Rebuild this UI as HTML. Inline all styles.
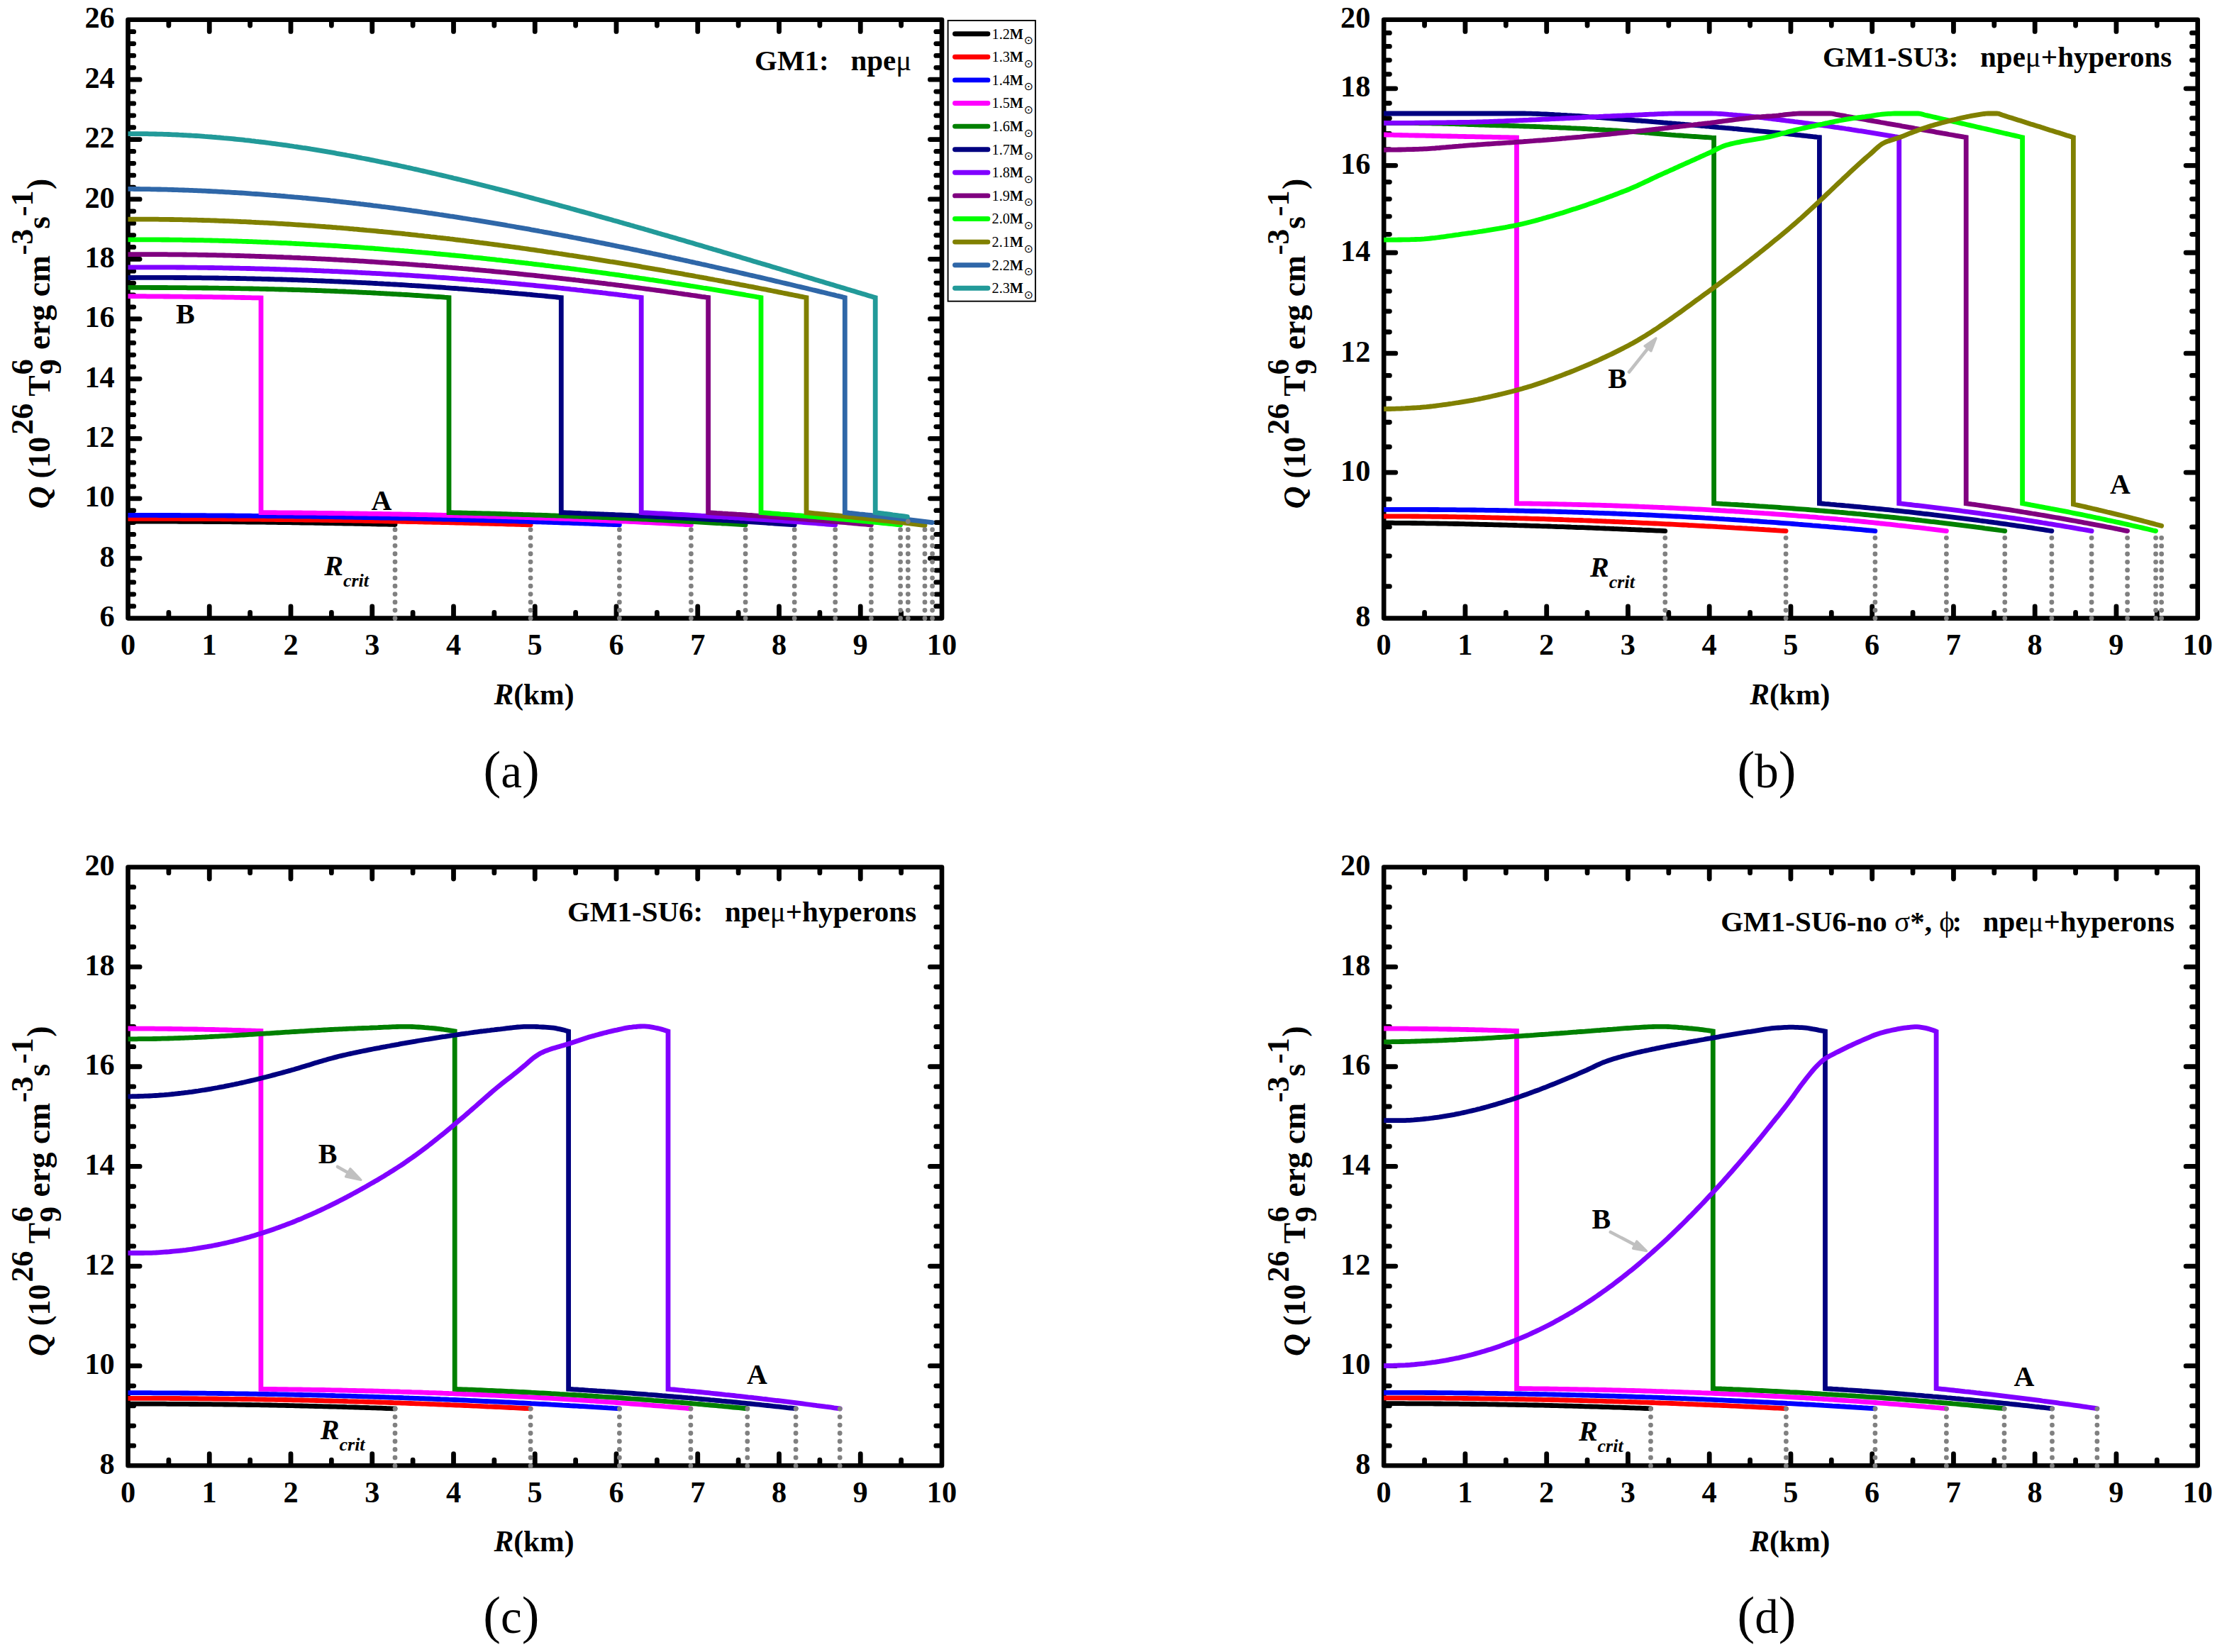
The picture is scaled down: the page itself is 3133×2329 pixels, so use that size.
<!DOCTYPE html>
<html><head><meta charset="utf-8"><title>Q versus R for GM1 models</title>
<style>html,body{margin:0;padding:0;background:#fff}svg{display:block}</style></head>
<body>
<svg width="3133" height="2329" viewBox="0 0 3133 2329">
<defs><clipPath id="ca"><rect x="180.5" y="7.800000000000001" width="1167.5" height="883.8000000000001"/></clipPath><clipPath id="cb"><rect x="1951.2" y="7.800000000000001" width="1167.4999999999998" height="883.8000000000001"/></clipPath><clipPath id="cc"><rect x="180.5" y="1202.5" width="1167.5" height="883.8000000000002"/></clipPath><clipPath id="cd"><rect x="1951.2" y="1202.5" width="1167.4999999999998" height="883.8000000000002"/></clipPath></defs>
<rect width="3133" height="2329" fill="#fff"/>
<rect x="180.5" y="27.8" width="1147.50" height="843.80" fill="none" stroke="#000" stroke-width="6.6" stroke-linejoin="round"/>
<path d="M237.88 869.6 v-6.199999999999999 M237.88 29.8 v6.199999999999999 M295.25 869.6 v-14.600000000000001 M295.25 29.8 v14.600000000000001 M352.62 869.6 v-6.199999999999999 M352.62 29.8 v6.199999999999999 M410.00 869.6 v-14.600000000000001 M410.00 29.8 v14.600000000000001 M467.38 869.6 v-6.199999999999999 M467.38 29.8 v6.199999999999999 M524.75 869.6 v-14.600000000000001 M524.75 29.8 v14.600000000000001 M582.12 869.6 v-6.199999999999999 M582.12 29.8 v6.199999999999999 M639.50 869.6 v-14.600000000000001 M639.50 29.8 v14.600000000000001 M696.88 869.6 v-6.199999999999999 M696.88 29.8 v6.199999999999999 M754.25 869.6 v-14.600000000000001 M754.25 29.8 v14.600000000000001 M811.62 869.6 v-6.199999999999999 M811.62 29.8 v6.199999999999999 M869.00 869.6 v-14.600000000000001 M869.00 29.8 v14.600000000000001 M926.38 869.6 v-6.199999999999999 M926.38 29.8 v6.199999999999999 M983.75 869.6 v-14.600000000000001 M983.75 29.8 v14.600000000000001 M1041.12 869.6 v-6.199999999999999 M1041.12 29.8 v6.199999999999999 M1098.50 869.6 v-14.600000000000001 M1098.50 29.8 v14.600000000000001 M1155.88 869.6 v-6.199999999999999 M1155.88 29.8 v6.199999999999999 M1213.25 869.6 v-14.600000000000001 M1213.25 29.8 v14.600000000000001 M1270.62 869.6 v-6.199999999999999 M1270.62 29.8 v6.199999999999999 M182.5 787.22 h14.600000000000001 M1326.0 787.22 h-14.600000000000001 M182.5 702.84 h14.600000000000001 M1326.0 702.84 h-14.600000000000001 M182.5 618.46 h14.600000000000001 M1326.0 618.46 h-14.600000000000001 M182.5 534.08 h14.600000000000001 M1326.0 534.08 h-14.600000000000001 M182.5 449.70 h14.600000000000001 M1326.0 449.70 h-14.600000000000001 M182.5 365.32 h14.600000000000001 M1326.0 365.32 h-14.600000000000001 M182.5 280.94 h14.600000000000001 M1326.0 280.94 h-14.600000000000001 M182.5 196.56 h14.600000000000001 M1326.0 196.56 h-14.600000000000001 M182.5 112.18 h14.600000000000001 M1326.0 112.18 h-14.600000000000001 M182.5 854.72 h6.199999999999999 M1326.0 854.72 h-6.199999999999999 M182.5 837.85 h6.199999999999999 M1326.0 837.85 h-6.199999999999999 M182.5 820.97 h6.199999999999999 M1326.0 820.97 h-6.199999999999999 M182.5 804.10 h6.199999999999999 M1326.0 804.10 h-6.199999999999999 M182.5 770.34 h6.199999999999999 M1326.0 770.34 h-6.199999999999999 M182.5 753.47 h6.199999999999999 M1326.0 753.47 h-6.199999999999999 M182.5 736.59 h6.199999999999999 M1326.0 736.59 h-6.199999999999999 M182.5 719.72 h6.199999999999999 M1326.0 719.72 h-6.199999999999999 M182.5 685.96 h6.199999999999999 M1326.0 685.96 h-6.199999999999999 M182.5 669.09 h6.199999999999999 M1326.0 669.09 h-6.199999999999999 M182.5 652.21 h6.199999999999999 M1326.0 652.21 h-6.199999999999999 M182.5 635.34 h6.199999999999999 M1326.0 635.34 h-6.199999999999999 M182.5 601.58 h6.199999999999999 M1326.0 601.58 h-6.199999999999999 M182.5 584.71 h6.199999999999999 M1326.0 584.71 h-6.199999999999999 M182.5 567.83 h6.199999999999999 M1326.0 567.83 h-6.199999999999999 M182.5 550.96 h6.199999999999999 M1326.0 550.96 h-6.199999999999999 M182.5 517.20 h6.199999999999999 M1326.0 517.20 h-6.199999999999999 M182.5 500.33 h6.199999999999999 M1326.0 500.33 h-6.199999999999999 M182.5 483.45 h6.199999999999999 M1326.0 483.45 h-6.199999999999999 M182.5 466.58 h6.199999999999999 M1326.0 466.58 h-6.199999999999999 M182.5 432.82 h6.199999999999999 M1326.0 432.82 h-6.199999999999999 M182.5 415.95 h6.199999999999999 M1326.0 415.95 h-6.199999999999999 M182.5 399.07 h6.199999999999999 M1326.0 399.07 h-6.199999999999999 M182.5 382.20 h6.199999999999999 M1326.0 382.20 h-6.199999999999999 M182.5 348.44 h6.199999999999999 M1326.0 348.44 h-6.199999999999999 M182.5 331.57 h6.199999999999999 M1326.0 331.57 h-6.199999999999999 M182.5 314.69 h6.199999999999999 M1326.0 314.69 h-6.199999999999999 M182.5 297.82 h6.199999999999999 M1326.0 297.82 h-6.199999999999999 M182.5 264.06 h6.199999999999999 M1326.0 264.06 h-6.199999999999999 M182.5 247.19 h6.199999999999999 M1326.0 247.19 h-6.199999999999999 M182.5 230.31 h6.199999999999999 M1326.0 230.31 h-6.199999999999999 M182.5 213.44 h6.199999999999999 M1326.0 213.44 h-6.199999999999999 M182.5 179.68 h6.199999999999999 M1326.0 179.68 h-6.199999999999999 M182.5 162.81 h6.199999999999999 M1326.0 162.81 h-6.199999999999999 M182.5 145.93 h6.199999999999999 M1326.0 145.93 h-6.199999999999999 M182.5 129.06 h6.199999999999999 M1326.0 129.06 h-6.199999999999999 M182.5 95.30 h6.199999999999999 M1326.0 95.30 h-6.199999999999999 M182.5 78.43 h6.199999999999999 M1326.0 78.43 h-6.199999999999999 M182.5 61.55 h6.199999999999999 M1326.0 61.55 h-6.199999999999999 M182.5 44.68 h6.199999999999999 M1326.0 44.68 h-6.199999999999999" fill="none" stroke="#000" stroke-width="6.8" stroke-linecap="round"/>
<g font-family='"Liberation Serif", "DejaVu Serif", serif' font-weight="bold" font-size="42.3" fill="#000">
<g text-anchor="middle">
<text x="180.5" y="922.8">0</text>
<text x="295.2" y="922.8">1</text>
<text x="410.0" y="922.8">2</text>
<text x="524.8" y="922.8">3</text>
<text x="639.5" y="922.8">4</text>
<text x="754.2" y="922.8">5</text>
<text x="869.0" y="922.8">6</text>
<text x="983.8" y="922.8">7</text>
<text x="1098.5" y="922.8">8</text>
<text x="1213.2" y="922.8">9</text>
<text x="1328.0" y="922.8">10</text>
</g><g text-anchor="end">
<text x="161.7" y="883.2">6</text>
<text x="161.7" y="798.8">8</text>
<text x="161.7" y="714.4">10</text>
<text x="161.7" y="630.1">12</text>
<text x="161.7" y="545.7">14</text>
<text x="161.7" y="461.3">16</text>
<text x="161.7" y="376.9">18</text>
<text x="161.7" y="292.5">20</text>
<text x="161.7" y="208.2">22</text>
<text x="161.7" y="123.8">24</text>
<text x="161.7" y="39.4">26</text>
</g></g>
<text transform="translate(69.5,717.3) rotate(-90)" font-family='"Liberation Serif", "DejaVu Serif", serif' font-weight="bold" font-size="44" fill="#000" xml:space="preserve"><tspan font-style="italic">Q</tspan> (10<tspan dx="3" dy="-23.1">26</tspan><tspan dy="23.1"> T</tspan><tspan dx="1" dy="-23.1">6</tspan><tspan dx="-22" dy="39.2">9</tspan><tspan dx="2" dy="-16.1" font-size="45.6"> erg cm</tspan><tspan dx="0.5" dy="-23.1">-3</tspan><tspan dy="23.1" font-size="45.6">s</tspan><tspan dy="-23.1">-1</tspan><tspan dx="1.5" dy="23.1" font-size="45.6">)</tspan></text>
<text x="753.0" y="992.7" text-anchor="middle" font-family='"Liberation Serif", "DejaVu Serif", serif' font-weight="bold" font-size="41.5" fill="#000"><tspan font-style="italic">R</tspan>(km)</text>
<g clip-path="url(#ca)" fill="none" stroke-width="6.8" stroke-linecap="round" stroke-linejoin="miter">
<path d="M180.5 735.1 L184.5 735.1 L188.5 735.1 L192.5 735.1 L196.5 735.1 L200.5 735.1 L204.5 735.1 L208.5 735.1 L212.5 735.1 L216.5 735.1 L220.6 735.1 L224.6 735.2 L228.6 735.2 L232.6 735.2 L236.6 735.2 L240.6 735.2 L244.6 735.2 L248.6 735.2 L252.6 735.3 L256.6 735.3 L260.6 735.3 L264.6 735.3 L268.6 735.3 L272.6 735.4 L276.6 735.4 L280.6 735.4 L284.6 735.4 L288.6 735.5 L292.6 735.5 L296.7 735.5 L300.7 735.5 L304.7 735.6 L308.7 735.6 L312.7 735.6 L316.7 735.7 L320.7 735.7 L324.7 735.7 L328.7 735.8 L332.7 735.8 L336.7 735.9 L340.7 735.9 L344.7 735.9 L348.7 736.0 L352.7 736.0 L356.7 736.1 L360.7 736.1 L364.7 736.2 L368.8 736.2 L372.8 736.2 L376.8 736.3 L380.8 736.3 L384.8 736.4 L388.8 736.4 L392.8 736.5 L396.8 736.6 L400.8 736.6 L404.8 736.7 L408.8 736.7 L412.8 736.8 L416.8 736.8 L420.8 736.9 L424.8 737.0 L428.8 737.0 L432.8 737.1 L436.8 737.1 L440.8 737.2 L444.9 737.3 L448.9 737.3 L452.9 737.4 L456.9 737.5 L460.9 737.5 L464.9 737.6 L468.9 737.7 L472.9 737.8 L476.9 737.8 L480.9 737.9 L484.9 738.0 L488.9 738.1 L492.9 738.1 L496.9 738.2 L500.9 738.3 L504.9 738.4 L508.9 738.4 L512.9 738.5 L516.9 738.6 L521.0 738.7 L525.0 738.8 L529.0 738.9 L533.0 739.0 L537.0 739.0 L541.0 739.1 L545.0 739.2 L549.0 739.3 L553.0 739.4 L557.0 739.5" stroke="#000000"/>
<path d="M180.5 731.3 L184.5 731.3 L188.6 731.3 L192.6 731.3 L196.6 731.3 L200.6 731.3 L204.7 731.3 L208.7 731.3 L212.7 731.3 L216.7 731.3 L220.8 731.3 L224.8 731.4 L228.8 731.4 L232.8 731.4 L236.9 731.4 L240.9 731.4 L244.9 731.4 L248.9 731.4 L253.0 731.4 L257.0 731.5 L261.0 731.5 L265.0 731.5 L269.1 731.5 L273.1 731.5 L277.1 731.5 L281.1 731.6 L285.2 731.6 L289.2 731.6 L293.2 731.6 L297.2 731.7 L301.3 731.7 L305.3 731.7 L309.3 731.7 L313.3 731.8 L317.4 731.8 L321.4 731.8 L325.4 731.9 L329.4 731.9 L333.5 731.9 L337.5 732.0 L341.5 732.0 L345.5 732.0 L349.6 732.1 L353.6 732.1 L357.6 732.1 L361.6 732.2 L365.7 732.2 L369.7 732.3 L373.7 732.3 L377.8 732.3 L381.8 732.4 L385.8 732.4 L389.8 732.5 L393.9 732.5 L397.9 732.6 L401.9 732.6 L405.9 732.7 L410.0 732.7 L414.0 732.8 L418.0 732.8 L422.0 732.9 L426.1 732.9 L430.1 733.0 L434.1 733.0 L438.1 733.1 L442.2 733.1 L446.2 733.2 L450.2 733.2 L454.2 733.3 L458.3 733.4 L462.3 733.4 L466.3 733.5 L470.3 733.5 L474.4 733.6 L478.4 733.7 L482.4 733.7 L486.4 733.8 L490.5 733.9 L494.5 733.9 L498.5 734.0 L502.5 734.1 L506.6 734.1 L510.6 734.2 L514.6 734.3 L518.6 734.4 L522.7 734.4 L526.7 734.5 L530.7 734.6 L534.7 734.6 L538.8 734.7 L542.8 734.8 L546.8 734.9 L550.8 735.0 L554.9 735.0 L558.9 735.1 L562.9 735.2 L567.0 735.3 L571.0 735.4 L575.0 735.5 L579.0 735.5 L583.1 735.6 L587.1 735.7 L591.1 735.8 L595.1 735.9 L599.2 736.0 L603.2 736.1 L607.2 736.2 L611.2 736.3 L615.3 736.3 L619.3 736.4 L623.3 736.5 L627.3 736.6 L631.4 736.7 L635.4 736.8 L639.4 736.9 L643.4 737.0 L647.5 737.1 L651.5 737.2 L655.5 737.3 L659.5 737.4 L663.6 737.5 L667.6 737.6 L671.6 737.7 L675.6 737.8 L679.7 738.0 L683.7 738.1 L687.7 738.2 L691.7 738.3 L695.8 738.4 L699.8 738.5 L703.8 738.6 L707.8 738.7 L711.9 738.8 L715.9 739.0 L719.9 739.1 L723.9 739.2 L728.0 739.3 L732.0 739.4 L736.0 739.5 L740.0 739.7 L744.1 739.8 L748.1 739.9" stroke="#ff0000"/>
<path d="M180.5 726.4 L184.5 726.4 L188.5 726.4 L192.5 726.4 L196.5 726.4 L200.5 726.4 L204.5 726.4 L208.5 726.4 L212.5 726.4 L216.5 726.4 L220.6 726.4 L224.6 726.5 L228.6 726.5 L232.6 726.5 L236.6 726.5 L240.6 726.5 L244.6 726.5 L248.6 726.5 L252.6 726.5 L256.6 726.6 L260.6 726.6 L264.6 726.6 L268.6 726.6 L272.6 726.6 L276.6 726.7 L280.6 726.7 L284.6 726.7 L288.6 726.7 L292.6 726.8 L296.7 726.8 L300.7 726.8 L304.7 726.8 L308.7 726.9 L312.7 726.9 L316.7 726.9 L320.7 727.0 L324.7 727.0 L328.7 727.0 L332.7 727.1 L336.7 727.1 L340.7 727.1 L344.7 727.2 L348.7 727.2 L352.7 727.2 L356.7 727.3 L360.7 727.3 L364.7 727.4 L368.7 727.4 L372.7 727.4 L376.8 727.5 L380.8 727.5 L384.8 727.6 L388.8 727.6 L392.8 727.7 L396.8 727.7 L400.8 727.8 L404.8 727.8 L408.8 727.9 L412.8 727.9 L416.8 728.0 L420.8 728.0 L424.8 728.1 L428.8 728.1 L432.8 728.2 L436.8 728.2 L440.8 728.3 L444.8 728.4 L448.8 728.4 L452.9 728.5 L456.9 728.5 L460.9 728.6 L464.9 728.7 L468.9 728.7 L472.9 728.8 L476.9 728.9 L480.9 728.9 L484.9 729.0 L488.9 729.1 L492.9 729.1 L496.9 729.2 L500.9 729.3 L504.9 729.4 L508.9 729.4 L512.9 729.5 L516.9 729.6 L520.9 729.7 L524.9 729.7 L529.0 729.8 L533.0 729.9 L537.0 730.0 L541.0 730.1 L545.0 730.1 L549.0 730.2 L553.0 730.3 L557.0 730.4 L561.0 730.5 L565.0 730.6 L569.0 730.6 L573.0 730.7 L577.0 730.8 L581.0 730.9 L585.0 731.0 L589.0 731.1 L593.0 731.2 L597.0 731.3 L601.0 731.4 L605.1 731.5 L609.1 731.6 L613.1 731.7 L617.1 731.8 L621.1 731.9 L625.1 732.0 L629.1 732.1 L633.1 732.2 L637.1 732.3 L641.1 732.4 L645.1 732.5 L649.1 732.6 L653.1 732.7 L657.1 732.8 L661.1 732.9 L665.1 733.0 L669.1 733.1 L673.1 733.2 L677.1 733.3 L681.2 733.4 L685.2 733.6 L689.2 733.7 L693.2 733.8 L697.2 733.9 L701.2 734.0 L705.2 734.1 L709.2 734.3 L713.2 734.4 L717.2 734.5 L721.2 734.6 L725.2 734.7 L729.2 734.9 L733.2 735.0 L737.2 735.1 L741.2 735.2 L745.2 735.4 L749.2 735.5 L753.2 735.6 L757.2 735.8 L761.3 735.9 L765.3 736.0 L769.3 736.1 L773.3 736.3 L777.3 736.4 L781.3 736.5 L785.3 736.7 L789.3 736.8 L793.3 737.0 L797.3 737.1 L801.3 737.2 L805.3 737.4 L809.3 737.5 L813.3 737.7 L817.3 737.8 L821.3 737.9 L825.3 738.1 L829.3 738.2 L833.3 738.4 L837.4 738.5 L841.4 738.7 L845.4 738.8 L849.4 739.0 L853.4 739.1 L857.4 739.3 L861.4 739.4 L865.4 739.6 L869.4 739.7 L873.4 739.9" stroke="#0000ff"/>
<path d="M180.5 417.6 L183.5 417.6 L186.5 417.6 L189.6 417.6 L192.6 417.7 L195.6 417.7 L198.6 417.7 L201.7 417.7 L204.7 417.7 L207.7 417.8 L210.7 417.8 L213.8 417.8 L216.8 417.8 L219.8 417.9 L222.8 417.9 L225.9 417.9 L228.9 417.9 L231.9 418.0 L234.9 418.0 L238.0 418.0 L241.0 418.1 L244.0 418.1 L247.0 418.1 L250.1 418.2 L253.1 418.2 L256.1 418.2 L259.1 418.3 L262.2 418.3 L265.2 418.3 L268.2 418.4 L271.2 418.4 L274.2 418.4 L277.3 418.5 L280.3 418.5 L283.3 418.5 L286.3 418.6 L289.4 418.6 L292.4 418.7 L295.4 418.7 L298.4 418.7 L301.5 418.8 L304.5 418.8 L307.5 418.9 L310.5 418.9 L313.6 419.0 L316.6 419.0 L319.6 419.1 L322.6 419.1 L325.7 419.2 L328.7 419.2 L331.7 419.3 L334.7 419.3 L337.8 419.4 L340.8 419.5 L343.8 419.5 L346.8 419.6 L349.9 419.6 L352.9 419.7 L355.9 419.8 L358.9 419.8 L362.0 419.9 L365.0 419.9 L368.0 420.0 L368.0 722.6 L372.0 722.6 L376.0 722.7 L380.0 722.7 L384.1 722.7 L388.1 722.7 L392.1 722.8 L396.1 722.8 L400.1 722.8 L404.1 722.9 L408.2 722.9 L412.2 722.9 L416.2 723.0 L420.2 723.0 L424.2 723.0 L428.2 723.1 L432.3 723.1 L436.3 723.2 L440.3 723.2 L444.3 723.2 L448.3 723.3 L452.3 723.3 L456.3 723.4 L460.4 723.4 L464.4 723.5 L468.4 723.5 L472.4 723.6 L476.4 723.6 L480.4 723.7 L484.5 723.7 L488.5 723.8 L492.5 723.8 L496.5 723.9 L500.5 724.0 L504.5 724.0 L508.6 724.1 L512.6 724.1 L516.6 724.2 L520.6 724.3 L524.6 724.3 L528.6 724.4 L532.7 724.4 L536.7 724.5 L540.7 724.6 L544.7 724.7 L548.7 724.7 L552.7 724.8 L556.7 724.9 L560.8 724.9 L564.8 725.0 L568.8 725.1 L572.8 725.2 L576.8 725.2 L580.8 725.3 L584.9 725.4 L588.9 725.5 L592.9 725.6 L596.9 725.7 L600.9 725.7 L604.9 725.8 L609.0 725.9 L613.0 726.0 L617.0 726.1 L621.0 726.2 L625.0 726.3 L629.0 726.4 L633.0 726.5 L637.1 726.6 L641.1 726.7 L645.1 726.8 L649.1 726.9 L653.1 727.0 L657.1 727.1 L661.2 727.2 L665.2 727.3 L669.2 727.4 L673.2 727.5 L677.2 727.6 L681.2 727.7 L685.3 727.8 L689.3 728.0 L693.3 728.1 L697.3 728.2 L701.3 728.3 L705.3 728.4 L709.4 728.6 L713.4 728.7 L717.4 728.8 L721.4 728.9 L725.4 729.1 L729.4 729.2 L733.4 729.3 L737.5 729.4 L741.5 729.6 L745.5 729.7 L749.5 729.9 L753.5 730.0 L757.5 730.1 L761.6 730.3 L765.6 730.4 L769.6 730.6 L773.6 730.7 L777.6 730.8 L781.6 731.0 L785.7 731.1 L789.7 731.3 L793.7 731.4 L797.7 731.6 L801.7 731.7 L805.7 731.9 L809.7 732.1 L813.8 732.2 L817.8 732.4 L821.8 732.5 L825.8 732.7 L829.8 732.9 L833.8 733.0 L837.9 733.2 L841.9 733.4 L845.9 733.6 L849.9 733.7 L853.9 733.9 L857.9 734.1 L862.0 734.3 L866.0 734.4 L870.0 734.6 L874.0 734.8 L878.0 735.0 L882.0 735.2 L886.1 735.4 L890.1 735.5 L894.1 735.7 L898.1 735.9 L902.1 736.1 L906.1 736.3 L910.1 736.5 L914.2 736.7 L918.2 736.9 L922.2 737.1 L926.2 737.3 L930.2 737.5 L934.2 737.7 L938.3 737.9 L942.3 738.2 L946.3 738.4 L950.3 738.6 L954.3 738.8 L958.3 739.0 L962.4 739.2 L966.4 739.5 L970.4 739.7 L974.4 739.9" stroke="#ff00ff"/>
<path d="M180.5 405.4 L183.5 405.4 L186.5 405.4 L189.6 405.4 L192.6 405.4 L195.6 405.4 L198.6 405.4 L201.6 405.4 L204.6 405.4 L207.7 405.4 L210.7 405.4 L213.7 405.5 L216.7 405.5 L219.7 405.5 L222.7 405.5 L225.8 405.5 L228.8 405.5 L231.8 405.5 L234.8 405.5 L237.8 405.6 L240.8 405.6 L243.8 405.6 L246.9 405.6 L249.9 405.6 L252.9 405.7 L255.9 405.7 L258.9 405.7 L261.9 405.7 L265.0 405.8 L268.0 405.8 L271.0 405.8 L274.0 405.8 L277.0 405.9 L280.1 405.9 L283.1 405.9 L286.1 406.0 L289.1 406.0 L292.1 406.0 L295.1 406.1 L298.1 406.1 L301.2 406.1 L304.2 406.2 L307.2 406.2 L310.2 406.3 L313.2 406.3 L316.2 406.4 L319.3 406.4 L322.3 406.4 L325.3 406.5 L328.3 406.5 L331.3 406.6 L334.4 406.6 L337.4 406.7 L340.4 406.8 L343.4 406.8 L346.4 406.9 L349.4 406.9 L352.4 407.0 L355.5 407.0 L358.5 407.1 L361.5 407.2 L364.5 407.2 L367.5 407.3 L370.5 407.4 L373.6 407.4 L376.6 407.5 L379.6 407.6 L382.6 407.7 L385.6 407.7 L388.6 407.8 L391.7 407.9 L394.7 408.0 L397.7 408.0 L400.7 408.1 L403.7 408.2 L406.8 408.3 L409.8 408.4 L412.8 408.5 L415.8 408.6 L418.8 408.6 L421.8 408.7 L424.9 408.8 L427.9 408.9 L430.9 409.0 L433.9 409.1 L436.9 409.2 L439.9 409.3 L442.9 409.4 L446.0 409.5 L449.0 409.6 L452.0 409.7 L455.0 409.9 L458.0 410.0 L461.1 410.1 L464.1 410.2 L467.1 410.3 L470.1 410.4 L473.1 410.5 L476.1 410.7 L479.1 410.8 L482.2 410.9 L485.2 411.0 L488.2 411.2 L491.2 411.3 L494.2 411.4 L497.2 411.6 L500.3 411.7 L503.3 411.8 L506.3 412.0 L509.3 412.1 L512.3 412.3 L515.3 412.4 L518.4 412.6 L521.4 412.7 L524.4 412.9 L527.4 413.0 L530.4 413.2 L533.5 413.3 L536.5 413.5 L539.5 413.6 L542.5 413.8 L545.5 414.0 L548.5 414.1 L551.5 414.3 L554.6 414.5 L557.6 414.6 L560.6 414.8 L563.6 415.0 L566.6 415.2 L569.6 415.3 L572.7 415.5 L575.7 415.7 L578.7 415.9 L581.7 416.1 L584.7 416.3 L587.8 416.5 L590.8 416.7 L593.8 416.9 L596.8 417.1 L599.8 417.3 L602.8 417.5 L605.8 417.7 L608.9 417.9 L611.9 418.1 L614.9 418.3 L617.9 418.5 L620.9 418.7 L624.0 418.9 L627.0 419.2 L630.0 419.4 L633.0 419.6 L633.0 722.6 L637.0 722.7 L641.0 722.8 L645.1 722.9 L649.1 723.0 L653.1 723.1 L657.1 723.2 L661.1 723.3 L665.2 723.4 L669.2 723.5 L673.2 723.6 L677.2 723.7 L681.2 723.8 L685.3 723.9 L689.3 724.0 L693.3 724.1 L697.3 724.2 L701.3 724.4 L705.4 724.5 L709.4 724.6 L713.4 724.7 L717.4 724.8 L721.4 725.0 L725.5 725.1 L729.5 725.2 L733.5 725.3 L737.5 725.5 L741.5 725.6 L745.6 725.7 L749.6 725.8 L753.6 726.0 L757.6 726.1 L761.6 726.2 L765.7 726.4 L769.7 726.5 L773.7 726.6 L777.7 726.8 L781.7 726.9 L785.8 727.1 L789.8 727.2 L793.8 727.4 L797.8 727.5 L801.8 727.7 L805.9 727.8 L809.9 728.0 L813.9 728.1 L817.9 728.3 L821.9 728.4 L826.0 728.6 L830.0 728.7 L834.0 728.9 L838.0 729.1 L842.0 729.2 L846.1 729.4 L850.1 729.6 L854.1 729.7 L858.1 729.9 L862.2 730.1 L866.2 730.2 L870.2 730.4 L874.2 730.6 L878.2 730.8 L882.3 730.9 L886.3 731.1 L890.3 731.3 L894.3 731.5 L898.3 731.7 L902.4 731.9 L906.4 732.1 L910.4 732.2 L914.4 732.4 L918.4 732.6 L922.5 732.8 L926.5 733.0 L930.5 733.2 L934.5 733.4 L938.5 733.6 L942.6 733.8 L946.6 734.0 L950.6 734.2 L954.6 734.4 L958.6 734.6 L962.7 734.9 L966.7 735.1 L970.7 735.3 L974.7 735.5 L978.7 735.7 L982.8 735.9 L986.8 736.1 L990.8 736.4 L994.8 736.6 L998.8 736.8 L1002.9 737.0 L1006.9 737.3 L1010.9 737.5 L1014.9 737.7 L1018.9 738.0 L1023.0 738.2 L1027.0 738.4 L1031.0 738.7 L1035.0 738.9 L1039.0 739.2 L1043.1 739.4 L1047.1 739.7 L1051.1 739.9" stroke="#008000"/>
<path d="M180.5 391.5 L183.5 391.5 L186.5 391.5 L189.5 391.5 L192.5 391.4 L195.5 391.4 L198.6 391.4 L201.6 391.4 L204.6 391.4 L207.6 391.4 L210.6 391.4 L213.6 391.4 L216.6 391.4 L219.6 391.4 L222.6 391.4 L225.6 391.4 L228.6 391.4 L231.7 391.4 L234.7 391.4 L237.7 391.4 L240.7 391.4 L243.7 391.4 L246.7 391.5 L249.7 391.5 L252.7 391.5 L255.7 391.5 L258.7 391.5 L261.7 391.5 L264.7 391.6 L267.8 391.6 L270.8 391.6 L273.8 391.6 L276.8 391.7 L279.8 391.7 L282.8 391.7 L285.8 391.8 L288.8 391.8 L291.8 391.8 L294.8 391.9 L297.8 391.9 L300.9 391.9 L303.9 392.0 L306.9 392.0 L309.9 392.1 L312.9 392.1 L315.9 392.2 L318.9 392.2 L321.9 392.3 L324.9 392.3 L327.9 392.4 L330.9 392.4 L334.0 392.5 L337.0 392.5 L340.0 392.6 L343.0 392.7 L346.0 392.7 L349.0 392.8 L352.0 392.9 L355.0 392.9 L358.0 393.0 L361.0 393.1 L364.0 393.1 L367.0 393.2 L370.1 393.3 L373.1 393.4 L376.1 393.4 L379.1 393.5 L382.1 393.6 L385.1 393.7 L388.1 393.8 L391.1 393.9 L394.1 393.9 L397.1 394.0 L400.1 394.1 L403.2 394.2 L406.2 394.3 L409.2 394.4 L412.2 394.5 L415.2 394.6 L418.2 394.7 L421.2 394.8 L424.2 394.9 L427.2 395.0 L430.2 395.1 L433.2 395.2 L436.3 395.3 L439.3 395.4 L442.3 395.6 L445.3 395.7 L448.3 395.8 L451.3 395.9 L454.3 396.0 L457.3 396.1 L460.3 396.3 L463.3 396.4 L466.3 396.5 L469.4 396.6 L472.4 396.8 L475.4 396.9 L478.4 397.0 L481.4 397.2 L484.4 397.3 L487.4 397.4 L490.4 397.6 L493.4 397.7 L496.4 397.9 L499.4 398.0 L502.4 398.1 L505.5 398.3 L508.5 398.4 L511.5 398.6 L514.5 398.7 L517.5 398.9 L520.5 399.0 L523.5 399.2 L526.5 399.4 L529.5 399.5 L532.5 399.7 L535.5 399.8 L538.6 400.0 L541.6 400.2 L544.6 400.3 L547.6 400.5 L550.6 400.7 L553.6 400.8 L556.6 401.0 L559.6 401.2 L562.6 401.4 L565.6 401.5 L568.6 401.7 L571.7 401.9 L574.7 402.1 L577.7 402.3 L580.7 402.5 L583.7 402.6 L586.7 402.8 L589.7 403.0 L592.7 403.2 L595.7 403.4 L598.7 403.6 L601.7 403.8 L604.8 404.0 L607.8 404.2 L610.8 404.4 L613.8 404.6 L616.8 404.8 L619.8 405.0 L622.8 405.2 L625.8 405.4 L628.8 405.7 L631.8 405.9 L634.8 406.1 L637.8 406.3 L640.9 406.5 L643.9 406.7 L646.9 407.0 L649.9 407.2 L652.9 407.4 L655.9 407.6 L658.9 407.9 L661.9 408.1 L664.9 408.3 L667.9 408.6 L670.9 408.8 L674.0 409.0 L677.0 409.3 L680.0 409.5 L683.0 409.8 L686.0 410.0 L689.0 410.2 L692.0 410.5 L695.0 410.7 L698.0 411.0 L701.0 411.2 L704.0 411.5 L707.1 411.8 L710.1 412.0 L713.1 412.3 L716.1 412.5 L719.1 412.8 L722.1 413.1 L725.1 413.3 L728.1 413.6 L731.1 413.9 L734.1 414.1 L737.1 414.4 L740.1 414.7 L743.2 415.0 L746.2 415.2 L749.2 415.5 L752.2 415.8 L755.2 416.1 L758.2 416.4 L761.2 416.6 L764.2 416.9 L767.2 417.2 L770.2 417.5 L773.2 417.8 L776.3 418.1 L779.3 418.4 L782.3 418.7 L785.3 419.0 L788.3 419.3 L791.3 419.6 L791.3 722.6 L795.3 722.7 L799.3 722.9 L803.3 723.0 L807.3 723.2 L811.4 723.4 L815.4 723.5 L819.4 723.7 L823.4 723.8 L827.4 724.0 L831.4 724.1 L835.4 724.3 L839.4 724.5 L843.4 724.6 L847.5 724.8 L851.5 725.0 L855.5 725.1 L859.5 725.3 L863.5 725.5 L867.5 725.7 L871.5 725.8 L875.5 726.0 L879.5 726.2 L883.6 726.4 L887.6 726.5 L891.6 726.7 L895.6 726.9 L899.6 727.1 L903.6 727.3 L907.6 727.5 L911.6 727.7 L915.6 727.9 L919.7 728.1 L923.7 728.3 L927.7 728.5 L931.7 728.7 L935.7 728.9 L939.7 729.1 L943.7 729.3 L947.7 729.5 L951.7 729.7 L955.8 729.9 L959.8 730.1 L963.8 730.3 L967.8 730.5 L971.8 730.7 L975.8 731.0 L979.8 731.2 L983.8 731.4 L987.8 731.6 L991.8 731.8 L995.9 732.1 L999.9 732.3 L1003.9 732.5 L1007.9 732.7 L1011.9 733.0 L1015.9 733.2 L1019.9 733.5 L1023.9 733.7 L1027.9 733.9 L1032.0 734.2 L1036.0 734.4 L1040.0 734.7 L1044.0 734.9 L1048.0 735.1 L1052.0 735.4 L1056.0 735.6 L1060.0 735.9 L1064.0 736.2 L1068.1 736.4 L1072.1 736.7 L1076.1 736.9 L1080.1 737.2 L1084.1 737.5 L1088.1 737.7 L1092.1 738.0 L1096.1 738.3 L1100.1 738.5 L1104.2 738.8 L1108.2 739.1 L1112.2 739.3 L1116.2 739.6 L1120.2 739.9" stroke="#000080"/>
<path d="M180.5 376.8 L183.5 376.8 L186.5 376.8 L189.5 376.8 L192.5 376.8 L195.5 376.8 L198.5 376.8 L201.5 376.8 L204.5 376.8 L207.5 376.8 L210.5 376.8 L213.5 376.8 L216.5 376.8 L219.5 376.8 L222.5 376.8 L225.5 376.8 L228.5 376.8 L231.5 376.8 L234.6 376.9 L237.6 376.9 L240.6 376.9 L243.6 376.9 L246.6 376.9 L249.6 377.0 L252.6 377.0 L255.6 377.0 L258.6 377.0 L261.6 377.1 L264.6 377.1 L267.6 377.1 L270.6 377.2 L273.6 377.2 L276.6 377.2 L279.6 377.3 L282.6 377.3 L285.6 377.3 L288.6 377.4 L291.6 377.4 L294.6 377.5 L297.6 377.5 L300.6 377.5 L303.6 377.6 L306.6 377.6 L309.6 377.7 L312.6 377.7 L315.6 377.8 L318.6 377.9 L321.6 377.9 L324.6 378.0 L327.6 378.0 L330.6 378.1 L333.6 378.1 L336.7 378.2 L339.7 378.3 L342.7 378.3 L345.7 378.4 L348.7 378.5 L351.7 378.5 L354.7 378.6 L357.7 378.7 L360.7 378.8 L363.7 378.8 L366.7 378.9 L369.7 379.0 L372.7 379.1 L375.7 379.2 L378.7 379.2 L381.7 379.3 L384.7 379.4 L387.7 379.5 L390.7 379.6 L393.7 379.7 L396.7 379.8 L399.7 379.9 L402.7 380.0 L405.7 380.1 L408.7 380.2 L411.7 380.3 L414.7 380.4 L417.7 380.5 L420.7 380.6 L423.7 380.7 L426.7 380.8 L429.7 380.9 L432.7 381.0 L435.7 381.1 L438.7 381.2 L441.8 381.4 L444.8 381.5 L447.8 381.6 L450.8 381.7 L453.8 381.8 L456.8 382.0 L459.8 382.1 L462.8 382.2 L465.8 382.3 L468.8 382.5 L471.8 382.6 L474.8 382.7 L477.8 382.9 L480.8 383.0 L483.8 383.1 L486.8 383.3 L489.8 383.4 L492.8 383.6 L495.8 383.7 L498.8 383.9 L501.8 384.0 L504.8 384.2 L507.8 384.3 L510.8 384.5 L513.8 384.6 L516.8 384.8 L519.8 384.9 L522.8 385.1 L525.8 385.3 L528.8 385.4 L531.8 385.6 L534.8 385.7 L537.8 385.9 L540.8 386.1 L543.9 386.3 L546.9 386.4 L549.9 386.6 L552.9 386.8 L555.9 386.9 L558.9 387.1 L561.9 387.3 L564.9 387.5 L567.9 387.7 L570.9 387.9 L573.9 388.0 L576.9 388.2 L579.9 388.4 L582.9 388.6 L585.9 388.8 L588.9 389.0 L591.9 389.2 L594.9 389.4 L597.9 389.6 L600.9 389.8 L603.9 390.0 L606.9 390.2 L609.9 390.4 L612.9 390.6 L615.9 390.9 L618.9 391.1 L621.9 391.3 L624.9 391.5 L627.9 391.7 L630.9 391.9 L633.9 392.2 L636.9 392.4 L639.9 392.6 L642.9 392.8 L646.0 393.1 L649.0 393.3 L652.0 393.5 L655.0 393.8 L658.0 394.0 L661.0 394.2 L664.0 394.5 L667.0 394.7 L670.0 395.0 L673.0 395.2 L676.0 395.4 L679.0 395.7 L682.0 395.9 L685.0 396.2 L688.0 396.4 L691.0 396.7 L694.0 397.0 L697.0 397.2 L700.0 397.5 L703.0 397.7 L706.0 398.0 L709.0 398.3 L712.0 398.5 L715.0 398.8 L718.0 399.1 L721.0 399.4 L724.0 399.6 L727.0 399.9 L730.0 400.2 L733.0 400.5 L736.0 400.8 L739.0 401.0 L742.0 401.3 L745.0 401.6 L748.0 401.9 L751.1 402.2 L754.1 402.5 L757.1 402.8 L760.1 403.1 L763.1 403.4 L766.1 403.7 L769.1 404.0 L772.1 404.3 L775.1 404.6 L778.1 404.9 L781.1 405.2 L784.1 405.5 L787.1 405.8 L790.1 406.2 L793.1 406.5 L796.1 406.8 L799.1 407.1 L802.1 407.4 L805.1 407.8 L808.1 408.1 L811.1 408.4 L814.1 408.8 L817.1 409.1 L820.1 409.4 L823.1 409.8 L826.1 410.1 L829.1 410.4 L832.1 410.8 L835.1 411.1 L838.1 411.5 L841.1 411.8 L844.1 412.2 L847.1 412.5 L850.1 412.9 L853.2 413.2 L856.2 413.6 L859.2 414.0 L862.2 414.3 L865.2 414.7 L868.2 415.0 L871.2 415.4 L874.2 415.8 L877.2 416.2 L880.2 416.5 L883.2 416.9 L886.2 417.3 L889.2 417.7 L892.2 418.1 L895.2 418.4 L898.2 418.8 L901.2 419.2 L904.2 419.6 L904.2 722.6 L908.2 722.8 L912.2 723.0 L916.3 723.2 L920.3 723.4 L924.3 723.6 L928.3 723.8 L932.4 724.0 L936.4 724.2 L940.4 724.4 L944.4 724.6 L948.4 724.9 L952.5 725.1 L956.5 725.3 L960.5 725.5 L964.5 725.7 L968.6 725.9 L972.6 726.2 L976.6 726.4 L980.6 726.6 L984.6 726.8 L988.7 727.1 L992.7 727.3 L996.7 727.5 L1000.7 727.8 L1004.8 728.0 L1008.8 728.3 L1012.8 728.5 L1016.8 728.7 L1020.8 729.0 L1024.9 729.2 L1028.9 729.5 L1032.9 729.7 L1036.9 730.0 L1041.0 730.2 L1045.0 730.5 L1049.0 730.7 L1053.0 731.0 L1057.0 731.3 L1061.1 731.5 L1065.1 731.8 L1069.1 732.0 L1073.1 732.3 L1077.1 732.6 L1081.2 732.8 L1085.2 733.1 L1089.2 733.4 L1093.2 733.7 L1097.3 733.9 L1101.3 734.2 L1105.3 734.5 L1109.3 734.8 L1113.3 735.1 L1117.4 735.4 L1121.4 735.7 L1125.4 735.9 L1129.4 736.2 L1133.5 736.5 L1137.5 736.8 L1141.5 737.1 L1145.5 737.4 L1149.5 737.7 L1153.6 738.0 L1157.6 738.3 L1161.6 738.6 L1165.6 739.0 L1169.7 739.3 L1173.7 739.6 L1177.7 739.9" stroke="#8000ff"/>
<path d="M180.5 358.6 L183.5 358.6 L186.5 358.6 L189.5 358.6 L192.5 358.6 L195.5 358.6 L198.5 358.6 L201.6 358.6 L204.6 358.6 L207.6 358.6 L210.6 358.6 L213.6 358.6 L216.6 358.6 L219.6 358.6 L222.6 358.7 L225.6 358.7 L228.6 358.7 L231.6 358.7 L234.6 358.7 L237.6 358.8 L240.7 358.8 L243.7 358.8 L246.7 358.8 L249.7 358.9 L252.7 358.9 L255.7 358.9 L258.7 359.0 L261.7 359.0 L264.7 359.1 L267.7 359.1 L270.7 359.1 L273.7 359.2 L276.7 359.2 L279.8 359.3 L282.8 359.3 L285.8 359.4 L288.8 359.4 L291.8 359.5 L294.8 359.6 L297.8 359.6 L300.8 359.7 L303.8 359.7 L306.8 359.8 L309.8 359.9 L312.8 359.9 L315.8 360.0 L318.9 360.1 L321.9 360.2 L324.9 360.2 L327.9 360.3 L330.9 360.4 L333.9 360.5 L336.9 360.5 L339.9 360.6 L342.9 360.7 L345.9 360.8 L348.9 360.9 L351.9 361.0 L354.9 361.1 L358.0 361.2 L361.0 361.3 L364.0 361.4 L367.0 361.5 L370.0 361.6 L373.0 361.7 L376.0 361.8 L379.0 361.9 L382.0 362.0 L385.0 362.1 L388.0 362.2 L391.0 362.3 L394.0 362.4 L397.1 362.5 L400.1 362.7 L403.1 362.8 L406.1 362.9 L409.1 363.0 L412.1 363.2 L415.1 363.3 L418.1 363.4 L421.1 363.5 L424.1 363.7 L427.1 363.8 L430.1 363.9 L433.1 364.1 L436.2 364.2 L439.2 364.4 L442.2 364.5 L445.2 364.6 L448.2 364.8 L451.2 364.9 L454.2 365.1 L457.2 365.2 L460.2 365.4 L463.2 365.5 L466.2 365.7 L469.2 365.9 L472.2 366.0 L475.3 366.2 L478.3 366.3 L481.3 366.5 L484.3 366.7 L487.3 366.8 L490.3 367.0 L493.3 367.2 L496.3 367.4 L499.3 367.5 L502.3 367.7 L505.3 367.9 L508.3 368.1 L511.3 368.2 L514.4 368.4 L517.4 368.6 L520.4 368.8 L523.4 369.0 L526.4 369.2 L529.4 369.4 L532.4 369.6 L535.4 369.8 L538.4 370.0 L541.4 370.2 L544.4 370.4 L547.4 370.6 L550.4 370.8 L553.5 371.0 L556.5 371.2 L559.5 371.4 L562.5 371.6 L565.5 371.8 L568.5 372.0 L571.5 372.2 L574.5 372.4 L577.5 372.7 L580.5 372.9 L583.5 373.1 L586.5 373.3 L589.5 373.6 L592.6 373.8 L595.6 374.0 L598.6 374.2 L601.6 374.5 L604.6 374.7 L607.6 374.9 L610.6 375.2 L613.6 375.4 L616.6 375.7 L619.6 375.9 L622.6 376.1 L625.6 376.4 L628.7 376.6 L631.7 376.9 L634.7 377.1 L637.7 377.4 L640.7 377.6 L643.7 377.9 L646.7 378.2 L649.7 378.4 L652.7 378.7 L655.7 378.9 L658.7 379.2 L661.7 379.5 L664.7 379.7 L667.8 380.0 L670.8 380.3 L673.8 380.5 L676.8 380.8 L679.8 381.1 L682.8 381.4 L685.8 381.7 L688.8 381.9 L691.8 382.2 L694.8 382.5 L697.8 382.8 L700.8 383.1 L703.8 383.4 L706.9 383.7 L709.9 383.9 L712.9 384.2 L715.9 384.5 L718.9 384.8 L721.9 385.1 L724.9 385.4 L727.9 385.7 L730.9 386.0 L733.9 386.3 L736.9 386.6 L739.9 387.0 L742.9 387.3 L746.0 387.6 L749.0 387.9 L752.0 388.2 L755.0 388.5 L758.0 388.8 L761.0 389.2 L764.0 389.5 L767.0 389.8 L770.0 390.1 L773.0 390.5 L776.0 390.8 L779.0 391.1 L782.0 391.5 L785.1 391.8 L788.1 392.1 L791.1 392.5 L794.1 392.8 L797.1 393.1 L800.1 393.5 L803.1 393.8 L806.1 394.2 L809.1 394.5 L812.1 394.9 L815.1 395.2 L818.1 395.6 L821.1 395.9 L824.2 396.3 L827.2 396.6 L830.2 397.0 L833.2 397.3 L836.2 397.7 L839.2 398.1 L842.2 398.4 L845.2 398.8 L848.2 399.2 L851.2 399.5 L854.2 399.9 L857.2 400.3 L860.2 400.6 L863.3 401.0 L866.3 401.4 L869.3 401.8 L872.3 402.2 L875.3 402.5 L878.3 402.9 L881.3 403.3 L884.3 403.7 L887.3 404.1 L890.3 404.5 L893.3 404.9 L896.3 405.3 L899.3 405.7 L902.4 406.1 L905.4 406.5 L908.4 406.9 L911.4 407.3 L914.4 407.7 L917.4 408.1 L920.4 408.5 L923.4 408.9 L926.4 409.3 L929.4 409.7 L932.4 410.1 L935.4 410.5 L938.4 410.9 L941.5 411.4 L944.5 411.8 L947.5 412.2 L950.5 412.6 L953.5 413.0 L956.5 413.5 L959.5 413.9 L962.5 414.3 L965.5 414.8 L968.5 415.2 L971.5 415.6 L974.5 416.1 L977.5 416.5 L980.6 416.9 L983.6 417.4 L986.6 417.8 L989.6 418.3 L992.6 418.7 L995.6 419.2 L998.6 419.6 L998.6 722.6 L1002.6 722.8 L1006.7 723.1 L1010.7 723.4 L1014.7 723.6 L1018.8 723.9 L1022.8 724.1 L1026.8 724.4 L1030.9 724.6 L1034.9 724.9 L1038.9 725.2 L1042.9 725.4 L1047.0 725.7 L1051.0 726.0 L1055.0 726.3 L1059.1 726.5 L1063.1 726.8 L1067.1 727.1 L1071.2 727.4 L1075.2 727.7 L1079.2 727.9 L1083.3 728.2 L1087.3 728.5 L1091.3 728.8 L1095.4 729.1 L1099.4 729.4 L1103.4 729.7 L1107.5 730.0 L1111.5 730.3 L1115.5 730.6 L1119.5 730.9 L1123.6 731.2 L1127.6 731.5 L1131.6 731.8 L1135.7 732.1 L1139.7 732.5 L1143.7 732.8 L1147.8 733.1 L1151.8 733.4 L1155.8 733.7 L1159.9 734.1 L1163.9 734.4 L1167.9 734.7 L1172.0 735.1 L1176.0 735.4 L1180.0 735.7 L1184.1 736.1 L1188.1 736.4 L1192.1 736.7 L1196.1 737.1 L1200.2 737.4 L1204.2 737.8 L1208.2 738.1 L1212.3 738.5 L1216.3 738.8 L1220.3 739.2 L1224.4 739.5 L1228.4 739.9" stroke="#800080"/>
<path d="M180.5 337.9 L183.5 337.9 L186.5 337.9 L189.5 337.9 L192.5 337.9 L195.5 337.9 L198.5 337.9 L201.5 337.9 L204.5 337.9 L207.5 337.9 L210.6 337.9 L213.6 337.9 L216.6 337.9 L219.6 337.9 L222.6 337.9 L225.6 337.9 L228.6 338.0 L231.6 338.0 L234.6 338.0 L237.6 338.0 L240.6 338.1 L243.6 338.1 L246.6 338.1 L249.6 338.2 L252.6 338.2 L255.6 338.2 L258.6 338.3 L261.6 338.3 L264.6 338.4 L267.6 338.4 L270.7 338.5 L273.7 338.5 L276.7 338.6 L279.7 338.6 L282.7 338.7 L285.7 338.7 L288.7 338.8 L291.7 338.9 L294.7 338.9 L297.7 339.0 L300.7 339.1 L303.7 339.2 L306.7 339.2 L309.7 339.3 L312.7 339.4 L315.7 339.5 L318.7 339.6 L321.7 339.6 L324.7 339.7 L327.7 339.8 L330.8 339.9 L333.8 340.0 L336.8 340.1 L339.8 340.2 L342.8 340.3 L345.8 340.4 L348.8 340.5 L351.8 340.6 L354.8 340.7 L357.8 340.8 L360.8 340.9 L363.8 341.1 L366.8 341.2 L369.8 341.3 L372.8 341.4 L375.8 341.5 L378.8 341.7 L381.8 341.8 L384.8 341.9 L387.8 342.1 L390.9 342.2 L393.9 342.3 L396.9 342.5 L399.9 342.6 L402.9 342.7 L405.9 342.9 L408.9 343.0 L411.9 343.2 L414.9 343.3 L417.9 343.5 L420.9 343.6 L423.9 343.8 L426.9 343.9 L429.9 344.1 L432.9 344.3 L435.9 344.4 L438.9 344.6 L441.9 344.8 L444.9 344.9 L447.9 345.1 L451.0 345.3 L454.0 345.4 L457.0 345.6 L460.0 345.8 L463.0 346.0 L466.0 346.2 L469.0 346.4 L472.0 346.5 L475.0 346.7 L478.0 346.9 L481.0 347.1 L484.0 347.3 L487.0 347.5 L490.0 347.7 L493.0 347.9 L496.0 348.1 L499.0 348.3 L502.0 348.5 L505.0 348.7 L508.1 348.9 L511.1 349.1 L514.1 349.4 L517.1 349.6 L520.1 349.8 L523.1 350.0 L526.1 350.2 L529.1 350.5 L532.1 350.7 L535.1 350.9 L538.1 351.1 L541.1 351.4 L544.1 351.6 L547.1 351.8 L550.1 352.1 L553.1 352.3 L556.1 352.6 L559.1 352.8 L562.1 353.0 L565.1 353.3 L568.2 353.5 L571.2 353.8 L574.2 354.0 L577.2 354.3 L580.2 354.5 L583.2 354.8 L586.2 355.1 L589.2 355.3 L592.2 355.6 L595.2 355.9 L598.2 356.1 L601.2 356.4 L604.2 356.7 L607.2 356.9 L610.2 357.2 L613.2 357.5 L616.2 357.8 L619.2 358.0 L622.2 358.3 L625.2 358.6 L628.3 358.9 L631.3 359.2 L634.3 359.5 L637.3 359.8 L640.3 360.0 L643.3 360.3 L646.3 360.6 L649.3 360.9 L652.3 361.2 L655.3 361.5 L658.3 361.8 L661.3 362.1 L664.3 362.4 L667.3 362.8 L670.3 363.1 L673.3 363.4 L676.3 363.7 L679.3 364.0 L682.3 364.3 L685.3 364.6 L688.4 365.0 L691.4 365.3 L694.4 365.6 L697.4 365.9 L700.4 366.3 L703.4 366.6 L706.4 366.9 L709.4 367.3 L712.4 367.6 L715.4 367.9 L718.4 368.3 L721.4 368.6 L724.4 368.9 L727.4 369.3 L730.4 369.6 L733.4 370.0 L736.4 370.3 L739.4 370.7 L742.4 371.0 L745.4 371.4 L748.5 371.7 L751.5 372.1 L754.5 372.5 L757.5 372.8 L760.5 373.2 L763.5 373.5 L766.5 373.9 L769.5 374.3 L772.5 374.6 L775.5 375.0 L778.5 375.4 L781.5 375.8 L784.5 376.1 L787.5 376.5 L790.5 376.9 L793.5 377.3 L796.5 377.7 L799.5 378.0 L802.5 378.4 L805.6 378.8 L808.6 379.2 L811.6 379.6 L814.6 380.0 L817.6 380.4 L820.6 380.8 L823.6 381.2 L826.6 381.6 L829.6 382.0 L832.6 382.4 L835.6 382.8 L838.6 383.2 L841.6 383.6 L844.6 384.0 L847.6 384.4 L850.6 384.8 L853.6 385.2 L856.6 385.6 L859.6 386.1 L862.6 386.5 L865.7 386.9 L868.7 387.3 L871.7 387.7 L874.7 388.2 L877.7 388.6 L880.7 389.0 L883.7 389.5 L886.7 389.9 L889.7 390.3 L892.7 390.8 L895.7 391.2 L898.7 391.6 L901.7 392.1 L904.7 392.5 L907.7 392.9 L910.7 393.4 L913.7 393.8 L916.7 394.3 L919.7 394.7 L922.7 395.2 L925.8 395.6 L928.8 396.1 L931.8 396.5 L934.8 397.0 L937.8 397.5 L940.8 397.9 L943.8 398.4 L946.8 398.8 L949.8 399.3 L952.8 399.8 L955.8 400.2 L958.8 400.7 L961.8 401.2 L964.8 401.6 L967.8 402.1 L970.8 402.6 L973.8 403.1 L976.8 403.5 L979.8 404.0 L982.8 404.5 L985.9 405.0 L988.9 405.5 L991.9 406.0 L994.9 406.4 L997.9 406.9 L1000.9 407.4 L1003.9 407.9 L1006.9 408.4 L1009.9 408.9 L1012.9 409.4 L1015.9 409.9 L1018.9 410.4 L1021.9 410.9 L1024.9 411.4 L1027.9 411.9 L1030.9 412.4 L1033.9 412.9 L1036.9 413.4 L1039.9 413.9 L1042.9 414.4 L1046.0 414.9 L1049.0 415.4 L1052.0 416.0 L1055.0 416.5 L1058.0 417.0 L1061.0 417.5 L1064.0 418.0 L1067.0 418.6 L1070.0 419.1 L1073.0 419.6 L1073.0 722.6 L1077.0 722.9 L1081.0 723.2 L1085.0 723.5 L1089.0 723.8 L1093.1 724.1 L1097.1 724.4 L1101.1 724.8 L1105.1 725.1 L1109.1 725.4 L1113.1 725.7 L1117.1 726.0 L1121.1 726.4 L1125.2 726.7 L1129.2 727.0 L1133.2 727.4 L1137.2 727.7 L1141.2 728.0 L1145.2 728.4 L1149.2 728.7 L1153.2 729.0 L1157.3 729.4 L1161.3 729.7 L1165.3 730.1 L1169.3 730.4 L1173.3 730.8 L1177.3 731.1 L1181.3 731.5 L1185.3 731.9 L1189.4 732.2 L1193.4 732.6 L1197.4 732.9 L1201.4 733.3 L1205.4 733.7 L1209.4 734.1 L1213.4 734.4 L1217.4 734.8 L1221.5 735.2 L1225.5 735.6 L1229.5 735.9 L1233.5 736.3 L1237.5 736.7 L1241.5 737.1 L1245.5 737.5 L1249.5 737.9 L1253.6 738.3 L1257.6 738.7 L1261.6 739.1 L1265.6 739.5 L1269.6 739.9" stroke="#00ff00"/>
<path d="M180.5 309.1 L183.5 309.1 L186.5 309.1 L189.5 309.1 L192.5 309.1 L195.5 309.1 L198.5 309.1 L201.6 309.1 L204.6 309.1 L207.6 309.1 L210.6 309.1 L213.6 309.2 L216.6 309.2 L219.6 309.2 L222.6 309.2 L225.6 309.3 L228.6 309.3 L231.6 309.3 L234.6 309.4 L237.6 309.4 L240.7 309.5 L243.7 309.5 L246.7 309.6 L249.7 309.6 L252.7 309.7 L255.7 309.7 L258.7 309.8 L261.7 309.9 L264.7 309.9 L267.7 310.0 L270.7 310.1 L273.7 310.1 L276.8 310.2 L279.8 310.3 L282.8 310.4 L285.8 310.5 L288.8 310.6 L291.8 310.7 L294.8 310.7 L297.8 310.8 L300.8 310.9 L303.8 311.0 L306.8 311.1 L309.8 311.3 L312.8 311.4 L315.9 311.5 L318.9 311.6 L321.9 311.7 L324.9 311.8 L327.9 311.9 L330.9 312.1 L333.9 312.2 L336.9 312.3 L339.9 312.5 L342.9 312.6 L345.9 312.7 L348.9 312.9 L351.9 313.0 L355.0 313.2 L358.0 313.3 L361.0 313.5 L364.0 313.6 L367.0 313.8 L370.0 313.9 L373.0 314.1 L376.0 314.2 L379.0 314.4 L382.0 314.6 L385.0 314.7 L388.0 314.9 L391.1 315.1 L394.1 315.3 L397.1 315.4 L400.1 315.6 L403.1 315.8 L406.1 316.0 L409.1 316.2 L412.1 316.4 L415.1 316.6 L418.1 316.8 L421.1 317.0 L424.1 317.2 L427.1 317.4 L430.2 317.6 L433.2 317.8 L436.2 318.0 L439.2 318.2 L442.2 318.4 L445.2 318.7 L448.2 318.9 L451.2 319.1 L454.2 319.3 L457.2 319.5 L460.2 319.8 L463.2 320.0 L466.2 320.2 L469.3 320.5 L472.3 320.7 L475.3 321.0 L478.3 321.2 L481.3 321.4 L484.3 321.7 L487.3 321.9 L490.3 322.2 L493.3 322.5 L496.3 322.7 L499.3 323.0 L502.3 323.2 L505.3 323.5 L508.4 323.8 L511.4 324.0 L514.4 324.3 L517.4 324.6 L520.4 324.8 L523.4 325.1 L526.4 325.4 L529.4 325.7 L532.4 326.0 L535.4 326.3 L538.4 326.5 L541.4 326.8 L544.5 327.1 L547.5 327.4 L550.5 327.7 L553.5 328.0 L556.5 328.3 L559.5 328.6 L562.5 328.9 L565.5 329.2 L568.5 329.5 L571.5 329.9 L574.5 330.2 L577.5 330.5 L580.5 330.8 L583.6 331.1 L586.6 331.4 L589.6 331.8 L592.6 332.1 L595.6 332.4 L598.6 332.8 L601.6 333.1 L604.6 333.4 L607.6 333.8 L610.6 334.1 L613.6 334.4 L616.6 334.8 L619.6 335.1 L622.7 335.5 L625.7 335.8 L628.7 336.2 L631.7 336.5 L634.7 336.9 L637.7 337.2 L640.7 337.6 L643.7 338.0 L646.7 338.3 L649.7 338.7 L652.7 339.0 L655.7 339.4 L658.8 339.8 L661.8 340.2 L664.8 340.5 L667.8 340.9 L670.8 341.3 L673.8 341.7 L676.8 342.1 L679.8 342.4 L682.8 342.8 L685.8 343.2 L688.8 343.6 L691.8 344.0 L694.8 344.4 L697.9 344.8 L700.9 345.2 L703.9 345.6 L706.9 346.0 L709.9 346.4 L712.9 346.8 L715.9 347.2 L718.9 347.6 L721.9 348.0 L724.9 348.4 L727.9 348.8 L730.9 349.2 L733.9 349.7 L737.0 350.1 L740.0 350.5 L743.0 350.9 L746.0 351.4 L749.0 351.8 L752.0 352.2 L755.0 352.6 L758.0 353.1 L761.0 353.5 L764.0 353.9 L767.0 354.4 L770.0 354.8 L773.0 355.3 L776.1 355.7 L779.1 356.1 L782.1 356.6 L785.1 357.0 L788.1 357.5 L791.1 357.9 L794.1 358.4 L797.1 358.8 L800.1 359.3 L803.1 359.8 L806.1 360.2 L809.1 360.7 L812.2 361.1 L815.2 361.6 L818.2 362.1 L821.2 362.5 L824.2 363.0 L827.2 363.5 L830.2 363.9 L833.2 364.4 L836.2 364.9 L839.2 365.4 L842.2 365.8 L845.2 366.3 L848.2 366.8 L851.3 367.3 L854.3 367.8 L857.3 368.3 L860.3 368.8 L863.3 369.2 L866.3 369.7 L869.3 370.2 L872.3 370.7 L875.3 371.2 L878.3 371.7 L881.3 372.2 L884.3 372.7 L887.3 373.2 L890.4 373.7 L893.4 374.2 L896.4 374.7 L899.4 375.2 L902.4 375.7 L905.4 376.3 L908.4 376.8 L911.4 377.3 L914.4 377.8 L917.4 378.3 L920.4 378.8 L923.4 379.4 L926.4 379.9 L929.5 380.4 L932.5 380.9 L935.5 381.4 L938.5 382.0 L941.5 382.5 L944.5 383.0 L947.5 383.6 L950.5 384.1 L953.5 384.6 L956.5 385.2 L959.5 385.7 L962.5 386.2 L965.6 386.8 L968.6 387.3 L971.6 387.9 L974.6 388.4 L977.6 388.9 L980.6 389.5 L983.6 390.0 L986.6 390.6 L989.6 391.1 L992.6 391.7 L995.6 392.2 L998.6 392.8 L1001.6 393.4 L1004.7 393.9 L1007.7 394.5 L1010.7 395.0 L1013.7 395.6 L1016.7 396.2 L1019.7 396.7 L1022.7 397.3 L1025.7 397.8 L1028.7 398.4 L1031.7 399.0 L1034.7 399.5 L1037.7 400.1 L1040.7 400.7 L1043.8 401.3 L1046.8 401.8 L1049.8 402.4 L1052.8 403.0 L1055.8 403.6 L1058.8 404.1 L1061.8 404.7 L1064.8 405.3 L1067.8 405.9 L1070.8 406.5 L1073.8 407.1 L1076.8 407.6 L1079.9 408.2 L1082.9 408.8 L1085.9 409.4 L1088.9 410.0 L1091.9 410.6 L1094.9 411.2 L1097.9 411.8 L1100.9 412.4 L1103.9 413.0 L1106.9 413.6 L1109.9 414.2 L1112.9 414.8 L1115.9 415.4 L1119.0 416.0 L1122.0 416.6 L1125.0 417.2 L1128.0 417.8 L1131.0 418.4 L1134.0 419.0 L1137.0 419.6 L1137.0 722.6 L1141.1 723.0 L1145.1 723.4 L1149.2 723.8 L1153.3 724.2 L1157.4 724.6 L1161.4 725.0 L1165.5 725.4 L1169.6 725.8 L1173.7 726.2 L1177.7 726.6 L1181.8 727.0 L1185.9 727.4 L1190.0 727.8 L1194.0 728.3 L1198.1 728.7 L1202.2 729.1 L1206.2 729.5 L1210.3 730.0 L1214.4 730.4 L1218.5 730.8 L1222.5 731.3 L1226.6 731.7 L1230.7 732.2 L1234.8 732.6 L1238.8 733.1 L1242.9 733.5 L1247.0 734.0 L1251.0 734.4 L1255.1 734.9 L1259.2 735.3 L1263.3 735.8 L1267.3 736.3 L1271.4 736.7 L1275.5 737.2 L1279.6 737.7 L1283.6 738.2 L1287.7 738.7 L1291.8 739.1 L1295.9 739.6 L1299.9 740.1 L1304.0 740.6" stroke="#808000"/>
<path d="M180.5 266.4 L183.5 266.4 L186.5 266.4 L189.5 266.5 L192.5 266.5 L195.5 266.5 L198.6 266.6 L201.6 266.6 L204.6 266.6 L207.6 266.7 L210.6 266.7 L213.6 266.8 L216.6 266.8 L219.6 266.9 L222.6 267.0 L225.6 267.0 L228.6 267.1 L231.6 267.2 L234.7 267.2 L237.7 267.3 L240.7 267.4 L243.7 267.5 L246.7 267.6 L249.7 267.7 L252.7 267.8 L255.7 267.9 L258.7 268.0 L261.7 268.1 L264.7 268.2 L267.7 268.3 L270.8 268.4 L273.8 268.6 L276.8 268.7 L279.8 268.8 L282.8 268.9 L285.8 269.1 L288.8 269.2 L291.8 269.4 L294.8 269.5 L297.8 269.6 L300.8 269.8 L303.8 269.9 L306.9 270.1 L309.9 270.3 L312.9 270.4 L315.9 270.6 L318.9 270.8 L321.9 270.9 L324.9 271.1 L327.9 271.3 L330.9 271.5 L333.9 271.7 L336.9 271.9 L339.9 272.0 L342.9 272.2 L346.0 272.4 L349.0 272.6 L352.0 272.8 L355.0 273.1 L358.0 273.3 L361.0 273.5 L364.0 273.7 L367.0 273.9 L370.0 274.1 L373.0 274.4 L376.0 274.6 L379.1 274.8 L382.1 275.1 L385.1 275.3 L388.1 275.5 L391.1 275.8 L394.1 276.0 L397.1 276.3 L400.1 276.5 L403.1 276.8 L406.1 277.1 L409.1 277.3 L412.1 277.6 L415.1 277.9 L418.2 278.1 L421.2 278.4 L424.2 278.7 L427.2 279.0 L430.2 279.2 L433.2 279.5 L436.2 279.8 L439.2 280.1 L442.2 280.4 L445.2 280.7 L448.2 281.0 L451.2 281.3 L454.3 281.6 L457.3 281.9 L460.3 282.2 L463.3 282.5 L466.3 282.9 L469.3 283.2 L472.3 283.5 L475.3 283.8 L478.3 284.1 L481.3 284.5 L484.3 284.8 L487.4 285.1 L490.4 285.5 L493.4 285.8 L496.4 286.2 L499.4 286.5 L502.4 286.9 L505.4 287.2 L508.4 287.6 L511.4 287.9 L514.4 288.3 L517.4 288.7 L520.4 289.0 L523.5 289.4 L526.5 289.8 L529.5 290.1 L532.5 290.5 L535.5 290.9 L538.5 291.3 L541.5 291.6 L544.5 292.0 L547.5 292.4 L550.5 292.8 L553.5 293.2 L556.5 293.6 L559.5 294.0 L562.6 294.4 L565.6 294.8 L568.6 295.2 L571.6 295.6 L574.6 296.0 L577.6 296.4 L580.6 296.9 L583.6 297.3 L586.6 297.7 L589.6 298.1 L592.6 298.5 L595.6 299.0 L598.7 299.4 L601.7 299.8 L604.7 300.3 L607.7 300.7 L610.7 301.2 L613.7 301.6 L616.7 302.0 L619.7 302.5 L622.7 302.9 L625.7 303.4 L628.7 303.8 L631.8 304.3 L634.8 304.8 L637.8 305.2 L640.8 305.7 L643.8 306.1 L646.8 306.6 L649.8 307.1 L652.8 307.6 L655.8 308.0 L658.8 308.5 L661.8 309.0 L664.8 309.5 L667.9 309.9 L670.9 310.4 L673.9 310.9 L676.9 311.4 L679.9 311.9 L682.9 312.4 L685.9 312.9 L688.9 313.4 L691.9 313.9 L694.9 314.4 L697.9 314.9 L700.9 315.4 L704.0 315.9 L707.0 316.4 L710.0 316.9 L713.0 317.4 L716.0 318.0 L719.0 318.5 L722.0 319.0 L725.0 319.5 L728.0 320.1 L731.0 320.6 L734.0 321.1 L737.0 321.6 L740.0 322.2 L743.1 322.7 L746.1 323.2 L749.1 323.8 L752.1 324.3 L755.1 324.9 L758.1 325.4 L761.1 326.0 L764.1 326.5 L767.1 327.1 L770.1 327.6 L773.1 328.2 L776.1 328.7 L779.2 329.3 L782.2 329.8 L785.2 330.4 L788.2 331.0 L791.2 331.5 L794.2 332.1 L797.2 332.7 L800.2 333.2 L803.2 333.8 L806.2 334.4 L809.2 335.0 L812.2 335.5 L815.3 336.1 L818.3 336.7 L821.3 337.3 L824.3 337.9 L827.3 338.5 L830.3 339.0 L833.3 339.6 L836.3 340.2 L839.3 340.8 L842.3 341.4 L845.3 342.0 L848.4 342.6 L851.4 343.2 L854.4 343.8 L857.4 344.4 L860.4 345.0 L863.4 345.6 L866.4 346.2 L869.4 346.9 L872.4 347.5 L875.4 348.1 L878.4 348.7 L881.4 349.3 L884.5 349.9 L887.5 350.5 L890.5 351.2 L893.5 351.8 L896.5 352.4 L899.5 353.0 L902.5 353.7 L905.5 354.3 L908.5 354.9 L911.5 355.6 L914.5 356.2 L917.5 356.8 L920.5 357.5 L923.6 358.1 L926.6 358.7 L929.6 359.4 L932.6 360.0 L935.6 360.7 L938.6 361.3 L941.6 362.0 L944.6 362.6 L947.6 363.3 L950.6 363.9 L953.6 364.6 L956.6 365.2 L959.7 365.9 L962.7 366.5 L965.7 367.2 L968.7 367.8 L971.7 368.5 L974.7 369.2 L977.7 369.8 L980.7 370.5 L983.7 371.1 L986.7 371.8 L989.7 372.5 L992.8 373.1 L995.8 373.8 L998.8 374.5 L1001.8 375.2 L1004.8 375.8 L1007.8 376.5 L1010.8 377.2 L1013.8 377.9 L1016.8 378.5 L1019.8 379.2 L1022.8 379.9 L1025.8 380.6 L1028.8 381.3 L1031.9 381.9 L1034.9 382.6 L1037.9 383.3 L1040.9 384.0 L1043.9 384.7 L1046.9 385.4 L1049.9 386.1 L1052.9 386.8 L1055.9 387.5 L1058.9 388.2 L1061.9 388.8 L1065.0 389.5 L1068.0 390.2 L1071.0 390.9 L1074.0 391.6 L1077.0 392.3 L1080.0 393.0 L1083.0 393.7 L1086.0 394.4 L1089.0 395.1 L1092.0 395.9 L1095.0 396.6 L1098.0 397.3 L1101.0 398.0 L1104.1 398.7 L1107.1 399.4 L1110.1 400.1 L1113.1 400.8 L1116.1 401.5 L1119.1 402.2 L1122.1 403.0 L1125.1 403.7 L1128.1 404.4 L1131.1 405.1 L1134.1 405.8 L1137.2 406.5 L1140.2 407.3 L1143.2 408.0 L1146.2 408.7 L1149.2 409.4 L1152.2 410.1 L1155.2 410.9 L1158.2 411.6 L1161.2 412.3 L1164.2 413.0 L1167.2 413.8 L1170.2 414.5 L1173.2 415.2 L1176.3 415.9 L1179.3 416.7 L1182.3 417.4 L1185.3 418.1 L1188.3 418.9 L1191.3 419.6 L1191.3 722.6 L1195.4 723.0 L1199.5 723.5 L1203.6 723.9 L1207.7 724.3 L1211.8 724.8 L1215.9 725.2 L1220.0 725.7 L1224.1 726.1 L1228.2 726.5 L1232.3 727.0 L1236.4 727.5 L1240.5 727.9 L1244.6 728.4 L1248.7 728.8 L1252.8 729.3 L1256.8 729.8 L1260.9 730.2 L1265.0 730.7 L1269.1 731.2 L1273.2 731.7 L1277.3 732.1 L1281.4 732.6 L1285.5 733.1 L1289.6 733.6 L1293.7 734.1 L1297.8 734.6 L1301.9 735.1 L1306.0 735.6 L1310.1 736.1 L1314.2 736.6" stroke="#2f67a8"/>
<path d="M180.5 188.6 L183.5 188.6 L186.5 188.6 L189.5 188.6 L192.5 188.6 L195.5 188.6 L198.5 188.6 L201.5 188.7 L204.5 188.7 L207.5 188.7 L210.5 188.8 L213.5 188.8 L216.5 188.9 L219.5 189.0 L222.5 189.1 L225.5 189.1 L228.5 189.2 L231.5 189.3 L234.5 189.4 L237.5 189.5 L240.5 189.6 L243.5 189.8 L246.5 189.9 L249.5 190.0 L252.5 190.2 L255.5 190.3 L258.6 190.5 L261.6 190.6 L264.6 190.8 L267.6 191.0 L270.6 191.2 L273.6 191.3 L276.6 191.5 L279.6 191.7 L282.6 191.9 L285.6 192.1 L288.6 192.4 L291.6 192.6 L294.6 192.8 L297.6 193.0 L300.6 193.3 L303.6 193.5 L306.6 193.8 L309.6 194.0 L312.6 194.3 L315.6 194.6 L318.6 194.8 L321.6 195.1 L324.6 195.4 L327.6 195.7 L330.6 196.0 L333.6 196.3 L336.6 196.6 L339.6 196.9 L342.6 197.2 L345.6 197.6 L348.6 197.9 L351.6 198.2 L354.6 198.6 L357.6 198.9 L360.6 199.3 L363.6 199.6 L366.6 200.0 L369.6 200.3 L372.6 200.7 L375.6 201.1 L378.6 201.5 L381.6 201.9 L384.6 202.3 L387.6 202.7 L390.6 203.1 L393.6 203.5 L396.6 203.9 L399.6 204.3 L402.6 204.7 L405.6 205.1 L408.7 205.6 L411.7 206.0 L414.7 206.5 L417.7 206.9 L420.7 207.4 L423.7 207.8 L426.7 208.3 L429.7 208.7 L432.7 209.2 L435.7 209.7 L438.7 210.2 L441.7 210.6 L444.7 211.1 L447.7 211.6 L450.7 212.1 L453.7 212.6 L456.7 213.1 L459.7 213.6 L462.7 214.2 L465.7 214.7 L468.7 215.2 L471.7 215.7 L474.7 216.3 L477.7 216.8 L480.7 217.3 L483.7 217.9 L486.7 218.4 L489.7 219.0 L492.7 219.5 L495.7 220.1 L498.7 220.7 L501.7 221.2 L504.7 221.8 L507.7 222.4 L510.7 223.0 L513.7 223.5 L516.7 224.1 L519.7 224.7 L522.7 225.3 L525.7 225.9 L528.7 226.5 L531.7 227.1 L534.7 227.7 L537.7 228.4 L540.7 229.0 L543.7 229.6 L546.7 230.2 L549.7 230.8 L552.7 231.5 L555.7 232.1 L558.8 232.7 L561.8 233.4 L564.8 234.0 L567.8 234.7 L570.8 235.3 L573.8 236.0 L576.8 236.6 L579.8 237.3 L582.8 238.0 L585.8 238.6 L588.8 239.3 L591.8 240.0 L594.8 240.7 L597.8 241.3 L600.8 242.0 L603.8 242.7 L606.8 243.4 L609.8 244.1 L612.8 244.8 L615.8 245.5 L618.8 246.2 L621.8 246.9 L624.8 247.6 L627.8 248.3 L630.8 249.0 L633.8 249.7 L636.8 250.4 L639.8 251.2 L642.8 251.9 L645.8 252.6 L648.8 253.3 L651.8 254.1 L654.8 254.8 L657.8 255.5 L660.8 256.3 L663.8 257.0 L666.8 257.8 L669.8 258.5 L672.8 259.2 L675.8 260.0 L678.8 260.7 L681.8 261.5 L684.8 262.3 L687.8 263.0 L690.8 263.8 L693.8 264.5 L696.8 265.3 L699.8 266.1 L702.8 266.8 L705.8 267.6 L708.9 268.4 L711.9 269.1 L714.9 269.9 L717.9 270.7 L720.9 271.5 L723.9 272.3 L726.9 273.0 L729.9 273.8 L732.9 274.6 L735.9 275.4 L738.9 276.2 L741.9 277.0 L744.9 277.8 L747.9 278.6 L750.9 279.4 L753.9 280.2 L756.9 281.0 L759.9 281.8 L762.9 282.6 L765.9 283.4 L768.9 284.2 L771.9 285.0 L774.9 285.8 L777.9 286.6 L780.9 287.4 L783.9 288.2 L786.9 289.0 L789.9 289.9 L792.9 290.7 L795.9 291.5 L798.9 292.3 L801.9 293.1 L804.9 294.0 L807.9 294.8 L810.9 295.6 L813.9 296.4 L816.9 297.3 L819.9 298.1 L822.9 298.9 L825.9 299.7 L828.9 300.6 L831.9 301.4 L834.9 302.2 L837.9 303.1 L840.9 303.9 L843.9 304.8 L846.9 305.6 L849.9 306.4 L852.9 307.3 L855.9 308.1 L859.0 309.0 L862.0 309.8 L865.0 310.7 L868.0 311.5 L871.0 312.3 L874.0 313.2 L877.0 314.0 L880.0 314.9 L883.0 315.8 L886.0 316.6 L889.0 317.5 L892.0 318.3 L895.0 319.2 L898.0 320.0 L901.0 320.9 L904.0 321.7 L907.0 322.6 L910.0 323.5 L913.0 324.3 L916.0 325.2 L919.0 326.1 L922.0 326.9 L925.0 327.8 L928.0 328.7 L931.0 329.5 L934.0 330.4 L937.0 331.3 L940.0 332.1 L943.0 333.0 L946.0 333.9 L949.0 334.7 L952.0 335.6 L955.0 336.5 L958.0 337.4 L961.0 338.2 L964.0 339.1 L967.0 340.0 L970.0 340.9 L973.0 341.7 L976.0 342.6 L979.0 343.5 L982.0 344.4 L985.0 345.3 L988.0 346.1 L991.0 347.0 L994.0 347.9 L997.0 348.8 L1000.0 349.7 L1003.0 350.6 L1006.0 351.5 L1009.1 352.3 L1012.1 353.2 L1015.1 354.1 L1018.1 355.0 L1021.1 355.9 L1024.1 356.8 L1027.1 357.7 L1030.1 358.6 L1033.1 359.4 L1036.1 360.3 L1039.1 361.2 L1042.1 362.1 L1045.1 363.0 L1048.1 363.9 L1051.1 364.8 L1054.1 365.7 L1057.1 366.6 L1060.1 367.5 L1063.1 368.4 L1066.1 369.3 L1069.1 370.2 L1072.1 371.1 L1075.1 371.9 L1078.1 372.8 L1081.1 373.7 L1084.1 374.6 L1087.1 375.5 L1090.1 376.4 L1093.1 377.3 L1096.1 378.2 L1099.1 379.1 L1102.1 380.0 L1105.1 380.9 L1108.1 381.8 L1111.1 382.7 L1114.1 383.6 L1117.1 384.5 L1120.1 385.4 L1123.1 386.3 L1126.1 387.2 L1129.1 388.1 L1132.1 389.0 L1135.1 389.9 L1138.1 390.8 L1141.1 391.7 L1144.1 392.6 L1147.1 393.5 L1150.1 394.4 L1153.1 395.3 L1156.1 396.2 L1159.2 397.1 L1162.2 398.0 L1165.2 398.9 L1168.2 399.8 L1171.2 400.7 L1174.2 401.6 L1177.2 402.5 L1180.2 403.4 L1183.2 404.3 L1186.2 405.2 L1189.2 406.1 L1192.2 407.0 L1195.2 407.9 L1198.2 408.8 L1201.2 409.7 L1204.2 410.6 L1207.2 411.5 L1210.2 412.4 L1213.2 413.3 L1216.2 414.2 L1219.2 415.1 L1222.2 416.0 L1225.2 416.9 L1228.2 417.8 L1231.2 418.7 L1234.2 419.6 L1234.2 722.6 L1238.3 723.1 L1242.4 723.6 L1246.5 724.2 L1250.6 724.7 L1254.7 725.2 L1258.8 725.8 L1262.9 726.3 L1267.0 726.9 L1271.1 727.4 L1275.2 727.9 L1279.3 728.5" stroke="#229a99"/>
</g>
<path d="M557.0 871.7 V746.1" stroke="#808080" stroke-width="6.8" stroke-linecap="round" stroke-dasharray="0 11.37" fill="none"/>
<path d="M748.1 871.7 V746.1" stroke="#808080" stroke-width="6.8" stroke-linecap="round" stroke-dasharray="0 11.37" fill="none"/>
<path d="M873.4 871.7 V746.1" stroke="#808080" stroke-width="6.8" stroke-linecap="round" stroke-dasharray="0 11.37" fill="none"/>
<path d="M974.4 871.7 V746.1" stroke="#808080" stroke-width="6.8" stroke-linecap="round" stroke-dasharray="0 11.37" fill="none"/>
<path d="M1051.1 871.7 V746.1" stroke="#808080" stroke-width="6.8" stroke-linecap="round" stroke-dasharray="0 11.37" fill="none"/>
<path d="M1120.2 871.7 V746.1" stroke="#808080" stroke-width="6.8" stroke-linecap="round" stroke-dasharray="0 11.37" fill="none"/>
<path d="M1177.7 871.7 V746.1" stroke="#808080" stroke-width="6.8" stroke-linecap="round" stroke-dasharray="0 11.37" fill="none"/>
<path d="M1228.4 871.7 V746.1" stroke="#808080" stroke-width="6.8" stroke-linecap="round" stroke-dasharray="0 11.37" fill="none"/>
<path d="M1269.6 871.7 V746.1" stroke="#808080" stroke-width="6.8" stroke-linecap="round" stroke-dasharray="0 11.37" fill="none"/>
<path d="M1304.0 871.7 V746.1" stroke="#808080" stroke-width="6.8" stroke-linecap="round" stroke-dasharray="0 11.37" fill="none"/>
<path d="M1314.6 871.7 V746.1" stroke="#808080" stroke-width="6.8" stroke-linecap="round" stroke-dasharray="0 11.37" fill="none"/>
<path d="M1280.3 871.7 V734.8" stroke="#808080" stroke-width="6.8" stroke-linecap="round" stroke-dasharray="0 11.37" fill="none"/>
<text x="1064.0" y="98.6" font-family='"Liberation Serif", "DejaVu Serif", serif' font-weight="bold" font-size="41" fill="#000" xml:space="preserve">GM1:   npe<tspan font-weight="normal">μ</tspan></text>
<text x="248.0" y="455.7" text-anchor="start" font-family='"Liberation Serif", "DejaVu Serif", serif' font-weight="bold" font-size="40" fill="#000" >B</text>
<text x="523.5" y="718.9" text-anchor="start" font-family='"Liberation Serif", "DejaVu Serif", serif' font-weight="bold" font-size="40" fill="#000" >A</text>
<text x="457.2" y="810.7" font-family='"Liberation Serif", "DejaVu Serif", serif' font-weight="bold" font-style="italic" font-size="40" fill="#000">R<tspan font-size="26" dy="16.2">crit</tspan></text>
<rect x="1336.6" y="28.9" width="123.3" height="395.8" fill="#fff" stroke="#000" stroke-width="1.9"/>
<g font-family='"Liberation Serif", "DejaVu Serif", serif' font-size="20.2" fill="#000">
<path d="M1346.5 47.7 H1392.9" stroke="#000000" stroke-width="6.9" stroke-linecap="round"/>
<text x="1398.6" y="54.5">1.2<tspan font-weight="bold">M</tspan><tspan font-family="DejaVu Sans, sans-serif" font-size="15.8" dx="0.6" dy="7.7">⊙</tspan></text>
<path d="M1346.5 80.3 H1392.9" stroke="#ff0000" stroke-width="6.9" stroke-linecap="round"/>
<text x="1398.6" y="87.1">1.3<tspan font-weight="bold">M</tspan><tspan font-family="DejaVu Sans, sans-serif" font-size="15.8" dx="0.6" dy="7.7">⊙</tspan></text>
<path d="M1346.5 112.9 H1392.9" stroke="#0000ff" stroke-width="6.9" stroke-linecap="round"/>
<text x="1398.6" y="119.7">1.4<tspan font-weight="bold">M</tspan><tspan font-family="DejaVu Sans, sans-serif" font-size="15.8" dx="0.6" dy="7.7">⊙</tspan></text>
<path d="M1346.5 145.5 H1392.9" stroke="#ff00ff" stroke-width="6.9" stroke-linecap="round"/>
<text x="1398.6" y="152.3">1.5<tspan font-weight="bold">M</tspan><tspan font-family="DejaVu Sans, sans-serif" font-size="15.8" dx="0.6" dy="7.7">⊙</tspan></text>
<path d="M1346.5 178.1 H1392.9" stroke="#008000" stroke-width="6.9" stroke-linecap="round"/>
<text x="1398.6" y="184.9">1.6<tspan font-weight="bold">M</tspan><tspan font-family="DejaVu Sans, sans-serif" font-size="15.8" dx="0.6" dy="7.7">⊙</tspan></text>
<path d="M1346.5 210.7 H1392.9" stroke="#000080" stroke-width="6.9" stroke-linecap="round"/>
<text x="1398.6" y="217.5">1.7<tspan font-weight="bold">M</tspan><tspan font-family="DejaVu Sans, sans-serif" font-size="15.8" dx="0.6" dy="7.7">⊙</tspan></text>
<path d="M1346.5 243.3 H1392.9" stroke="#8000ff" stroke-width="6.9" stroke-linecap="round"/>
<text x="1398.6" y="250.1">1.8<tspan font-weight="bold">M</tspan><tspan font-family="DejaVu Sans, sans-serif" font-size="15.8" dx="0.6" dy="7.7">⊙</tspan></text>
<path d="M1346.5 275.9 H1392.9" stroke="#800080" stroke-width="6.9" stroke-linecap="round"/>
<text x="1398.6" y="282.7">1.9<tspan font-weight="bold">M</tspan><tspan font-family="DejaVu Sans, sans-serif" font-size="15.8" dx="0.6" dy="7.7">⊙</tspan></text>
<path d="M1346.5 308.5 H1392.9" stroke="#00ff00" stroke-width="6.9" stroke-linecap="round"/>
<text x="1398.6" y="315.3">2.0<tspan font-weight="bold">M</tspan><tspan font-family="DejaVu Sans, sans-serif" font-size="15.8" dx="0.6" dy="7.7">⊙</tspan></text>
<path d="M1346.5 341.1 H1392.9" stroke="#808000" stroke-width="6.9" stroke-linecap="round"/>
<text x="1398.6" y="347.9">2.1<tspan font-weight="bold">M</tspan><tspan font-family="DejaVu Sans, sans-serif" font-size="15.8" dx="0.6" dy="7.7">⊙</tspan></text>
<path d="M1346.5 373.7 H1392.9" stroke="#2f67a8" stroke-width="6.9" stroke-linecap="round"/>
<text x="1398.6" y="380.5">2.2<tspan font-weight="bold">M</tspan><tspan font-family="DejaVu Sans, sans-serif" font-size="15.8" dx="0.6" dy="7.7">⊙</tspan></text>
<path d="M1346.5 406.3 H1392.9" stroke="#229a99" stroke-width="6.9" stroke-linecap="round"/>
<text x="1398.6" y="413.1">2.3<tspan font-weight="bold">M</tspan><tspan font-family="DejaVu Sans, sans-serif" font-size="15.8" dx="0.6" dy="7.7">⊙</tspan></text>
</g>
<text x="721.1" y="1110.4" text-anchor="middle" font-family='"Liberation Serif", "DejaVu Serif", serif' font-size="67" fill="#000"><tspan font-size="74.2">(</tspan>a<tspan font-size="74.2">)</tspan></text>
<rect x="1951.2" y="27.8" width="1147.50" height="843.80" fill="none" stroke="#000" stroke-width="6.6" stroke-linejoin="round"/>
<path d="M2008.58 869.6 v-6.199999999999999 M2008.58 29.8 v6.199999999999999 M2065.95 869.6 v-14.600000000000001 M2065.95 29.8 v14.600000000000001 M2123.32 869.6 v-6.199999999999999 M2123.32 29.8 v6.199999999999999 M2180.70 869.6 v-14.600000000000001 M2180.70 29.8 v14.600000000000001 M2238.07 869.6 v-6.199999999999999 M2238.07 29.8 v6.199999999999999 M2295.45 869.6 v-14.600000000000001 M2295.45 29.8 v14.600000000000001 M2352.82 869.6 v-6.199999999999999 M2352.82 29.8 v6.199999999999999 M2410.20 869.6 v-14.600000000000001 M2410.20 29.8 v14.600000000000001 M2467.57 869.6 v-6.199999999999999 M2467.57 29.8 v6.199999999999999 M2524.95 869.6 v-14.600000000000001 M2524.95 29.8 v14.600000000000001 M2582.32 869.6 v-6.199999999999999 M2582.32 29.8 v6.199999999999999 M2639.70 869.6 v-14.600000000000001 M2639.70 29.8 v14.600000000000001 M2697.07 869.6 v-6.199999999999999 M2697.07 29.8 v6.199999999999999 M2754.45 869.6 v-14.600000000000001 M2754.45 29.8 v14.600000000000001 M2811.82 869.6 v-6.199999999999999 M2811.82 29.8 v6.199999999999999 M2869.20 869.6 v-14.600000000000001 M2869.20 29.8 v14.600000000000001 M2926.57 869.6 v-6.199999999999999 M2926.57 29.8 v6.199999999999999 M2983.95 869.6 v-14.600000000000001 M2983.95 29.8 v14.600000000000001 M3041.32 869.6 v-6.199999999999999 M3041.32 29.8 v6.199999999999999 M1953.2 666.11 h14.600000000000001 M3096.7 666.11 h-14.600000000000001 M1953.2 498.21 h14.600000000000001 M3096.7 498.21 h-14.600000000000001 M1953.2 356.26 h14.600000000000001 M3096.7 356.26 h-14.600000000000001 M1953.2 233.29 h14.600000000000001 M3096.7 233.29 h-14.600000000000001 M1953.2 124.83 h14.600000000000001 M3096.7 124.83 h-14.600000000000001 M1953.2 826.67 h6.199999999999999 M3096.7 826.67 h-6.199999999999999 M1953.2 783.83 h6.199999999999999 M3096.7 783.83 h-6.199999999999999 M1953.2 742.90 h6.199999999999999 M3096.7 742.90 h-6.199999999999999 M1953.2 703.70 h6.199999999999999 M3096.7 703.70 h-6.199999999999999 M1953.2 629.99 h6.199999999999999 M3096.7 629.99 h-6.199999999999999 M1953.2 595.24 h6.199999999999999 M3096.7 595.24 h-6.199999999999999 M1953.2 561.75 h6.199999999999999 M3096.7 561.75 h-6.199999999999999 M1953.2 529.43 h6.199999999999999 M3096.7 529.43 h-6.199999999999999 M1953.2 468.02 h6.199999999999999 M3096.7 468.02 h-6.199999999999999 M1953.2 438.78 h6.199999999999999 M3096.7 438.78 h-6.199999999999999 M1953.2 410.44 h6.199999999999999 M3096.7 410.44 h-6.199999999999999 M1953.2 382.95 h6.199999999999999 M3096.7 382.95 h-6.199999999999999 M1953.2 330.32 h6.199999999999999 M3096.7 330.32 h-6.199999999999999 M1953.2 305.08 h6.199999999999999 M3096.7 305.08 h-6.199999999999999 M1953.2 280.53 h6.199999999999999 M3096.7 280.53 h-6.199999999999999 M1953.2 256.60 h6.199999999999999 M3096.7 256.60 h-6.199999999999999 M1953.2 210.55 h6.199999999999999 M3096.7 210.55 h-6.199999999999999 M1953.2 188.36 h6.199999999999999 M3096.7 188.36 h-6.199999999999999 M1953.2 166.69 h6.199999999999999 M3096.7 166.69 h-6.199999999999999 M1953.2 145.52 h6.199999999999999 M3096.7 145.52 h-6.199999999999999 M1953.2 104.59 h6.199999999999999 M3096.7 104.59 h-6.199999999999999 M1953.2 84.78 h6.199999999999999 M3096.7 84.78 h-6.199999999999999 M1953.2 65.39 h6.199999999999999 M3096.7 65.39 h-6.199999999999999 M1953.2 46.40 h6.199999999999999 M3096.7 46.40 h-6.199999999999999" fill="none" stroke="#000" stroke-width="6.8" stroke-linecap="round"/>
<g font-family='"Liberation Serif", "DejaVu Serif", serif' font-weight="bold" font-size="42.3" fill="#000">
<g text-anchor="middle">
<text x="1951.2" y="922.8">0</text>
<text x="2065.9" y="922.8">1</text>
<text x="2180.7" y="922.8">2</text>
<text x="2295.4" y="922.8">3</text>
<text x="2410.2" y="922.8">4</text>
<text x="2524.9" y="922.8">5</text>
<text x="2639.7" y="922.8">6</text>
<text x="2754.4" y="922.8">7</text>
<text x="2869.2" y="922.8">8</text>
<text x="2983.9" y="922.8">9</text>
<text x="3098.7" y="922.8">10</text>
</g><g text-anchor="end">
<text x="1932.4" y="883.2">8</text>
<text x="1932.4" y="677.7">10</text>
<text x="1932.4" y="509.8">12</text>
<text x="1932.4" y="367.9">14</text>
<text x="1932.4" y="244.9">16</text>
<text x="1932.4" y="136.4">18</text>
<text x="1932.4" y="39.4">20</text>
</g></g>
<text transform="translate(1840.2,717.3) rotate(-90)" font-family='"Liberation Serif", "DejaVu Serif", serif' font-weight="bold" font-size="44" fill="#000" xml:space="preserve"><tspan font-style="italic">Q</tspan> (10<tspan dx="3" dy="-23.1">26</tspan><tspan dy="23.1"> T</tspan><tspan dx="1" dy="-23.1">6</tspan><tspan dx="-22" dy="39.2">9</tspan><tspan dx="2" dy="-16.1" font-size="45.6"> erg cm</tspan><tspan dx="0.5" dy="-23.1">-3</tspan><tspan dy="23.1" font-size="45.6">s</tspan><tspan dy="-23.1">-1</tspan><tspan dx="1.5" dy="23.1" font-size="45.6">)</tspan></text>
<text x="2523.8" y="992.7" text-anchor="middle" font-family='"Liberation Serif", "DejaVu Serif", serif' font-weight="bold" font-size="41.5" fill="#000"><tspan font-style="italic">R</tspan>(km)</text>
<g clip-path="url(#cb)" fill="none" stroke-width="6.8" stroke-linecap="round" stroke-linejoin="miter">
<path d="M1951.2 737.2 L1955.2 737.2 L1959.2 737.2 L1963.2 737.2 L1967.2 737.3 L1971.2 737.3 L1975.2 737.3 L1979.2 737.4 L1983.2 737.4 L1987.3 737.4 L1991.3 737.5 L1995.3 737.5 L1999.3 737.6 L2003.3 737.6 L2007.3 737.7 L2011.3 737.8 L2015.3 737.8 L2019.3 737.9 L2023.3 737.9 L2027.3 738.0 L2031.3 738.1 L2035.3 738.2 L2039.3 738.2 L2043.3 738.3 L2047.3 738.4 L2051.4 738.5 L2055.4 738.5 L2059.4 738.6 L2063.4 738.7 L2067.4 738.8 L2071.4 738.9 L2075.4 739.0 L2079.4 739.1 L2083.4 739.2 L2087.4 739.3 L2091.4 739.4 L2095.4 739.5 L2099.4 739.6 L2103.4 739.7 L2107.4 739.8 L2111.4 739.9 L2115.4 740.0 L2119.5 740.1 L2123.5 740.2 L2127.5 740.3 L2131.5 740.4 L2135.5 740.5 L2139.5 740.7 L2143.5 740.8 L2147.5 740.9 L2151.5 741.0 L2155.5 741.1 L2159.5 741.3 L2163.5 741.4 L2167.5 741.5 L2171.5 741.7 L2175.5 741.8 L2179.5 741.9 L2183.6 742.0 L2187.6 742.2 L2191.6 742.3 L2195.6 742.5 L2199.6 742.6 L2203.6 742.7 L2207.6 742.9 L2211.6 743.0 L2215.6 743.2 L2219.6 743.3 L2223.6 743.5 L2227.6 743.6 L2231.6 743.7 L2235.6 743.9 L2239.6 744.0 L2243.6 744.2 L2247.6 744.4 L2251.7 744.5 L2255.7 744.7 L2259.7 744.8 L2263.7 745.0 L2267.7 745.1 L2271.7 745.3 L2275.7 745.5 L2279.7 745.6 L2283.7 745.8 L2287.7 746.0 L2291.7 746.1 L2295.7 746.3 L2299.7 746.5 L2303.7 746.6 L2307.7 746.8 L2311.7 747.0 L2315.8 747.2 L2319.8 747.3 L2323.8 747.5 L2327.8 747.7 L2331.8 747.9 L2335.8 748.1 L2339.8 748.2 L2343.8 748.4 L2347.8 748.6" stroke="#000000"/>
<path d="M1951.2 727.8 L1955.2 727.8 L1959.2 727.8 L1963.3 727.8 L1967.3 727.8 L1971.3 727.9 L1975.3 727.9 L1979.3 727.9 L1983.4 727.9 L1987.4 727.9 L1991.4 728.0 L1995.4 728.0 L1999.4 728.0 L2003.5 728.1 L2007.5 728.1 L2011.5 728.2 L2015.5 728.2 L2019.5 728.3 L2023.6 728.3 L2027.6 728.4 L2031.6 728.4 L2035.6 728.5 L2039.7 728.5 L2043.7 728.6 L2047.7 728.7 L2051.7 728.7 L2055.7 728.8 L2059.8 728.9 L2063.8 728.9 L2067.8 729.0 L2071.8 729.1 L2075.8 729.2 L2079.9 729.2 L2083.9 729.3 L2087.9 729.4 L2091.9 729.5 L2095.9 729.6 L2100.0 729.7 L2104.0 729.8 L2108.0 729.9 L2112.0 730.0 L2116.0 730.1 L2120.1 730.2 L2124.1 730.3 L2128.1 730.4 L2132.1 730.5 L2136.1 730.6 L2140.2 730.7 L2144.2 730.8 L2148.2 730.9 L2152.2 731.0 L2156.2 731.1 L2160.3 731.3 L2164.3 731.4 L2168.3 731.5 L2172.3 731.6 L2176.4 731.7 L2180.4 731.9 L2184.4 732.0 L2188.4 732.1 L2192.4 732.3 L2196.5 732.4 L2200.5 732.5 L2204.5 732.7 L2208.5 732.8 L2212.5 733.0 L2216.6 733.1 L2220.6 733.3 L2224.6 733.4 L2228.6 733.5 L2232.6 733.7 L2236.7 733.8 L2240.7 734.0 L2244.7 734.2 L2248.7 734.3 L2252.7 734.5 L2256.8 734.6 L2260.8 734.8 L2264.8 735.0 L2268.8 735.1 L2272.8 735.3 L2276.9 735.5 L2280.9 735.6 L2284.9 735.8 L2288.9 736.0 L2292.9 736.2 L2297.0 736.3 L2301.0 736.5 L2305.0 736.7 L2309.0 736.9 L2313.1 737.1 L2317.1 737.3 L2321.1 737.4 L2325.1 737.6 L2329.1 737.8 L2333.2 738.0 L2337.2 738.2 L2341.2 738.4 L2345.2 738.6 L2349.2 738.8 L2353.3 739.0 L2357.3 739.2 L2361.3 739.4 L2365.3 739.6 L2369.3 739.8 L2373.4 740.0 L2377.4 740.2 L2381.4 740.5 L2385.4 740.7 L2389.4 740.9 L2393.5 741.1 L2397.5 741.3 L2401.5 741.5 L2405.5 741.8 L2409.5 742.0 L2413.6 742.2 L2417.6 742.4 L2421.6 742.7 L2425.6 742.9 L2429.6 743.1 L2433.7 743.4 L2437.7 743.6 L2441.7 743.8 L2445.7 744.1 L2449.8 744.3 L2453.8 744.5 L2457.8 744.8 L2461.8 745.0 L2465.8 745.3 L2469.9 745.5 L2473.9 745.8 L2477.9 746.0 L2481.9 746.3 L2485.9 746.5 L2490.0 746.8 L2494.0 747.0 L2498.0 747.3 L2502.0 747.5 L2506.0 747.8 L2510.1 748.1 L2514.1 748.3 L2518.1 748.6" stroke="#ff0000"/>
<path d="M1951.2 718.3 L1955.2 718.3 L1959.2 718.3 L1963.2 718.3 L1967.2 718.3 L1971.2 718.3 L1975.2 718.3 L1979.2 718.3 L1983.2 718.3 L1987.2 718.3 L1991.2 718.4 L1995.2 718.4 L1999.2 718.4 L2003.3 718.4 L2007.3 718.4 L2011.3 718.4 L2015.3 718.5 L2019.3 718.5 L2023.3 718.5 L2027.3 718.5 L2031.3 718.6 L2035.3 718.6 L2039.3 718.6 L2043.3 718.7 L2047.3 718.7 L2051.3 718.7 L2055.3 718.8 L2059.3 718.8 L2063.3 718.9 L2067.3 718.9 L2071.3 718.9 L2075.3 719.0 L2079.3 719.0 L2083.3 719.1 L2087.3 719.1 L2091.3 719.2 L2095.3 719.3 L2099.3 719.3 L2103.4 719.4 L2107.4 719.4 L2111.4 719.5 L2115.4 719.6 L2119.4 719.6 L2123.4 719.7 L2127.4 719.8 L2131.4 719.9 L2135.4 719.9 L2139.4 720.0 L2143.4 720.1 L2147.4 720.2 L2151.4 720.3 L2155.4 720.4 L2159.4 720.5 L2163.4 720.5 L2167.4 720.6 L2171.4 720.7 L2175.4 720.8 L2179.4 720.9 L2183.4 721.0 L2187.4 721.1 L2191.4 721.2 L2195.4 721.4 L2199.5 721.5 L2203.5 721.6 L2207.5 721.7 L2211.5 721.8 L2215.5 721.9 L2219.5 722.1 L2223.5 722.2 L2227.5 722.3 L2231.5 722.4 L2235.5 722.6 L2239.5 722.7 L2243.5 722.8 L2247.5 723.0 L2251.5 723.1 L2255.5 723.3 L2259.5 723.4 L2263.5 723.6 L2267.5 723.7 L2271.5 723.9 L2275.5 724.0 L2279.5 724.2 L2283.5 724.3 L2287.5 724.5 L2291.5 724.6 L2295.5 724.8 L2299.6 725.0 L2303.6 725.1 L2307.6 725.3 L2311.6 725.5 L2315.6 725.7 L2319.6 725.9 L2323.6 726.0 L2327.6 726.2 L2331.6 726.4 L2335.6 726.6 L2339.6 726.8 L2343.6 727.0 L2347.6 727.2 L2351.6 727.4 L2355.6 727.6 L2359.6 727.8 L2363.6 728.0 L2367.6 728.2 L2371.6 728.4 L2375.6 728.6 L2379.6 728.8 L2383.6 729.0 L2387.6 729.3 L2391.6 729.5 L2395.6 729.7 L2399.7 729.9 L2403.7 730.2 L2407.7 730.4 L2411.7 730.6 L2415.7 730.9 L2419.7 731.1 L2423.7 731.4 L2427.7 731.6 L2431.7 731.9 L2435.7 732.1 L2439.7 732.4 L2443.7 732.6 L2447.7 732.9 L2451.7 733.1 L2455.7 733.4 L2459.7 733.7 L2463.7 733.9 L2467.7 734.2 L2471.7 734.5 L2475.7 734.7 L2479.7 735.0 L2483.7 735.3 L2487.7 735.6 L2491.7 735.9 L2495.8 736.1 L2499.8 736.4 L2503.8 736.7 L2507.8 737.0 L2511.8 737.3 L2515.8 737.6 L2519.8 737.9 L2523.8 738.2 L2527.8 738.5 L2531.8 738.8 L2535.8 739.2 L2539.8 739.5 L2543.8 739.8 L2547.8 740.1 L2551.8 740.4 L2555.8 740.8 L2559.8 741.1 L2563.8 741.4 L2567.8 741.8 L2571.8 742.1 L2575.8 742.4 L2579.8 742.8 L2583.8 743.1 L2587.8 743.5 L2591.8 743.8 L2595.9 744.2 L2599.9 744.5 L2603.9 744.9 L2607.9 745.2 L2611.9 745.6 L2615.9 746.0 L2619.9 746.3 L2623.9 746.7 L2627.9 747.1 L2631.9 747.5 L2635.9 747.8 L2639.9 748.2 L2643.9 748.6" stroke="#0000ff"/>
<path d="M1951.1 189.9 L1954.1 190.0 L1957.1 190.1 L1960.1 190.1 L1963.2 190.2 L1966.2 190.3 L1969.2 190.4 L1972.2 190.4 L1975.3 190.5 L1978.3 190.6 L1981.3 190.6 L1984.3 190.7 L1987.3 190.8 L1990.4 190.8 L1993.4 190.9 L1996.4 191.0 L1999.4 191.0 L2002.5 191.1 L2005.5 191.2 L2008.5 191.2 L2011.5 191.3 L2014.6 191.4 L2017.6 191.4 L2020.6 191.5 L2023.6 191.6 L2026.6 191.6 L2029.7 191.7 L2032.7 191.8 L2035.7 191.8 L2038.7 191.9 L2041.8 192.0 L2044.8 192.0 L2047.8 192.1 L2050.8 192.2 L2053.8 192.2 L2056.9 192.3 L2059.9 192.4 L2062.9 192.4 L2065.9 192.5 L2069.0 192.6 L2072.0 192.6 L2075.0 192.7 L2078.0 192.7 L2081.1 192.8 L2084.1 192.9 L2087.1 192.9 L2090.1 193.0 L2093.1 193.1 L2096.2 193.1 L2099.2 193.2 L2102.2 193.2 L2105.2 193.3 L2108.3 193.4 L2111.3 193.4 L2114.3 193.5 L2117.3 193.6 L2120.4 193.6 L2123.4 193.7 L2126.4 193.7 L2129.4 193.8 L2132.4 193.9 L2135.5 193.9 L2138.5 194.0 L2138.5 709.7 L2142.5 709.8 L2146.5 709.8 L2150.5 709.9 L2154.6 709.9 L2158.6 710.0 L2162.6 710.1 L2166.6 710.2 L2170.6 710.2 L2174.6 710.3 L2178.6 710.4 L2182.6 710.5 L2186.7 710.5 L2190.7 710.6 L2194.7 710.7 L2198.7 710.8 L2202.7 710.9 L2206.7 711.0 L2210.7 711.1 L2214.7 711.2 L2218.8 711.3 L2222.8 711.4 L2226.8 711.5 L2230.8 711.6 L2234.8 711.7 L2238.8 711.8 L2242.8 711.9 L2246.8 712.0 L2250.9 712.1 L2254.9 712.2 L2258.9 712.4 L2262.9 712.5 L2266.9 712.6 L2270.9 712.7 L2274.9 712.9 L2278.9 713.0 L2283.0 713.1 L2287.0 713.3 L2291.0 713.4 L2295.0 713.6 L2299.0 713.7 L2303.0 713.9 L2307.0 714.0 L2311.0 714.2 L2315.1 714.3 L2319.1 714.5 L2323.1 714.6 L2327.1 714.8 L2331.1 715.0 L2335.1 715.1 L2339.1 715.3 L2343.1 715.5 L2347.2 715.7 L2351.2 715.8 L2355.2 716.0 L2359.2 716.2 L2363.2 716.4 L2367.2 716.6 L2371.2 716.8 L2375.2 717.0 L2379.3 717.2 L2383.3 717.4 L2387.3 717.6 L2391.3 717.8 L2395.3 718.0 L2399.3 718.2 L2403.3 718.4 L2407.3 718.6 L2411.4 718.9 L2415.4 719.1 L2419.4 719.3 L2423.4 719.5 L2427.4 719.8 L2431.4 720.0 L2435.4 720.3 L2439.4 720.5 L2443.5 720.7 L2447.5 721.0 L2451.5 721.2 L2455.5 721.5 L2459.5 721.8 L2463.5 722.0 L2467.5 722.3 L2471.5 722.6 L2475.6 722.8 L2479.6 723.1 L2483.6 723.4 L2487.6 723.7 L2491.6 723.9 L2495.6 724.2 L2499.6 724.5 L2503.6 724.8 L2507.7 725.1 L2511.7 725.4 L2515.7 725.7 L2519.7 726.0 L2523.7 726.3 L2527.7 726.6 L2531.7 726.9 L2535.7 727.3 L2539.8 727.6 L2543.8 727.9 L2547.8 728.2 L2551.8 728.6 L2555.8 728.9 L2559.8 729.2 L2563.8 729.6 L2567.8 729.9 L2571.9 730.3 L2575.9 730.6 L2579.9 731.0 L2583.9 731.3 L2587.9 731.7 L2591.9 732.1 L2595.9 732.4 L2599.9 732.8 L2604.0 733.2 L2608.0 733.6 L2612.0 733.9 L2616.0 734.3 L2620.0 734.7 L2624.0 735.1 L2628.0 735.5 L2632.0 735.9 L2636.1 736.3 L2640.1 736.7 L2644.1 737.1 L2648.1 737.5 L2652.1 738.0 L2656.1 738.4 L2660.1 738.8 L2664.1 739.2 L2668.2 739.7 L2672.2 740.1 L2676.2 740.6 L2680.2 741.0 L2684.2 741.4 L2688.2 741.9 L2692.2 742.3 L2696.2 742.8 L2700.3 743.3 L2704.3 743.7 L2708.3 744.2 L2712.3 744.7 L2716.3 745.2 L2720.3 745.6 L2724.3 746.1 L2728.3 746.6 L2732.4 747.1 L2736.4 747.6 L2740.4 748.1 L2744.4 748.6" stroke="#ff00ff"/>
<path d="M1951.1 173.5 L1954.1 173.5 L1957.1 173.5 L1960.1 173.5 L1963.1 173.5 L1966.1 173.5 L1969.1 173.5 L1972.1 173.5 L1975.1 173.5 L1978.1 173.6 L1981.1 173.6 L1984.1 173.6 L1987.1 173.6 L1990.1 173.7 L1993.1 173.7 L1996.1 173.7 L1999.1 173.7 L2002.1 173.8 L2005.1 173.8 L2008.1 173.8 L2011.1 173.9 L2014.1 173.9 L2017.2 173.9 L2020.2 174.0 L2023.2 174.0 L2026.2 174.1 L2029.2 174.1 L2032.2 174.2 L2035.2 174.3 L2038.2 174.3 L2041.2 174.4 L2044.2 174.5 L2047.2 174.6 L2050.2 174.7 L2053.2 174.8 L2056.2 174.9 L2059.2 175.0 L2062.2 175.1 L2065.2 175.2 L2068.2 175.3 L2071.2 175.5 L2074.2 175.6 L2077.2 175.7 L2080.2 175.8 L2083.2 175.9 L2086.2 176.0 L2089.2 176.1 L2092.2 176.2 L2095.2 176.3 L2098.3 176.4 L2101.3 176.5 L2104.3 176.6 L2107.3 176.7 L2110.3 176.8 L2113.3 176.8 L2116.3 176.9 L2119.3 177.0 L2122.3 177.1 L2125.3 177.2 L2128.3 177.3 L2131.3 177.4 L2134.3 177.5 L2137.3 177.6 L2140.3 177.7 L2143.3 177.8 L2146.3 177.9 L2149.3 178.0 L2152.3 178.1 L2155.3 178.2 L2158.3 178.3 L2161.3 178.4 L2164.3 178.5 L2167.3 178.6 L2170.3 178.7 L2173.3 178.8 L2176.3 179.0 L2179.4 179.1 L2182.4 179.2 L2185.4 179.3 L2188.4 179.5 L2191.4 179.6 L2194.4 179.7 L2197.4 179.8 L2200.4 180.0 L2203.4 180.1 L2206.4 180.2 L2209.4 180.4 L2212.4 180.5 L2215.4 180.7 L2218.4 180.8 L2221.4 180.9 L2224.4 181.1 L2227.4 181.2 L2230.4 181.4 L2233.4 181.5 L2236.4 181.7 L2239.4 181.9 L2242.4 182.0 L2245.4 182.2 L2248.4 182.3 L2251.4 182.5 L2254.4 182.7 L2257.4 182.8 L2260.4 183.0 L2263.5 183.2 L2266.5 183.3 L2269.5 183.5 L2272.5 183.7 L2275.5 183.9 L2278.5 184.0 L2281.5 184.2 L2284.5 184.4 L2287.5 184.6 L2290.5 184.8 L2293.5 185.0 L2296.5 185.2 L2299.5 185.4 L2302.5 185.6 L2305.5 185.8 L2308.5 186.0 L2311.5 186.3 L2314.5 186.5 L2317.5 186.7 L2320.5 187.0 L2323.5 187.2 L2326.5 187.5 L2329.5 187.8 L2332.5 188.0 L2335.5 188.3 L2338.5 188.5 L2341.5 188.8 L2344.6 189.1 L2347.6 189.3 L2350.6 189.6 L2353.6 189.8 L2356.6 190.1 L2359.6 190.3 L2362.6 190.6 L2365.6 190.8 L2368.6 191.0 L2371.6 191.2 L2374.6 191.5 L2377.6 191.7 L2380.6 191.9 L2383.6 192.1 L2386.6 192.3 L2389.6 192.5 L2392.6 192.7 L2395.6 192.9 L2398.6 193.1 L2401.6 193.3 L2404.6 193.5 L2407.6 193.7 L2410.6 193.9 L2413.6 194.1 L2416.6 194.2 L2416.6 709.7 L2420.6 709.9 L2424.6 710.1 L2428.7 710.4 L2432.7 710.6 L2436.7 710.8 L2440.7 711.1 L2444.8 711.3 L2448.8 711.5 L2452.8 711.8 L2456.8 712.0 L2460.8 712.3 L2464.9 712.5 L2468.9 712.8 L2472.9 713.0 L2476.9 713.3 L2480.9 713.6 L2485.0 713.8 L2489.0 714.1 L2493.0 714.4 L2497.0 714.6 L2501.1 714.9 L2505.1 715.2 L2509.1 715.5 L2513.1 715.8 L2517.1 716.1 L2521.2 716.4 L2525.2 716.7 L2529.2 717.0 L2533.2 717.3 L2537.2 717.6 L2541.3 717.9 L2545.3 718.2 L2549.3 718.5 L2553.3 718.8 L2557.4 719.1 L2561.4 719.5 L2565.4 719.8 L2569.4 720.1 L2573.4 720.5 L2577.5 720.8 L2581.5 721.1 L2585.5 721.5 L2589.5 721.8 L2593.5 722.2 L2597.6 722.5 L2601.6 722.9 L2605.6 723.3 L2609.6 723.6 L2613.7 724.0 L2617.7 724.4 L2621.7 724.7 L2625.7 725.1 L2629.7 725.5 L2633.8 725.9 L2637.8 726.3 L2641.8 726.7 L2645.8 727.1 L2649.9 727.5 L2653.9 727.9 L2657.9 728.3 L2661.9 728.7 L2665.9 729.1 L2670.0 729.5 L2674.0 729.9 L2678.0 730.4 L2682.0 730.8 L2686.0 731.2 L2690.1 731.7 L2694.1 732.1 L2698.1 732.5 L2702.1 733.0 L2706.2 733.4 L2710.2 733.9 L2714.2 734.3 L2718.2 734.8 L2722.2 735.3 L2726.3 735.7 L2730.3 736.2 L2734.3 736.7 L2738.3 737.1 L2742.3 737.6 L2746.4 738.1 L2750.4 738.6 L2754.4 739.1 L2758.4 739.6 L2762.5 740.1 L2766.5 740.6 L2770.5 741.1 L2774.5 741.6 L2778.5 742.1 L2782.6 742.6 L2786.6 743.2 L2790.6 743.7 L2794.6 744.2 L2798.6 744.8 L2802.7 745.3 L2806.7 745.8 L2810.7 746.4 L2814.7 746.9 L2818.8 747.5 L2822.8 748.0 L2826.8 748.6" stroke="#008000"/>
<path d="M1951.1 160.0 L1954.1 160.0 L1957.1 160.0 L1960.1 160.0 L1963.1 160.0 L1966.1 160.0 L1969.1 160.0 L1972.2 160.0 L1975.2 160.0 L1978.2 160.0 L1981.2 160.0 L1984.2 160.0 L1987.2 160.0 L1990.2 160.0 L1993.2 160.0 L1996.2 160.0 L1999.3 160.0 L2002.3 160.0 L2005.3 160.0 L2008.3 160.0 L2011.3 160.0 L2014.3 160.0 L2017.3 160.0 L2020.3 160.0 L2023.3 160.0 L2026.4 160.0 L2029.4 160.0 L2032.4 160.0 L2035.4 160.0 L2038.4 160.0 L2041.4 160.0 L2044.4 160.0 L2047.4 160.0 L2050.4 160.0 L2053.5 160.0 L2056.5 160.0 L2059.5 160.0 L2062.5 160.0 L2065.5 160.0 L2068.5 160.0 L2071.5 160.0 L2074.5 160.0 L2077.5 160.0 L2080.6 160.0 L2083.6 160.0 L2086.6 160.0 L2089.6 160.0 L2092.6 160.0 L2095.6 160.0 L2098.6 160.0 L2101.6 160.0 L2104.6 160.0 L2107.7 160.0 L2110.7 160.0 L2113.7 160.0 L2116.7 160.0 L2119.7 160.0 L2122.7 160.0 L2125.7 160.0 L2128.7 160.0 L2131.7 160.0 L2134.8 160.0 L2137.8 160.0 L2140.8 160.0 L2143.8 160.0 L2146.8 160.0 L2149.8 160.0 L2152.8 160.1 L2155.8 160.1 L2158.8 160.2 L2161.9 160.3 L2164.9 160.4 L2167.9 160.5 L2170.9 160.6 L2173.9 160.8 L2176.9 160.9 L2179.9 161.0 L2182.9 161.2 L2185.9 161.4 L2189.0 161.5 L2192.0 161.7 L2195.0 161.8 L2198.0 162.0 L2201.0 162.2 L2204.0 162.3 L2207.0 162.5 L2210.0 162.7 L2213.0 162.8 L2216.1 163.0 L2219.1 163.1 L2222.1 163.3 L2225.1 163.5 L2228.1 163.7 L2231.1 163.9 L2234.1 164.1 L2237.1 164.3 L2240.1 164.6 L2243.2 164.8 L2246.2 165.0 L2249.2 165.2 L2252.2 165.5 L2255.2 165.7 L2258.2 165.9 L2261.2 166.2 L2264.2 166.4 L2267.2 166.7 L2270.3 166.9 L2273.3 167.1 L2276.3 167.4 L2279.3 167.6 L2282.3 167.9 L2285.3 168.1 L2288.3 168.4 L2291.3 168.6 L2294.3 168.8 L2297.4 169.1 L2300.4 169.3 L2303.4 169.5 L2306.4 169.8 L2309.4 170.0 L2312.4 170.2 L2315.4 170.5 L2318.4 170.7 L2321.4 170.9 L2324.5 171.2 L2327.5 171.4 L2330.5 171.7 L2333.5 171.9 L2336.5 172.2 L2339.5 172.4 L2342.5 172.6 L2345.5 172.9 L2348.5 173.1 L2351.6 173.4 L2354.6 173.6 L2357.6 173.9 L2360.6 174.1 L2363.6 174.4 L2366.6 174.6 L2369.6 174.9 L2372.6 175.1 L2375.6 175.4 L2378.7 175.6 L2381.7 175.9 L2384.7 176.2 L2387.7 176.4 L2390.7 176.7 L2393.7 176.9 L2396.7 177.2 L2399.7 177.5 L2402.7 177.7 L2405.8 178.0 L2408.8 178.2 L2411.8 178.5 L2414.8 178.8 L2417.8 179.0 L2420.8 179.3 L2423.8 179.6 L2426.8 179.8 L2429.8 180.1 L2432.9 180.4 L2435.9 180.6 L2438.9 180.9 L2441.9 181.2 L2444.9 181.5 L2447.9 181.7 L2450.9 182.0 L2453.9 182.3 L2457.0 182.6 L2460.0 182.8 L2463.0 183.1 L2466.0 183.4 L2469.0 183.7 L2472.0 184.0 L2475.0 184.3 L2478.0 184.5 L2481.0 184.8 L2484.1 185.1 L2487.1 185.4 L2490.1 185.7 L2493.1 186.0 L2496.1 186.3 L2499.1 186.6 L2502.1 186.9 L2505.1 187.2 L2508.1 187.5 L2511.2 187.8 L2514.2 188.1 L2517.2 188.4 L2520.2 188.7 L2523.2 189.0 L2526.2 189.3 L2529.2 189.7 L2532.2 190.0 L2535.2 190.3 L2538.3 190.6 L2541.3 191.0 L2544.3 191.3 L2547.3 191.6 L2550.3 192.0 L2553.3 192.3 L2556.3 192.7 L2559.3 193.0 L2562.3 193.4 L2565.4 193.7 L2565.4 709.7 L2569.4 710.0 L2573.5 710.4 L2577.5 710.7 L2581.6 711.1 L2585.6 711.4 L2589.7 711.8 L2593.7 712.1 L2597.7 712.5 L2601.8 712.9 L2605.8 713.2 L2609.9 713.6 L2613.9 714.0 L2618.0 714.3 L2622.0 714.7 L2626.0 715.1 L2630.1 715.5 L2634.1 715.9 L2638.2 716.3 L2642.2 716.7 L2646.3 717.1 L2650.3 717.5 L2654.4 717.9 L2658.4 718.3 L2662.4 718.7 L2666.5 719.1 L2670.5 719.6 L2674.6 720.0 L2678.6 720.4 L2682.7 720.9 L2686.7 721.3 L2690.7 721.7 L2694.8 722.2 L2698.8 722.6 L2702.9 723.1 L2706.9 723.5 L2711.0 724.0 L2715.0 724.5 L2719.0 724.9 L2723.1 725.4 L2727.1 725.9 L2731.2 726.3 L2735.2 726.8 L2739.3 727.3 L2743.3 727.8 L2747.3 728.3 L2751.4 728.8 L2755.4 729.3 L2759.5 729.8 L2763.5 730.3 L2767.6 730.8 L2771.6 731.3 L2775.6 731.8 L2779.7 732.4 L2783.7 732.9 L2787.8 733.4 L2791.8 734.0 L2795.9 734.5 L2799.9 735.0 L2803.9 735.6 L2808.0 736.1 L2812.0 736.7 L2816.1 737.2 L2820.1 737.8 L2824.2 738.4 L2828.2 738.9 L2832.3 739.5 L2836.3 740.1 L2840.3 740.7 L2844.4 741.3 L2848.4 741.8 L2852.5 742.4 L2856.5 743.0 L2860.6 743.6 L2864.6 744.2 L2868.6 744.9 L2872.7 745.5 L2876.7 746.1 L2880.8 746.7 L2884.8 747.3 L2888.9 748.0 L2892.9 748.6" stroke="#000080"/>
<path d="M1951.1 173.5 L1954.1 173.5 L1957.1 173.4 L1960.1 173.4 L1963.1 173.4 L1966.1 173.4 L1969.1 173.4 L1972.1 173.4 L1975.1 173.4 L1978.1 173.4 L1981.1 173.4 L1984.1 173.3 L1987.1 173.3 L1990.1 173.3 L1993.1 173.3 L1996.1 173.2 L1999.1 173.2 L2002.1 173.2 L2005.1 173.2 L2008.1 173.1 L2011.1 173.1 L2014.1 173.1 L2017.1 173.0 L2020.1 173.0 L2023.1 173.0 L2026.1 172.9 L2029.1 172.9 L2032.1 172.8 L2035.1 172.8 L2038.1 172.8 L2041.1 172.7 L2044.2 172.7 L2047.2 172.6 L2050.2 172.6 L2053.2 172.6 L2056.2 172.5 L2059.2 172.5 L2062.2 172.4 L2065.2 172.4 L2068.2 172.3 L2071.2 172.3 L2074.2 172.2 L2077.2 172.2 L2080.2 172.1 L2083.2 172.0 L2086.2 171.9 L2089.2 171.8 L2092.2 171.7 L2095.2 171.7 L2098.2 171.6 L2101.2 171.4 L2104.2 171.3 L2107.2 171.2 L2110.2 171.1 L2113.2 171.0 L2116.2 170.9 L2119.2 170.8 L2122.2 170.6 L2125.2 170.5 L2128.2 170.4 L2131.2 170.2 L2134.2 170.1 L2137.2 170.0 L2140.2 169.8 L2143.2 169.7 L2146.2 169.6 L2149.2 169.4 L2152.2 169.3 L2155.2 169.2 L2158.2 169.0 L2161.3 168.9 L2164.3 168.8 L2167.3 168.6 L2170.3 168.5 L2173.3 168.4 L2176.3 168.2 L2179.3 168.1 L2182.3 168.0 L2185.3 167.8 L2188.3 167.7 L2191.3 167.6 L2194.3 167.4 L2197.3 167.3 L2200.3 167.2 L2203.3 167.0 L2206.3 166.9 L2209.3 166.7 L2212.3 166.6 L2215.3 166.4 L2218.3 166.3 L2221.3 166.1 L2224.3 166.0 L2227.3 165.8 L2230.3 165.7 L2233.3 165.5 L2236.3 165.4 L2239.3 165.2 L2242.3 165.1 L2245.3 164.9 L2248.3 164.8 L2251.3 164.6 L2254.3 164.5 L2257.3 164.3 L2260.3 164.2 L2263.3 164.0 L2266.3 163.9 L2269.3 163.8 L2272.3 163.6 L2275.3 163.5 L2278.4 163.4 L2281.4 163.2 L2284.4 163.1 L2287.4 163.0 L2290.4 162.8 L2293.4 162.7 L2296.4 162.6 L2299.4 162.5 L2302.4 162.3 L2305.4 162.2 L2308.4 162.1 L2311.4 161.9 L2314.4 161.8 L2317.4 161.6 L2320.4 161.5 L2323.4 161.4 L2326.4 161.2 L2329.4 161.1 L2332.4 161.0 L2335.4 160.8 L2338.4 160.7 L2341.4 160.6 L2344.4 160.5 L2347.4 160.4 L2350.4 160.3 L2353.4 160.2 L2356.4 160.1 L2359.4 160.1 L2362.4 160.0 L2365.4 160.0 L2368.4 160.0 L2371.4 160.0 L2374.4 160.0 L2377.4 160.0 L2380.4 160.0 L2383.4 160.0 L2386.4 160.0 L2389.4 160.0 L2392.4 160.0 L2395.5 160.0 L2398.5 160.0 L2401.5 160.0 L2404.5 160.0 L2407.5 160.0 L2410.5 160.0 L2413.5 160.0 L2416.5 160.1 L2419.5 160.2 L2422.5 160.3 L2425.5 160.5 L2428.5 160.7 L2431.5 160.9 L2434.5 161.1 L2437.5 161.4 L2440.5 161.6 L2443.5 161.9 L2446.5 162.1 L2449.5 162.4 L2452.5 162.6 L2455.5 162.8 L2458.5 163.1 L2461.5 163.4 L2464.5 163.7 L2467.5 164.0 L2470.5 164.3 L2473.5 164.6 L2476.5 164.9 L2479.5 165.2 L2482.5 165.6 L2485.5 165.9 L2488.5 166.3 L2491.5 166.7 L2494.5 167.0 L2497.5 167.4 L2500.5 167.8 L2503.5 168.2 L2506.5 168.5 L2509.5 168.9 L2512.6 169.3 L2515.6 169.7 L2518.6 170.1 L2521.6 170.4 L2524.6 170.8 L2527.6 171.2 L2530.6 171.6 L2533.6 171.9 L2536.6 172.3 L2539.6 172.7 L2542.6 173.1 L2545.6 173.5 L2548.6 173.9 L2551.6 174.3 L2554.6 174.7 L2557.6 175.1 L2560.6 175.5 L2563.6 175.9 L2566.6 176.3 L2569.6 176.7 L2572.6 177.1 L2575.6 177.5 L2578.6 178.0 L2581.6 178.4 L2584.6 178.8 L2587.6 179.3 L2590.6 179.7 L2593.6 180.2 L2596.6 180.6 L2599.6 181.0 L2602.6 181.5 L2605.6 181.9 L2608.6 182.4 L2611.6 182.9 L2614.6 183.3 L2617.6 183.8 L2620.6 184.3 L2623.6 184.7 L2626.7 185.2 L2629.7 185.7 L2632.7 186.2 L2635.7 186.6 L2638.7 187.1 L2641.7 187.6 L2644.7 188.1 L2647.7 188.6 L2650.7 189.1 L2653.7 189.6 L2656.7 190.1 L2659.7 190.6 L2662.7 191.1 L2665.7 191.6 L2668.7 192.1 L2671.7 192.7 L2674.7 193.2 L2677.7 193.7 L2677.7 709.7 L2681.8 710.1 L2685.8 710.6 L2689.9 711.1 L2693.9 711.5 L2698.0 712.0 L2702.0 712.5 L2706.1 712.9 L2710.1 713.4 L2714.2 713.9 L2718.2 714.4 L2722.3 714.9 L2726.3 715.3 L2730.4 715.8 L2734.4 716.3 L2738.5 716.8 L2742.5 717.3 L2746.6 717.9 L2750.6 718.4 L2754.7 718.9 L2758.7 719.4 L2762.8 719.9 L2766.8 720.5 L2770.9 721.0 L2774.9 721.5 L2779.0 722.1 L2783.0 722.6 L2787.1 723.2 L2791.1 723.7 L2795.2 724.3 L2799.2 724.9 L2803.3 725.4 L2807.3 726.0 L2811.4 726.6 L2815.4 727.2 L2819.5 727.7 L2823.5 728.3 L2827.6 728.9 L2831.6 729.5 L2835.7 730.1 L2839.7 730.7 L2843.8 731.3 L2847.8 731.9 L2851.9 732.5 L2855.9 733.2 L2860.0 733.8 L2864.0 734.4 L2868.1 735.1 L2872.1 735.7 L2876.2 736.3 L2880.2 737.0 L2884.3 737.6 L2888.3 738.3 L2892.4 738.9 L2896.4 739.6 L2900.5 740.3 L2904.5 740.9 L2908.6 741.6 L2912.6 742.3 L2916.7 743.0 L2920.7 743.7 L2924.8 744.4 L2928.8 745.1 L2932.9 745.8 L2936.9 746.5 L2941.0 747.2 L2945.0 747.9 L2949.1 748.6" stroke="#8000ff"/>
<path d="M1951.1 211.3 L1954.1 211.3 L1957.1 211.2 L1960.1 211.2 L1963.1 211.2 L1966.1 211.1 L1969.1 211.1 L1972.1 211.0 L1975.1 211.0 L1978.1 210.9 L1981.2 210.8 L1984.2 210.7 L1987.2 210.6 L1990.2 210.6 L1993.2 210.5 L1996.2 210.4 L1999.2 210.3 L2002.2 210.2 L2005.2 210.1 L2008.2 209.9 L2011.2 209.8 L2014.2 209.6 L2017.2 209.4 L2020.3 209.2 L2023.3 209.0 L2026.3 208.7 L2029.3 208.5 L2032.3 208.2 L2035.3 207.9 L2038.3 207.7 L2041.3 207.4 L2044.3 207.1 L2047.3 206.9 L2050.3 206.6 L2053.3 206.3 L2056.3 206.1 L2059.4 205.8 L2062.4 205.6 L2065.4 205.3 L2068.4 205.1 L2071.4 204.9 L2074.4 204.7 L2077.4 204.5 L2080.4 204.3 L2083.4 204.0 L2086.4 203.8 L2089.4 203.6 L2092.4 203.4 L2095.4 203.2 L2098.5 203.0 L2101.5 202.8 L2104.5 202.6 L2107.5 202.4 L2110.5 202.2 L2113.5 202.0 L2116.5 201.8 L2119.5 201.6 L2122.5 201.4 L2125.5 201.2 L2128.5 201.0 L2131.5 200.8 L2134.6 200.6 L2137.6 200.4 L2140.6 200.2 L2143.6 200.0 L2146.6 199.8 L2149.6 199.5 L2152.6 199.3 L2155.6 199.1 L2158.6 198.9 L2161.6 198.7 L2164.6 198.4 L2167.6 198.2 L2170.6 198.0 L2173.7 197.8 L2176.7 197.5 L2179.7 197.3 L2182.7 197.0 L2185.7 196.8 L2188.7 196.5 L2191.7 196.3 L2194.7 196.0 L2197.7 195.8 L2200.7 195.5 L2203.7 195.2 L2206.7 195.0 L2209.7 194.7 L2212.8 194.4 L2215.8 194.2 L2218.8 193.9 L2221.8 193.6 L2224.8 193.3 L2227.8 193.1 L2230.8 192.8 L2233.8 192.5 L2236.8 192.2 L2239.8 191.9 L2242.8 191.6 L2245.8 191.3 L2248.8 191.0 L2251.9 190.8 L2254.9 190.5 L2257.9 190.2 L2260.9 189.9 L2263.9 189.6 L2266.9 189.3 L2269.9 189.0 L2272.9 188.7 L2275.9 188.3 L2278.9 188.0 L2281.9 187.7 L2284.9 187.4 L2287.9 187.1 L2291.0 186.8 L2294.0 186.5 L2297.0 186.2 L2300.0 185.9 L2303.0 185.6 L2306.0 185.3 L2309.0 184.9 L2312.0 184.6 L2315.0 184.3 L2318.0 184.0 L2321.0 183.6 L2324.0 183.3 L2327.1 183.0 L2330.1 182.6 L2333.1 182.3 L2336.1 182.0 L2339.1 181.6 L2342.1 181.3 L2345.1 181.0 L2348.1 180.6 L2351.1 180.3 L2354.1 179.9 L2357.1 179.6 L2360.1 179.2 L2363.1 178.9 L2366.2 178.6 L2369.2 178.2 L2372.2 177.9 L2375.2 177.5 L2378.2 177.2 L2381.2 176.8 L2384.2 176.4 L2387.2 176.1 L2390.2 175.7 L2393.2 175.4 L2396.2 175.0 L2399.2 174.7 L2402.2 174.3 L2405.3 174.0 L2408.3 173.6 L2411.3 173.3 L2414.3 172.9 L2417.3 172.5 L2420.3 172.1 L2423.3 171.7 L2426.3 171.3 L2429.3 170.9 L2432.3 170.5 L2435.3 170.1 L2438.3 169.7 L2441.3 169.3 L2444.4 168.9 L2447.4 168.5 L2450.4 168.1 L2453.4 167.7 L2456.4 167.3 L2459.4 167.0 L2462.4 166.6 L2465.4 166.3 L2468.4 165.9 L2471.4 165.6 L2474.4 165.3 L2477.4 165.0 L2480.5 164.8 L2483.5 164.6 L2486.5 164.3 L2489.5 164.2 L2492.5 164.0 L2495.5 163.8 L2498.5 163.6 L2501.5 163.3 L2504.5 163.1 L2507.5 162.8 L2510.5 162.4 L2513.5 162.1 L2516.5 161.7 L2519.6 161.4 L2522.6 161.1 L2525.6 160.8 L2528.6 160.5 L2531.6 160.3 L2534.6 160.1 L2537.6 160.0 L2540.6 160.0 L2543.6 160.0 L2546.6 160.0 L2549.6 160.0 L2552.6 160.0 L2555.6 160.0 L2558.7 160.0 L2561.7 160.0 L2564.7 160.0 L2567.7 160.0 L2570.7 160.0 L2573.7 160.0 L2576.7 160.0 L2579.7 160.0 L2582.7 160.1 L2585.7 160.6 L2588.7 161.3 L2591.7 161.8 L2594.7 162.4 L2597.8 162.9 L2600.8 163.4 L2603.8 164.0 L2606.8 164.5 L2609.8 165.0 L2612.8 165.6 L2615.8 166.1 L2618.8 166.6 L2621.8 167.2 L2624.8 167.7 L2627.8 168.2 L2630.8 168.7 L2633.9 169.3 L2636.9 169.8 L2639.9 170.3 L2642.9 170.9 L2645.9 171.4 L2648.9 171.9 L2651.9 172.5 L2654.9 173.0 L2657.9 173.5 L2660.9 174.1 L2663.9 174.6 L2666.9 175.1 L2669.9 175.6 L2673.0 176.2 L2676.0 176.7 L2679.0 177.2 L2682.0 177.8 L2685.0 178.3 L2688.0 178.8 L2691.0 179.4 L2694.0 179.9 L2697.0 180.4 L2700.0 181.0 L2703.0 181.5 L2706.0 182.0 L2709.0 182.6 L2712.1 183.1 L2715.1 183.6 L2718.1 184.1 L2721.1 184.7 L2724.1 185.2 L2727.1 185.7 L2730.1 186.3 L2733.1 186.8 L2736.1 187.3 L2739.1 187.9 L2742.1 188.4 L2745.1 188.9 L2748.1 189.5 L2751.2 190.0 L2754.2 190.5 L2757.2 191.1 L2760.2 191.6 L2763.2 192.1 L2766.2 192.6 L2769.2 193.2 L2772.2 193.7 L2772.2 709.7 L2776.3 710.3 L2780.3 710.9 L2784.4 711.4 L2788.4 712.0 L2792.5 712.6 L2796.6 713.2 L2800.6 713.8 L2804.7 714.4 L2808.7 715.0 L2812.8 715.6 L2816.9 716.2 L2820.9 716.9 L2825.0 717.5 L2829.0 718.1 L2833.1 718.7 L2837.2 719.4 L2841.2 720.0 L2845.3 720.7 L2849.4 721.3 L2853.4 722.0 L2857.5 722.6 L2861.5 723.3 L2865.6 724.0 L2869.7 724.6 L2873.7 725.3 L2877.8 726.0 L2881.8 726.7 L2885.9 727.4 L2890.0 728.1 L2894.0 728.8 L2898.1 729.5 L2902.1 730.2 L2906.2 730.9 L2910.3 731.6 L2914.3 732.3 L2918.4 733.1 L2922.4 733.8 L2926.5 734.5 L2930.6 735.3 L2934.6 736.0 L2938.7 736.8 L2942.8 737.5 L2946.8 738.3 L2950.9 739.1 L2954.9 739.8 L2959.0 740.6 L2963.1 741.4 L2967.1 742.2 L2971.2 743.0 L2975.2 743.7 L2979.3 744.5 L2983.4 745.3 L2987.4 746.2 L2991.5 747.0 L2995.5 747.8 L2999.6 748.6" stroke="#800080"/>
<path d="M1951.2 338.2 L1954.2 338.2 L1957.2 338.2 L1960.2 338.2 L1963.2 338.1 L1966.2 338.1 L1969.2 338.1 L1972.2 338.0 L1975.2 338.0 L1978.2 337.9 L1981.2 337.9 L1984.2 337.8 L1987.2 337.8 L1990.2 337.7 L1993.2 337.6 L1996.2 337.5 L1999.2 337.4 L2002.2 337.3 L2005.2 337.1 L2008.2 336.9 L2011.2 336.6 L2014.2 336.3 L2017.2 336.0 L2020.2 335.7 L2023.2 335.4 L2026.2 335.0 L2029.2 334.6 L2032.2 334.2 L2035.2 333.8 L2038.2 333.4 L2041.2 332.9 L2044.2 332.5 L2047.2 332.1 L2050.2 331.6 L2053.2 331.2 L2056.2 330.8 L2059.2 330.3 L2062.2 329.9 L2065.3 329.5 L2068.3 329.1 L2071.3 328.7 L2074.3 328.3 L2077.3 327.8 L2080.3 327.4 L2083.3 327.0 L2086.3 326.5 L2089.3 326.1 L2092.3 325.6 L2095.3 325.2 L2098.3 324.7 L2101.3 324.2 L2104.3 323.7 L2107.3 323.2 L2110.3 322.7 L2113.3 322.2 L2116.3 321.6 L2119.3 321.1 L2122.3 320.6 L2125.3 320.0 L2128.3 319.4 L2131.3 318.8 L2134.3 318.3 L2137.3 317.6 L2140.3 317.0 L2143.3 316.4 L2146.3 315.7 L2149.3 315.0 L2152.3 314.3 L2155.3 313.5 L2158.3 312.8 L2161.3 312.0 L2164.3 311.2 L2167.3 310.4 L2170.3 309.5 L2173.3 308.7 L2176.3 307.8 L2179.3 307.0 L2182.3 306.1 L2185.3 305.3 L2188.3 304.4 L2191.3 303.5 L2194.3 302.6 L2197.3 301.7 L2200.3 300.8 L2203.3 299.9 L2206.3 298.9 L2209.3 298.0 L2212.3 297.1 L2215.3 296.1 L2218.3 295.1 L2221.3 294.2 L2224.3 293.2 L2227.3 292.2 L2230.3 291.2 L2233.3 290.2 L2236.3 289.2 L2239.3 288.1 L2242.3 287.1 L2245.3 286.1 L2248.3 285.0 L2251.3 284.0 L2254.3 282.9 L2257.3 281.8 L2260.3 280.7 L2263.3 279.6 L2266.3 278.5 L2269.3 277.4 L2272.3 276.3 L2275.3 275.1 L2278.3 274.0 L2281.3 272.9 L2284.3 271.7 L2287.3 270.5 L2290.4 269.3 L2293.4 268.2 L2296.4 267.0 L2299.4 265.7 L2302.4 264.4 L2305.4 263.1 L2308.4 261.8 L2311.4 260.4 L2314.4 259.0 L2317.4 257.6 L2320.4 256.2 L2323.4 254.8 L2326.4 253.4 L2329.4 251.9 L2332.4 250.5 L2335.4 249.1 L2338.4 247.7 L2341.4 246.4 L2344.4 245.0 L2347.4 243.7 L2350.4 242.3 L2353.4 241.0 L2356.4 239.6 L2359.4 238.3 L2362.4 236.9 L2365.4 235.6 L2368.4 234.2 L2371.4 232.9 L2374.4 231.5 L2377.4 230.2 L2380.4 228.8 L2383.4 227.5 L2386.4 226.1 L2389.4 224.8 L2392.4 223.4 L2395.4 222.1 L2398.4 220.7 L2401.4 219.4 L2404.4 218.0 L2407.4 216.7 L2410.4 215.3 L2413.4 213.9 L2416.4 212.4 L2419.4 210.9 L2422.4 209.4 L2425.4 208.0 L2428.4 206.7 L2431.4 205.5 L2434.4 204.6 L2437.4 203.7 L2440.4 202.9 L2443.4 202.2 L2446.4 201.5 L2449.4 200.9 L2452.4 200.3 L2455.4 199.7 L2458.4 199.1 L2461.4 198.6 L2464.4 198.1 L2467.4 197.6 L2470.4 197.1 L2473.4 196.6 L2476.4 196.1 L2479.4 195.6 L2482.4 195.1 L2485.4 194.6 L2488.4 194.0 L2491.4 193.4 L2494.4 192.8 L2497.4 192.2 L2500.4 191.5 L2503.4 190.8 L2506.4 190.0 L2509.4 189.2 L2512.4 188.3 L2515.5 187.5 L2518.5 186.7 L2521.5 185.8 L2524.5 185.1 L2527.5 184.4 L2530.5 183.6 L2533.5 182.9 L2536.5 182.2 L2539.5 181.5 L2542.5 180.8 L2545.5 180.2 L2548.5 179.5 L2551.5 178.8 L2554.5 178.2 L2557.5 177.6 L2560.5 176.9 L2563.5 176.3 L2566.5 175.6 L2569.5 175.0 L2572.5 174.3 L2575.5 173.7 L2578.5 173.0 L2581.5 172.4 L2584.5 171.8 L2587.5 171.2 L2590.5 170.6 L2593.5 170.0 L2596.5 169.5 L2599.5 168.9 L2602.5 168.4 L2605.5 167.9 L2608.5 167.4 L2611.5 167.0 L2614.5 166.5 L2617.5 166.1 L2620.5 165.7 L2623.5 165.3 L2626.5 164.9 L2629.5 164.6 L2632.5 164.2 L2635.5 163.8 L2638.5 163.4 L2641.5 162.9 L2644.5 162.4 L2647.5 161.9 L2650.5 161.5 L2653.5 161.1 L2656.5 160.8 L2659.5 160.6 L2662.5 160.4 L2665.5 160.3 L2668.5 160.1 L2671.5 160.0 L2674.5 160.0 L2677.5 160.0 L2680.5 160.0 L2683.5 160.0 L2686.5 160.0 L2689.5 160.0 L2692.5 160.0 L2695.5 160.0 L2698.5 160.0 L2701.5 160.0 L2704.5 160.0 L2707.5 160.3 L2710.5 161.1 L2713.5 162.0 L2716.5 162.7 L2719.5 163.3 L2722.5 164.0 L2725.5 164.7 L2728.5 165.4 L2731.5 166.1 L2734.5 166.8 L2737.5 167.5 L2740.6 168.2 L2743.6 168.9 L2746.6 169.5 L2749.6 170.2 L2752.6 170.9 L2755.6 171.6 L2758.6 172.3 L2761.6 173.0 L2764.6 173.7 L2767.6 174.3 L2770.6 175.0 L2773.6 175.7 L2776.6 176.4 L2779.6 177.1 L2782.6 177.8 L2785.6 178.5 L2788.6 179.2 L2791.6 179.9 L2794.6 180.6 L2797.6 181.2 L2800.6 181.9 L2803.6 182.6 L2806.6 183.3 L2809.6 184.0 L2812.6 184.7 L2815.6 185.4 L2818.6 186.1 L2821.6 186.8 L2824.6 187.5 L2827.6 188.2 L2830.6 188.8 L2833.6 189.5 L2836.6 190.2 L2839.6 190.9 L2842.6 191.6 L2845.6 192.3 L2848.6 193.0 L2851.6 193.7 L2851.6 709.7 L2855.6 710.4 L2859.6 711.1 L2863.6 711.9 L2867.6 712.6 L2871.6 713.3 L2875.6 714.1 L2879.6 714.8 L2883.6 715.6 L2887.6 716.3 L2891.6 717.1 L2895.6 717.8 L2899.6 718.6 L2903.6 719.4 L2907.6 720.1 L2911.6 720.9 L2915.6 721.7 L2919.6 722.5 L2923.6 723.3 L2927.6 724.1 L2931.6 724.9 L2935.6 725.7 L2939.6 726.5 L2943.6 727.4 L2947.6 728.2 L2951.6 729.0 L2955.6 729.9 L2959.6 730.7 L2963.6 731.5 L2967.6 732.4 L2971.6 733.3 L2975.6 734.1 L2979.6 735.0 L2983.6 735.9 L2987.6 736.7 L2991.6 737.6 L2995.6 738.5 L2999.6 739.4 L3003.6 740.3 L3007.6 741.2 L3011.6 742.1 L3015.6 743.0 L3019.6 743.9 L3023.6 744.9 L3027.6 745.8 L3031.6 746.7 L3035.6 747.7 L3039.6 748.6" stroke="#00ff00"/>
<path d="M1951.2 576.6 L1954.2 576.6 L1957.2 576.5 L1960.2 576.5 L1963.2 576.4 L1966.2 576.3 L1969.2 576.2 L1972.2 576.1 L1975.2 576.0 L1978.2 575.8 L1981.2 575.7 L1984.2 575.5 L1987.2 575.4 L1990.2 575.2 L1993.2 575.0 L1996.2 574.9 L1999.2 574.7 L2002.2 574.5 L2005.2 574.2 L2008.2 573.9 L2011.2 573.7 L2014.2 573.3 L2017.2 573.0 L2020.2 572.7 L2023.2 572.3 L2026.2 571.9 L2029.2 571.5 L2032.2 571.1 L2035.2 570.7 L2038.2 570.3 L2041.2 569.9 L2044.2 569.4 L2047.2 569.0 L2050.2 568.5 L2053.2 568.0 L2056.2 567.6 L2059.2 567.1 L2062.2 566.6 L2065.2 566.1 L2068.2 565.6 L2071.2 565.1 L2074.2 564.6 L2077.2 564.1 L2080.2 563.5 L2083.2 563.0 L2086.2 562.4 L2089.2 561.8 L2092.2 561.1 L2095.2 560.5 L2098.2 559.9 L2101.2 559.2 L2104.2 558.5 L2107.2 557.8 L2110.2 557.2 L2113.2 556.4 L2116.2 555.7 L2119.2 555.0 L2122.2 554.3 L2125.2 553.5 L2128.2 552.7 L2131.2 552.0 L2134.2 551.2 L2137.2 550.4 L2140.2 549.6 L2143.2 548.8 L2146.2 548.0 L2149.2 547.1 L2152.2 546.2 L2155.2 545.3 L2158.2 544.4 L2161.2 543.5 L2164.2 542.5 L2167.2 541.5 L2170.2 540.5 L2173.2 539.5 L2176.2 538.5 L2179.2 537.4 L2182.2 536.4 L2185.2 535.3 L2188.2 534.2 L2191.2 533.1 L2194.2 532.0 L2197.3 530.9 L2200.3 529.8 L2203.3 528.6 L2206.3 527.5 L2209.3 526.3 L2212.3 525.2 L2215.3 524.0 L2218.3 522.8 L2221.3 521.6 L2224.3 520.4 L2227.3 519.2 L2230.3 517.9 L2233.3 516.7 L2236.3 515.4 L2239.3 514.1 L2242.3 512.8 L2245.3 511.5 L2248.3 510.2 L2251.3 508.8 L2254.3 507.5 L2257.3 506.1 L2260.3 504.7 L2263.3 503.3 L2266.3 501.9 L2269.3 500.5 L2272.3 499.1 L2275.3 497.6 L2278.3 496.1 L2281.3 494.6 L2284.3 493.1 L2287.3 491.6 L2290.3 490.1 L2293.3 488.5 L2296.3 486.9 L2299.3 485.3 L2302.3 483.7 L2305.3 482.0 L2308.3 480.3 L2311.3 478.5 L2314.3 476.7 L2317.3 474.9 L2320.3 473.1 L2323.3 471.2 L2326.3 469.3 L2329.3 467.4 L2332.3 465.4 L2335.3 463.5 L2338.3 461.5 L2341.3 459.4 L2344.3 457.4 L2347.3 455.4 L2350.3 453.3 L2353.3 451.2 L2356.3 449.1 L2359.3 447.0 L2362.3 444.8 L2365.3 442.7 L2368.3 440.6 L2371.3 438.4 L2374.3 436.2 L2377.3 434.0 L2380.3 431.9 L2383.3 429.7 L2386.3 427.5 L2389.3 425.3 L2392.3 423.1 L2395.3 420.9 L2398.3 418.7 L2401.3 416.5 L2404.3 414.3 L2407.3 412.2 L2410.3 410.0 L2413.3 407.8 L2416.3 405.6 L2419.3 403.4 L2422.3 401.2 L2425.3 399.0 L2428.3 396.8 L2431.3 394.6 L2434.3 392.3 L2437.3 390.1 L2440.3 387.8 L2443.3 385.6 L2446.3 383.3 L2449.3 381.0 L2452.3 378.7 L2455.3 376.4 L2458.3 374.1 L2461.3 371.8 L2464.3 369.4 L2467.3 367.1 L2470.3 364.7 L2473.3 362.4 L2476.3 360.0 L2479.3 357.6 L2482.3 355.2 L2485.3 352.8 L2488.3 350.4 L2491.3 348.0 L2494.3 345.6 L2497.3 343.1 L2500.3 340.7 L2503.3 338.2 L2506.3 335.8 L2509.3 333.3 L2512.3 330.8 L2515.3 328.3 L2518.3 325.8 L2521.3 323.3 L2524.3 320.7 L2527.3 318.2 L2530.3 315.6 L2533.3 313.0 L2536.3 310.3 L2539.3 307.7 L2542.3 305.0 L2545.3 302.3 L2548.3 299.5 L2551.3 296.8 L2554.3 294.0 L2557.3 291.2 L2560.3 288.5 L2563.3 285.6 L2566.3 282.8 L2569.3 280.0 L2572.3 277.2 L2575.3 274.3 L2578.3 271.5 L2581.3 268.6 L2584.3 265.8 L2587.3 262.9 L2590.3 260.1 L2593.3 257.2 L2596.3 254.4 L2599.3 251.5 L2602.3 248.7 L2605.3 245.9 L2608.3 243.1 L2611.3 240.3 L2614.3 237.5 L2617.3 234.8 L2620.3 232.0 L2623.3 229.3 L2626.3 226.6 L2629.3 223.9 L2632.3 221.3 L2635.3 218.7 L2638.3 216.1 L2641.3 213.4 L2644.3 210.6 L2647.3 207.9 L2650.3 205.3 L2653.3 203.1 L2656.3 201.4 L2659.3 200.0 L2662.3 198.9 L2665.3 197.9 L2668.3 197.0 L2671.3 196.0 L2674.3 195.1 L2677.3 194.1 L2680.3 193.0 L2683.4 191.8 L2686.4 190.6 L2689.4 189.4 L2692.4 188.2 L2695.4 187.0 L2698.4 185.8 L2701.4 184.7 L2704.4 183.5 L2707.4 182.5 L2710.4 181.4 L2713.4 180.4 L2716.4 179.5 L2719.4 178.5 L2722.4 177.6 L2725.4 176.7 L2728.4 175.8 L2731.4 175.0 L2734.4 174.1 L2737.4 173.3 L2740.4 172.5 L2743.4 171.7 L2746.4 170.9 L2749.4 170.1 L2752.4 169.4 L2755.4 168.7 L2758.4 168.0 L2761.4 167.2 L2764.4 166.5 L2767.4 165.9 L2770.4 165.2 L2773.4 164.6 L2776.4 164.0 L2779.4 163.4 L2782.4 162.9 L2785.4 162.4 L2788.4 161.9 L2791.4 161.4 L2794.4 160.9 L2797.4 160.5 L2800.4 160.2 L2803.4 160.0 L2806.4 160.0 L2809.4 160.0 L2812.4 160.0 L2815.4 160.0 L2818.4 160.4 L2821.4 161.5 L2824.4 162.6 L2827.4 163.5 L2830.4 164.5 L2833.4 165.4 L2836.4 166.3 L2839.4 167.3 L2842.4 168.2 L2845.4 169.2 L2848.4 170.1 L2851.4 171.1 L2854.4 172.0 L2857.4 173.0 L2860.4 173.9 L2863.4 174.9 L2866.4 175.8 L2869.4 176.8 L2872.4 177.7 L2875.4 178.6 L2878.4 179.6 L2881.4 180.5 L2884.4 181.5 L2887.4 182.4 L2890.4 183.4 L2893.4 184.3 L2896.4 185.2 L2899.4 186.2 L2902.4 187.1 L2905.4 188.1 L2908.4 189.0 L2911.4 189.9 L2914.4 190.9 L2917.4 191.8 L2920.4 192.8 L2923.4 193.7 L2923.4 710.8 L2927.4 711.7 L2931.4 712.6 L2935.4 713.5 L2939.4 714.4 L2943.4 715.4 L2947.5 716.3 L2951.5 717.2 L2955.5 718.1 L2959.5 719.1 L2963.5 720.0 L2967.5 721.0 L2971.5 722.0 L2975.5 722.9 L2979.5 723.9 L2983.5 724.9 L2987.6 725.9 L2991.6 726.8 L2995.6 727.8 L2999.6 728.8 L3003.6 729.8 L3007.6 730.9 L3011.6 731.9 L3015.6 732.9 L3019.6 733.9 L3023.6 735.0 L3027.7 736.0 L3031.7 737.1 L3035.7 738.1 L3039.7 739.2 L3043.7 740.2 L3047.7 741.3" stroke="#808000"/>
</g>
<path d="M2347.8 871.7 V757.8" stroke="#808080" stroke-width="6.8" stroke-linecap="round" stroke-dasharray="0 11.34" fill="none"/>
<path d="M2518.1 871.7 V757.8" stroke="#808080" stroke-width="6.8" stroke-linecap="round" stroke-dasharray="0 11.34" fill="none"/>
<path d="M2643.9 871.7 V757.8" stroke="#808080" stroke-width="6.8" stroke-linecap="round" stroke-dasharray="0 11.34" fill="none"/>
<path d="M2744.4 871.7 V757.8" stroke="#808080" stroke-width="6.8" stroke-linecap="round" stroke-dasharray="0 11.34" fill="none"/>
<path d="M2826.8 871.7 V757.8" stroke="#808080" stroke-width="6.8" stroke-linecap="round" stroke-dasharray="0 11.34" fill="none"/>
<path d="M2892.9 871.7 V757.8" stroke="#808080" stroke-width="6.8" stroke-linecap="round" stroke-dasharray="0 11.34" fill="none"/>
<path d="M2949.1 871.7 V757.8" stroke="#808080" stroke-width="6.8" stroke-linecap="round" stroke-dasharray="0 11.34" fill="none"/>
<path d="M2999.6 871.7 V757.8" stroke="#808080" stroke-width="6.8" stroke-linecap="round" stroke-dasharray="0 11.34" fill="none"/>
<path d="M3039.6 871.7 V757.8" stroke="#808080" stroke-width="6.8" stroke-linecap="round" stroke-dasharray="0 11.34" fill="none"/>
<path d="M3047.7 871.7 V757.8" stroke="#808080" stroke-width="6.8" stroke-linecap="round" stroke-dasharray="0 11.34" fill="none"/>
<text x="2570.0" y="93.5" font-family='"Liberation Serif", "DejaVu Serif", serif' font-weight="bold" font-size="41" fill="#000" xml:space="preserve">GM1-SU3:   npe<tspan font-weight="normal">μ</tspan>+hyperons</text>
<text x="2267.3" y="546.9" text-anchor="start" font-family='"Liberation Serif", "DejaVu Serif", serif' font-weight="bold" font-size="40" fill="#000" >B</text>
<text x="2975.0" y="696.2" text-anchor="start" font-family='"Liberation Serif", "DejaVu Serif", serif' font-weight="bold" font-size="40" fill="#000" >A</text>
<text x="2242.1" y="812.8" font-family='"Liberation Serif", "DejaVu Serif", serif' font-weight="bold" font-style="italic" font-size="40" fill="#000">R<tspan font-size="26" dy="16.2">crit</tspan></text>
<path d="M2297.0 524.5 L2323.5 491.3" stroke="#c0c0c0" stroke-width="4.6" stroke-linecap="round" fill="none"/><path d="M2335.0 476.8 L2328.0 494.9 L2319.0 487.7Z" fill="#c0c0c0" stroke="#c0c0c0" stroke-width="3.2" stroke-linejoin="round"/>
<text x="2491.0" y="1110.2" text-anchor="middle" font-family='"Liberation Serif", "DejaVu Serif", serif' font-size="67" fill="#000"><tspan font-size="74.2">(</tspan>b<tspan font-size="74.2">)</tspan></text>
<rect x="180.5" y="1222.5" width="1147.50" height="843.80" fill="none" stroke="#000" stroke-width="6.6" stroke-linejoin="round"/>
<path d="M237.88 2064.3 v-6.199999999999999 M237.88 1224.5 v6.199999999999999 M295.25 2064.3 v-14.600000000000001 M295.25 1224.5 v14.600000000000001 M352.62 2064.3 v-6.199999999999999 M352.62 1224.5 v6.199999999999999 M410.00 2064.3 v-14.600000000000001 M410.00 1224.5 v14.600000000000001 M467.38 2064.3 v-6.199999999999999 M467.38 1224.5 v6.199999999999999 M524.75 2064.3 v-14.600000000000001 M524.75 1224.5 v14.600000000000001 M582.12 2064.3 v-6.199999999999999 M582.12 1224.5 v6.199999999999999 M639.50 2064.3 v-14.600000000000001 M639.50 1224.5 v14.600000000000001 M696.88 2064.3 v-6.199999999999999 M696.88 1224.5 v6.199999999999999 M754.25 2064.3 v-14.600000000000001 M754.25 1224.5 v14.600000000000001 M811.62 2064.3 v-6.199999999999999 M811.62 1224.5 v6.199999999999999 M869.00 2064.3 v-14.600000000000001 M869.00 1224.5 v14.600000000000001 M926.38 2064.3 v-6.199999999999999 M926.38 1224.5 v6.199999999999999 M983.75 2064.3 v-14.600000000000001 M983.75 1224.5 v14.600000000000001 M1041.12 2064.3 v-6.199999999999999 M1041.12 1224.5 v6.199999999999999 M1098.50 2064.3 v-14.600000000000001 M1098.50 1224.5 v14.600000000000001 M1155.88 2064.3 v-6.199999999999999 M1155.88 1224.5 v6.199999999999999 M1213.25 2064.3 v-14.600000000000001 M1213.25 1224.5 v14.600000000000001 M1270.62 2064.3 v-6.199999999999999 M1270.62 1224.5 v6.199999999999999 M182.5 1925.67 h14.600000000000001 M1326.0 1925.67 h-14.600000000000001 M182.5 1785.03 h14.600000000000001 M1326.0 1785.03 h-14.600000000000001 M182.5 1644.40 h14.600000000000001 M1326.0 1644.40 h-14.600000000000001 M182.5 1503.77 h14.600000000000001 M1326.0 1503.77 h-14.600000000000001 M182.5 1363.13 h14.600000000000001 M1326.0 1363.13 h-14.600000000000001 M182.5 2038.17 h6.199999999999999 M1326.0 2038.17 h-6.199999999999999 M182.5 2010.05 h6.199999999999999 M1326.0 2010.05 h-6.199999999999999 M182.5 1981.92 h6.199999999999999 M1326.0 1981.92 h-6.199999999999999 M182.5 1953.79 h6.199999999999999 M1326.0 1953.79 h-6.199999999999999 M182.5 1897.54 h6.199999999999999 M1326.0 1897.54 h-6.199999999999999 M182.5 1869.41 h6.199999999999999 M1326.0 1869.41 h-6.199999999999999 M182.5 1841.29 h6.199999999999999 M1326.0 1841.29 h-6.199999999999999 M182.5 1813.16 h6.199999999999999 M1326.0 1813.16 h-6.199999999999999 M182.5 1756.91 h6.199999999999999 M1326.0 1756.91 h-6.199999999999999 M182.5 1728.78 h6.199999999999999 M1326.0 1728.78 h-6.199999999999999 M182.5 1700.65 h6.199999999999999 M1326.0 1700.65 h-6.199999999999999 M182.5 1672.53 h6.199999999999999 M1326.0 1672.53 h-6.199999999999999 M182.5 1616.27 h6.199999999999999 M1326.0 1616.27 h-6.199999999999999 M182.5 1588.15 h6.199999999999999 M1326.0 1588.15 h-6.199999999999999 M182.5 1560.02 h6.199999999999999 M1326.0 1560.02 h-6.199999999999999 M182.5 1531.89 h6.199999999999999 M1326.0 1531.89 h-6.199999999999999 M182.5 1475.64 h6.199999999999999 M1326.0 1475.64 h-6.199999999999999 M182.5 1447.51 h6.199999999999999 M1326.0 1447.51 h-6.199999999999999 M182.5 1419.39 h6.199999999999999 M1326.0 1419.39 h-6.199999999999999 M182.5 1391.26 h6.199999999999999 M1326.0 1391.26 h-6.199999999999999 M182.5 1335.01 h6.199999999999999 M1326.0 1335.01 h-6.199999999999999 M182.5 1306.88 h6.199999999999999 M1326.0 1306.88 h-6.199999999999999 M182.5 1278.75 h6.199999999999999 M1326.0 1278.75 h-6.199999999999999 M182.5 1250.63 h6.199999999999999 M1326.0 1250.63 h-6.199999999999999" fill="none" stroke="#000" stroke-width="6.8" stroke-linecap="round"/>
<g font-family='"Liberation Serif", "DejaVu Serif", serif' font-weight="bold" font-size="42.3" fill="#000">
<g text-anchor="middle">
<text x="180.5" y="2117.5">0</text>
<text x="295.2" y="2117.5">1</text>
<text x="410.0" y="2117.5">2</text>
<text x="524.8" y="2117.5">3</text>
<text x="639.5" y="2117.5">4</text>
<text x="754.2" y="2117.5">5</text>
<text x="869.0" y="2117.5">6</text>
<text x="983.8" y="2117.5">7</text>
<text x="1098.5" y="2117.5">8</text>
<text x="1213.2" y="2117.5">9</text>
<text x="1328.0" y="2117.5">10</text>
</g><g text-anchor="end">
<text x="161.7" y="2077.9">8</text>
<text x="161.7" y="1937.3">10</text>
<text x="161.7" y="1796.6">12</text>
<text x="161.7" y="1656.0">14</text>
<text x="161.7" y="1515.4">16</text>
<text x="161.7" y="1374.7">18</text>
<text x="161.7" y="1234.1">20</text>
</g></g>
<text transform="translate(69.5,1912.0) rotate(-90)" font-family='"Liberation Serif", "DejaVu Serif", serif' font-weight="bold" font-size="44" fill="#000" xml:space="preserve"><tspan font-style="italic">Q</tspan> (10<tspan dx="3" dy="-23.1">26</tspan><tspan dy="23.1"> T</tspan><tspan dx="1" dy="-23.1">6</tspan><tspan dx="-22" dy="39.2">9</tspan><tspan dx="2" dy="-16.1" font-size="45.6"> erg cm</tspan><tspan dx="0.5" dy="-23.1">-3</tspan><tspan dy="23.1" font-size="45.6">s</tspan><tspan dy="-23.1">-1</tspan><tspan dx="1.5" dy="23.1" font-size="45.6">)</tspan></text>
<text x="753.0" y="2187.4" text-anchor="middle" font-family='"Liberation Serif", "DejaVu Serif", serif' font-weight="bold" font-size="41.5" fill="#000"><tspan font-style="italic">R</tspan>(km)</text>
<g clip-path="url(#cc)" fill="none" stroke-width="6.8" stroke-linecap="round" stroke-linejoin="miter">
<path d="M180.5 1979.1 L184.5 1979.1 L188.5 1979.1 L192.5 1979.1 L196.5 1979.1 L200.5 1979.1 L204.5 1979.1 L208.5 1979.1 L212.5 1979.1 L216.5 1979.2 L220.6 1979.2 L224.6 1979.2 L228.6 1979.2 L232.6 1979.2 L236.6 1979.3 L240.6 1979.3 L244.6 1979.3 L248.6 1979.3 L252.6 1979.3 L256.6 1979.4 L260.6 1979.4 L264.6 1979.4 L268.6 1979.5 L272.6 1979.5 L276.6 1979.5 L280.6 1979.6 L284.6 1979.6 L288.6 1979.7 L292.6 1979.7 L296.7 1979.7 L300.7 1979.8 L304.7 1979.8 L308.7 1979.9 L312.7 1979.9 L316.7 1980.0 L320.7 1980.0 L324.7 1980.1 L328.7 1980.2 L332.7 1980.2 L336.7 1980.3 L340.7 1980.3 L344.7 1980.4 L348.7 1980.5 L352.7 1980.5 L356.7 1980.6 L360.7 1980.7 L364.7 1980.7 L368.8 1980.8 L372.8 1980.9 L376.8 1980.9 L380.8 1981.0 L384.8 1981.1 L388.8 1981.2 L392.8 1981.3 L396.8 1981.3 L400.8 1981.4 L404.8 1981.5 L408.8 1981.6 L412.8 1981.7 L416.8 1981.8 L420.8 1981.9 L424.8 1982.0 L428.8 1982.1 L432.8 1982.2 L436.8 1982.3 L440.8 1982.4 L444.9 1982.5 L448.9 1982.6 L452.9 1982.7 L456.9 1982.8 L460.9 1982.9 L464.9 1983.0 L468.9 1983.1 L472.9 1983.2 L476.9 1983.3 L480.9 1983.4 L484.9 1983.5 L488.9 1983.7 L492.9 1983.8 L496.9 1983.9 L500.9 1984.0 L504.9 1984.1 L508.9 1984.3 L512.9 1984.4 L516.9 1984.5 L521.0 1984.7 L525.0 1984.8 L529.0 1984.9 L533.0 1985.1 L537.0 1985.2 L541.0 1985.3 L545.0 1985.5 L549.0 1985.6 L553.0 1985.8 L557.0 1985.9" stroke="#000000"/>
<path d="M180.5 1971.3 L184.5 1971.3 L188.6 1971.3 L192.6 1971.3 L196.6 1971.3 L200.6 1971.3 L204.7 1971.3 L208.7 1971.3 L212.7 1971.3 L216.7 1971.4 L220.8 1971.4 L224.8 1971.4 L228.8 1971.4 L232.8 1971.4 L236.9 1971.4 L240.9 1971.5 L244.9 1971.5 L248.9 1971.5 L253.0 1971.5 L257.0 1971.6 L261.0 1971.6 L265.0 1971.6 L269.1 1971.7 L273.1 1971.7 L277.1 1971.7 L281.1 1971.8 L285.2 1971.8 L289.2 1971.8 L293.2 1971.9 L297.2 1971.9 L301.3 1972.0 L305.3 1972.0 L309.3 1972.1 L313.3 1972.1 L317.4 1972.1 L321.4 1972.2 L325.4 1972.3 L329.4 1972.3 L333.5 1972.4 L337.5 1972.4 L341.5 1972.5 L345.5 1972.5 L349.6 1972.6 L353.6 1972.7 L357.6 1972.7 L361.6 1972.8 L365.7 1972.9 L369.7 1972.9 L373.7 1973.0 L377.8 1973.1 L381.8 1973.1 L385.8 1973.2 L389.8 1973.3 L393.9 1973.4 L397.9 1973.4 L401.9 1973.5 L405.9 1973.6 L410.0 1973.7 L414.0 1973.8 L418.0 1973.9 L422.0 1973.9 L426.1 1974.0 L430.1 1974.1 L434.1 1974.2 L438.1 1974.3 L442.2 1974.4 L446.2 1974.5 L450.2 1974.6 L454.2 1974.7 L458.3 1974.8 L462.3 1974.9 L466.3 1975.0 L470.3 1975.1 L474.4 1975.2 L478.4 1975.3 L482.4 1975.4 L486.4 1975.5 L490.5 1975.7 L494.5 1975.8 L498.5 1975.9 L502.5 1976.0 L506.6 1976.1 L510.6 1976.2 L514.6 1976.4 L518.6 1976.5 L522.7 1976.6 L526.7 1976.7 L530.7 1976.9 L534.7 1977.0 L538.8 1977.1 L542.8 1977.2 L546.8 1977.4 L550.8 1977.5 L554.9 1977.7 L558.9 1977.8 L562.9 1977.9 L567.0 1978.1 L571.0 1978.2 L575.0 1978.4 L579.0 1978.5 L583.1 1978.6 L587.1 1978.8 L591.1 1978.9 L595.1 1979.1 L599.2 1979.2 L603.2 1979.4 L607.2 1979.6 L611.2 1979.7 L615.3 1979.9 L619.3 1980.0 L623.3 1980.2 L627.3 1980.3 L631.4 1980.5 L635.4 1980.7 L639.4 1980.8 L643.4 1981.0 L647.5 1981.2 L651.5 1981.4 L655.5 1981.5 L659.5 1981.7 L663.6 1981.9 L667.6 1982.1 L671.6 1982.2 L675.6 1982.4 L679.7 1982.6 L683.7 1982.8 L687.7 1983.0 L691.7 1983.1 L695.8 1983.3 L699.8 1983.5 L703.8 1983.7 L707.8 1983.9 L711.9 1984.1 L715.9 1984.3 L719.9 1984.5 L723.9 1984.7 L728.0 1984.9 L732.0 1985.1 L736.0 1985.3 L740.0 1985.5 L744.1 1985.7 L748.1 1985.9" stroke="#ff0000"/>
<path d="M180.5 1963.7 L184.5 1963.7 L188.5 1963.7 L192.5 1963.7 L196.5 1963.7 L200.5 1963.7 L204.5 1963.7 L208.5 1963.7 L212.5 1963.7 L216.5 1963.8 L220.6 1963.8 L224.6 1963.8 L228.6 1963.8 L232.6 1963.8 L236.6 1963.8 L240.6 1963.9 L244.6 1963.9 L248.6 1963.9 L252.6 1963.9 L256.6 1964.0 L260.6 1964.0 L264.6 1964.0 L268.6 1964.1 L272.6 1964.1 L276.6 1964.1 L280.6 1964.2 L284.6 1964.2 L288.6 1964.2 L292.6 1964.3 L296.7 1964.3 L300.7 1964.4 L304.7 1964.4 L308.7 1964.5 L312.7 1964.5 L316.7 1964.6 L320.7 1964.6 L324.7 1964.7 L328.7 1964.7 L332.7 1964.8 L336.7 1964.8 L340.7 1964.9 L344.7 1964.9 L348.7 1965.0 L352.7 1965.1 L356.7 1965.1 L360.7 1965.2 L364.7 1965.3 L368.7 1965.3 L372.7 1965.4 L376.8 1965.5 L380.8 1965.6 L384.8 1965.6 L388.8 1965.7 L392.8 1965.8 L396.8 1965.9 L400.8 1965.9 L404.8 1966.0 L408.8 1966.1 L412.8 1966.2 L416.8 1966.3 L420.8 1966.4 L424.8 1966.5 L428.8 1966.6 L432.8 1966.6 L436.8 1966.7 L440.8 1966.8 L444.8 1966.9 L448.8 1967.0 L452.9 1967.1 L456.9 1967.2 L460.9 1967.3 L464.9 1967.4 L468.9 1967.5 L472.9 1967.7 L476.9 1967.8 L480.9 1967.9 L484.9 1968.0 L488.9 1968.1 L492.9 1968.2 L496.9 1968.3 L500.9 1968.4 L504.9 1968.6 L508.9 1968.7 L512.9 1968.8 L516.9 1968.9 L520.9 1969.1 L524.9 1969.2 L529.0 1969.3 L533.0 1969.4 L537.0 1969.6 L541.0 1969.7 L545.0 1969.8 L549.0 1970.0 L553.0 1970.1 L557.0 1970.3 L561.0 1970.4 L565.0 1970.5 L569.0 1970.7 L573.0 1970.8 L577.0 1971.0 L581.0 1971.1 L585.0 1971.3 L589.0 1971.4 L593.0 1971.6 L597.0 1971.7 L601.0 1971.9 L605.1 1972.0 L609.1 1972.2 L613.1 1972.4 L617.1 1972.5 L621.1 1972.7 L625.1 1972.8 L629.1 1973.0 L633.1 1973.2 L637.1 1973.3 L641.1 1973.5 L645.1 1973.7 L649.1 1973.9 L653.1 1974.0 L657.1 1974.2 L661.1 1974.4 L665.1 1974.6 L669.1 1974.7 L673.1 1974.9 L677.1 1975.1 L681.2 1975.3 L685.2 1975.5 L689.2 1975.7 L693.2 1975.9 L697.2 1976.0 L701.2 1976.2 L705.2 1976.4 L709.2 1976.6 L713.2 1976.8 L717.2 1977.0 L721.2 1977.2 L725.2 1977.4 L729.2 1977.6 L733.2 1977.8 L737.2 1978.0 L741.2 1978.2 L745.2 1978.4 L749.2 1978.7 L753.2 1978.9 L757.2 1979.1 L761.3 1979.3 L765.3 1979.5 L769.3 1979.7 L773.3 1979.9 L777.3 1980.2 L781.3 1980.4 L785.3 1980.6 L789.3 1980.8 L793.3 1981.1 L797.3 1981.3 L801.3 1981.5 L805.3 1981.8 L809.3 1982.0 L813.3 1982.2 L817.3 1982.5 L821.3 1982.7 L825.3 1982.9 L829.3 1983.2 L833.3 1983.4 L837.4 1983.7 L841.4 1983.9 L845.4 1984.1 L849.4 1984.4 L853.4 1984.6 L857.4 1984.9 L861.4 1985.1 L865.4 1985.4 L869.4 1985.6 L873.4 1985.9" stroke="#0000ff"/>
<path d="M180.5 1450.0 L183.5 1450.0 L186.5 1450.0 L189.6 1450.0 L192.6 1450.1 L195.6 1450.1 L198.6 1450.1 L201.7 1450.1 L204.7 1450.1 L207.7 1450.2 L210.7 1450.2 L213.7 1450.2 L216.8 1450.2 L219.8 1450.3 L222.8 1450.3 L225.8 1450.3 L228.9 1450.4 L231.9 1450.4 L234.9 1450.4 L237.9 1450.5 L241.0 1450.5 L244.0 1450.6 L247.0 1450.6 L250.0 1450.6 L253.0 1450.7 L256.1 1450.7 L259.1 1450.8 L262.1 1450.8 L265.1 1450.8 L268.2 1450.9 L271.2 1450.9 L274.2 1451.0 L277.2 1451.0 L280.2 1451.1 L283.3 1451.2 L286.3 1451.2 L289.3 1451.3 L292.3 1451.3 L295.4 1451.4 L298.4 1451.5 L301.4 1451.5 L304.4 1451.6 L307.4 1451.7 L310.5 1451.8 L313.5 1451.8 L316.5 1451.9 L319.5 1452.0 L322.6 1452.1 L325.6 1452.2 L328.6 1452.3 L331.6 1452.3 L334.7 1452.4 L337.7 1452.5 L340.7 1452.6 L343.7 1452.7 L346.7 1452.8 L349.8 1452.9 L352.8 1453.0 L355.8 1453.1 L358.8 1453.2 L361.9 1453.3 L364.9 1453.4 L367.9 1453.5 L367.9 1958.3 L371.9 1958.3 L375.9 1958.4 L379.9 1958.4 L384.0 1958.5 L388.0 1958.5 L392.0 1958.6 L396.0 1958.6 L400.0 1958.7 L404.0 1958.7 L408.0 1958.8 L412.0 1958.8 L416.1 1958.9 L420.1 1959.0 L424.1 1959.0 L428.1 1959.1 L432.1 1959.1 L436.1 1959.2 L440.1 1959.3 L444.2 1959.3 L448.2 1959.4 L452.2 1959.5 L456.2 1959.5 L460.2 1959.6 L464.2 1959.7 L468.2 1959.8 L472.2 1959.9 L476.3 1959.9 L480.3 1960.0 L484.3 1960.1 L488.3 1960.2 L492.3 1960.3 L496.3 1960.4 L500.3 1960.5 L504.4 1960.6 L508.4 1960.6 L512.4 1960.7 L516.4 1960.8 L520.4 1960.9 L524.4 1961.0 L528.4 1961.1 L532.4 1961.2 L536.5 1961.4 L540.5 1961.5 L544.5 1961.6 L548.5 1961.7 L552.5 1961.8 L556.5 1961.9 L560.5 1962.0 L564.5 1962.2 L568.6 1962.3 L572.6 1962.4 L576.6 1962.5 L580.6 1962.7 L584.6 1962.8 L588.6 1962.9 L592.6 1963.0 L596.7 1963.2 L600.7 1963.3 L604.7 1963.5 L608.7 1963.6 L612.7 1963.7 L616.7 1963.9 L620.7 1964.0 L624.7 1964.2 L628.8 1964.3 L632.8 1964.5 L636.8 1964.6 L640.8 1964.8 L644.8 1965.0 L648.8 1965.1 L652.8 1965.3 L656.9 1965.5 L660.9 1965.6 L664.9 1965.8 L668.9 1966.0 L672.9 1966.1 L676.9 1966.3 L680.9 1966.5 L684.9 1966.7 L689.0 1966.9 L693.0 1967.0 L697.0 1967.2 L701.0 1967.4 L705.0 1967.6 L709.0 1967.8 L713.0 1968.0 L717.1 1968.2 L721.1 1968.4 L725.1 1968.6 L729.1 1968.8 L733.1 1969.0 L737.1 1969.2 L741.1 1969.4 L745.1 1969.7 L749.2 1969.9 L753.2 1970.1 L757.2 1970.3 L761.2 1970.5 L765.2 1970.8 L769.2 1971.0 L773.2 1971.2 L777.3 1971.4 L781.3 1971.7 L785.3 1971.9 L789.3 1972.2 L793.3 1972.4 L797.3 1972.6 L801.3 1972.9 L805.3 1973.1 L809.4 1973.4 L813.4 1973.7 L817.4 1973.9 L821.4 1974.2 L825.4 1974.4 L829.4 1974.7 L833.4 1975.0 L837.4 1975.2 L841.5 1975.5 L845.5 1975.8 L849.5 1976.1 L853.5 1976.3 L857.5 1976.6 L861.5 1976.9 L865.5 1977.2 L869.6 1977.5 L873.6 1977.8 L877.6 1978.1 L881.6 1978.4 L885.6 1978.7 L889.6 1979.0 L893.6 1979.3 L897.6 1979.6 L901.7 1979.9 L905.7 1980.2 L909.7 1980.5 L913.7 1980.8 L917.7 1981.1 L921.7 1981.5 L925.7 1981.8 L929.8 1982.1 L933.8 1982.4 L937.8 1982.8 L941.8 1983.1 L945.8 1983.5 L949.8 1983.8 L953.8 1984.1 L957.8 1984.5 L961.9 1984.8 L965.9 1985.2 L969.9 1985.5 L973.9 1985.9" stroke="#ff00ff"/>
<path d="M180.5 1464.8 L183.5 1464.8 L186.5 1464.8 L189.5 1464.8 L192.5 1464.8 L195.6 1464.7 L198.6 1464.7 L201.6 1464.7 L204.6 1464.7 L207.6 1464.6 L210.6 1464.6 L213.6 1464.6 L216.6 1464.5 L219.6 1464.5 L222.7 1464.4 L225.7 1464.3 L228.7 1464.2 L231.7 1464.2 L234.7 1464.1 L237.7 1464.0 L240.7 1463.9 L243.7 1463.8 L246.7 1463.7 L249.8 1463.6 L252.8 1463.5 L255.8 1463.4 L258.8 1463.3 L261.8 1463.2 L264.8 1463.1 L267.8 1462.9 L270.8 1462.8 L273.8 1462.7 L276.9 1462.5 L279.9 1462.4 L282.9 1462.3 L285.9 1462.1 L288.9 1462.0 L291.9 1461.8 L294.9 1461.7 L297.9 1461.5 L300.9 1461.4 L304.0 1461.2 L307.0 1461.1 L310.0 1460.9 L313.0 1460.7 L316.0 1460.6 L319.0 1460.4 L322.0 1460.2 L325.0 1460.1 L328.0 1459.9 L331.1 1459.7 L334.1 1459.5 L337.1 1459.4 L340.1 1459.2 L343.1 1459.0 L346.1 1458.8 L349.1 1458.6 L352.1 1458.4 L355.1 1458.3 L358.2 1458.1 L361.2 1457.9 L364.2 1457.7 L367.2 1457.5 L370.2 1457.3 L373.2 1457.1 L376.2 1456.9 L379.2 1456.8 L382.2 1456.6 L385.3 1456.4 L388.3 1456.2 L391.3 1456.0 L394.3 1455.8 L397.3 1455.6 L400.3 1455.4 L403.3 1455.2 L406.3 1455.1 L409.3 1454.9 L412.4 1454.7 L415.4 1454.5 L418.4 1454.3 L421.4 1454.1 L424.4 1453.9 L427.4 1453.8 L430.4 1453.6 L433.4 1453.4 L436.4 1453.2 L439.5 1453.0 L442.5 1452.9 L445.5 1452.7 L448.5 1452.5 L451.5 1452.4 L454.5 1452.2 L457.5 1452.0 L460.5 1451.9 L463.5 1451.7 L466.6 1451.5 L469.6 1451.4 L472.6 1451.2 L475.6 1451.1 L478.6 1450.9 L481.6 1450.8 L484.6 1450.6 L487.6 1450.5 L490.6 1450.3 L493.7 1450.2 L496.7 1450.1 L499.7 1450.0 L502.7 1449.8 L505.7 1449.7 L508.7 1449.6 L511.7 1449.5 L514.7 1449.4 L517.7 1449.3 L520.8 1449.2 L523.8 1449.0 L526.8 1448.9 L529.8 1448.8 L532.8 1448.7 L535.8 1448.5 L538.8 1448.4 L541.8 1448.2 L544.8 1448.1 L547.9 1448.0 L550.9 1447.8 L553.9 1447.7 L556.9 1447.6 L559.9 1447.5 L562.9 1447.4 L565.9 1447.4 L568.9 1447.3 L571.9 1447.3 L575.0 1447.3 L578.0 1447.4 L581.0 1447.5 L584.0 1447.6 L587.0 1447.8 L590.0 1448.0 L593.0 1448.2 L596.0 1448.4 L599.0 1448.7 L602.1 1448.9 L605.1 1449.2 L608.1 1449.4 L611.1 1449.7 L614.1 1450.0 L617.1 1450.3 L620.1 1450.7 L623.1 1451.0 L626.1 1451.5 L629.2 1451.9 L632.2 1452.3 L635.2 1452.8 L638.2 1453.3 L641.2 1453.8 L641.2 1958.3 L645.2 1958.5 L649.2 1958.6 L653.2 1958.8 L657.2 1958.9 L661.2 1959.1 L665.2 1959.2 L669.2 1959.4 L673.2 1959.6 L677.3 1959.7 L681.3 1959.9 L685.3 1960.1 L689.3 1960.3 L693.3 1960.4 L697.3 1960.6 L701.3 1960.8 L705.3 1961.0 L709.3 1961.2 L713.3 1961.4 L717.3 1961.6 L721.3 1961.7 L725.3 1961.9 L729.3 1962.1 L733.3 1962.3 L737.3 1962.5 L741.3 1962.7 L745.4 1962.9 L749.4 1963.2 L753.4 1963.4 L757.4 1963.6 L761.4 1963.8 L765.4 1964.0 L769.4 1964.2 L773.4 1964.4 L777.4 1964.7 L781.4 1964.9 L785.4 1965.1 L789.4 1965.4 L793.4 1965.6 L797.4 1965.8 L801.4 1966.1 L805.4 1966.3 L809.4 1966.5 L813.5 1966.8 L817.5 1967.0 L821.5 1967.3 L825.5 1967.5 L829.5 1967.8 L833.5 1968.0 L837.5 1968.3 L841.5 1968.5 L845.5 1968.8 L849.5 1969.1 L853.5 1969.3 L857.5 1969.6 L861.5 1969.9 L865.5 1970.2 L869.5 1970.4 L873.5 1970.7 L877.5 1971.0 L881.5 1971.3 L885.6 1971.6 L889.6 1971.9 L893.6 1972.1 L897.6 1972.4 L901.6 1972.7 L905.6 1973.0 L909.6 1973.3 L913.6 1973.6 L917.6 1973.9 L921.6 1974.3 L925.6 1974.6 L929.6 1974.9 L933.6 1975.2 L937.6 1975.5 L941.6 1975.8 L945.6 1976.2 L949.6 1976.5 L953.7 1976.8 L957.7 1977.2 L961.7 1977.5 L965.7 1977.8 L969.7 1978.2 L973.7 1978.5 L977.7 1978.8 L981.7 1979.2 L985.7 1979.5 L989.7 1979.9 L993.7 1980.3 L997.7 1980.6 L1001.7 1981.0 L1005.7 1981.3 L1009.7 1981.7 L1013.7 1982.1 L1017.7 1982.4 L1021.8 1982.8 L1025.8 1983.2 L1029.8 1983.6 L1033.8 1984.0 L1037.8 1984.3 L1041.8 1984.7 L1045.8 1985.1 L1049.8 1985.5 L1053.8 1985.9" stroke="#008000"/>
<path d="M180.5 1545.8 L183.5 1545.8 L186.5 1545.7 L189.5 1545.7 L192.5 1545.6 L195.5 1545.5 L198.5 1545.4 L201.5 1545.3 L204.5 1545.2 L207.5 1545.1 L210.5 1545.0 L213.5 1544.9 L216.5 1544.7 L219.5 1544.5 L222.5 1544.3 L225.5 1544.0 L228.5 1543.8 L231.5 1543.6 L234.5 1543.3 L237.5 1543.1 L240.5 1542.8 L243.5 1542.5 L246.5 1542.2 L249.5 1541.8 L252.5 1541.5 L255.5 1541.2 L258.5 1540.8 L261.5 1540.4 L264.5 1540.1 L267.5 1539.7 L270.5 1539.3 L273.5 1538.8 L276.5 1538.4 L279.5 1538.0 L282.5 1537.5 L285.5 1537.0 L288.5 1536.6 L291.5 1536.1 L294.5 1535.6 L297.5 1535.1 L300.5 1534.5 L303.5 1534.0 L306.5 1533.5 L309.5 1532.9 L312.5 1532.3 L315.5 1531.8 L318.5 1531.2 L321.5 1530.6 L324.5 1530.0 L327.5 1529.4 L330.5 1528.8 L333.5 1528.1 L336.5 1527.5 L339.5 1526.8 L342.5 1526.2 L345.5 1525.5 L348.5 1524.8 L351.5 1524.1 L354.5 1523.4 L357.5 1522.7 L360.5 1522.0 L363.5 1521.3 L366.5 1520.5 L369.5 1519.8 L372.5 1519.0 L375.5 1518.3 L378.5 1517.5 L381.5 1516.7 L384.5 1515.9 L387.5 1515.1 L390.5 1514.3 L393.5 1513.5 L396.5 1512.7 L399.5 1511.9 L402.5 1511.1 L405.5 1510.2 L408.5 1509.4 L411.5 1508.5 L414.5 1507.7 L417.5 1506.8 L420.5 1505.9 L423.5 1505.0 L426.5 1504.1 L429.5 1503.2 L432.5 1502.3 L435.5 1501.4 L438.5 1500.5 L441.5 1499.5 L444.5 1498.6 L447.5 1497.7 L450.5 1496.8 L453.5 1495.9 L456.5 1495.0 L459.5 1494.2 L462.5 1493.3 L465.5 1492.5 L468.5 1491.7 L471.5 1490.9 L474.5 1490.1 L477.5 1489.3 L480.5 1488.6 L483.5 1487.9 L486.5 1487.2 L489.5 1486.5 L492.6 1485.8 L495.6 1485.2 L498.6 1484.5 L501.6 1483.9 L504.6 1483.2 L507.6 1482.6 L510.6 1482.0 L513.6 1481.4 L516.6 1480.8 L519.6 1480.2 L522.6 1479.6 L525.6 1479.0 L528.6 1478.4 L531.6 1477.8 L534.6 1477.3 L537.6 1476.7 L540.6 1476.1 L543.6 1475.6 L546.6 1475.0 L549.6 1474.5 L552.6 1473.9 L555.6 1473.4 L558.6 1472.8 L561.6 1472.3 L564.6 1471.7 L567.6 1471.2 L570.6 1470.7 L573.6 1470.1 L576.6 1469.6 L579.6 1469.1 L582.6 1468.6 L585.6 1468.1 L588.6 1467.5 L591.6 1467.0 L594.6 1466.5 L597.6 1466.0 L600.6 1465.5 L603.6 1465.1 L606.6 1464.6 L609.6 1464.1 L612.6 1463.6 L615.6 1463.1 L618.6 1462.7 L621.6 1462.2 L624.6 1461.7 L627.6 1461.3 L630.6 1460.8 L633.6 1460.4 L636.6 1459.9 L639.6 1459.5 L642.6 1459.0 L645.6 1458.6 L648.6 1458.2 L651.6 1457.7 L654.6 1457.3 L657.6 1456.9 L660.6 1456.5 L663.6 1456.0 L666.6 1455.6 L669.6 1455.2 L672.6 1454.8 L675.6 1454.4 L678.6 1454.0 L681.6 1453.7 L684.6 1453.3 L687.6 1452.9 L690.6 1452.6 L693.6 1452.2 L696.6 1451.9 L699.6 1451.5 L702.6 1451.2 L705.6 1450.9 L708.6 1450.5 L711.6 1450.1 L714.6 1449.7 L717.6 1449.3 L720.6 1449.0 L723.6 1448.6 L726.6 1448.3 L729.6 1448.0 L732.6 1447.8 L735.6 1447.6 L738.6 1447.4 L741.6 1447.3 L744.6 1447.3 L747.6 1447.3 L750.6 1447.4 L753.6 1447.4 L756.6 1447.5 L759.6 1447.7 L762.6 1447.8 L765.6 1448.0 L768.6 1448.2 L771.6 1448.4 L774.6 1448.6 L777.6 1448.8 L780.6 1449.2 L783.6 1449.7 L786.6 1450.3 L789.6 1450.9 L792.6 1451.6 L795.6 1452.3 L798.6 1453.2 L801.6 1454.1 L801.6 1958.3 L805.6 1958.5 L809.6 1958.8 L813.6 1959.0 L817.6 1959.3 L821.6 1959.5 L825.6 1959.8 L829.6 1960.1 L833.6 1960.3 L837.7 1960.6 L841.7 1960.9 L845.7 1961.1 L849.7 1961.4 L853.7 1961.7 L857.7 1961.9 L861.7 1962.2 L865.7 1962.5 L869.7 1962.8 L873.7 1963.1 L877.7 1963.4 L881.7 1963.6 L885.7 1963.9 L889.7 1964.2 L893.7 1964.5 L897.8 1964.8 L901.8 1965.1 L905.8 1965.4 L909.8 1965.7 L913.8 1966.1 L917.8 1966.4 L921.8 1966.7 L925.8 1967.0 L929.8 1967.3 L933.8 1967.7 L937.8 1968.0 L941.8 1968.3 L945.8 1968.6 L949.8 1969.0 L953.8 1969.3 L957.8 1969.6 L961.8 1970.0 L965.9 1970.3 L969.9 1970.7 L973.9 1971.0 L977.9 1971.4 L981.9 1971.7 L985.9 1972.1 L989.9 1972.5 L993.9 1972.8 L997.9 1973.2 L1001.9 1973.6 L1005.9 1973.9 L1009.9 1974.3 L1013.9 1974.7 L1017.9 1975.1 L1021.9 1975.4 L1026.0 1975.8 L1030.0 1976.2 L1034.0 1976.6 L1038.0 1977.0 L1042.0 1977.4 L1046.0 1977.8 L1050.0 1978.2 L1054.0 1978.6 L1058.0 1979.0 L1062.0 1979.4 L1066.0 1979.8 L1070.0 1980.2 L1074.0 1980.7 L1078.0 1981.1 L1082.0 1981.5 L1086.0 1981.9 L1090.0 1982.4 L1094.1 1982.8 L1098.1 1983.2 L1102.1 1983.7 L1106.1 1984.1 L1110.1 1984.6 L1114.1 1985.0 L1118.1 1985.4 L1122.1 1985.9" stroke="#000080"/>
<path d="M180.5 1766.5 L183.5 1766.5 L186.5 1766.5 L189.5 1766.5 L192.5 1766.5 L195.5 1766.5 L198.6 1766.5 L201.6 1766.5 L204.6 1766.4 L207.6 1766.4 L210.6 1766.4 L213.6 1766.3 L216.6 1766.1 L219.6 1766.0 L222.6 1765.8 L225.6 1765.6 L228.7 1765.4 L231.7 1765.2 L234.7 1765.0 L237.7 1764.8 L240.7 1764.5 L243.7 1764.2 L246.7 1763.9 L249.7 1763.6 L252.7 1763.3 L255.7 1763.0 L258.8 1762.6 L261.8 1762.3 L264.8 1761.9 L267.8 1761.5 L270.8 1761.1 L273.8 1760.6 L276.8 1760.2 L279.8 1759.7 L282.8 1759.2 L285.8 1758.7 L288.9 1758.2 L291.9 1757.7 L294.9 1757.1 L297.9 1756.6 L300.9 1756.0 L303.9 1755.4 L306.9 1754.8 L309.9 1754.2 L312.9 1753.5 L315.9 1752.9 L319.0 1752.2 L322.0 1751.5 L325.0 1750.8 L328.0 1750.1 L331.0 1749.3 L334.0 1748.6 L337.0 1747.8 L340.0 1747.0 L343.0 1746.2 L346.0 1745.4 L349.1 1744.5 L352.1 1743.7 L355.1 1742.8 L358.1 1741.9 L361.1 1741.0 L364.1 1740.1 L367.1 1739.2 L370.1 1738.2 L373.1 1737.2 L376.1 1736.2 L379.2 1735.2 L382.2 1734.2 L385.2 1733.2 L388.2 1732.1 L391.2 1731.1 L394.2 1730.0 L397.2 1728.9 L400.2 1727.8 L403.2 1726.6 L406.2 1725.5 L409.3 1724.3 L412.3 1723.2 L415.3 1722.0 L418.3 1720.7 L421.3 1719.5 L424.3 1718.3 L427.3 1717.0 L430.3 1715.7 L433.3 1714.4 L436.3 1713.1 L439.3 1711.8 L442.4 1710.4 L445.4 1709.1 L448.4 1707.7 L451.4 1706.3 L454.4 1704.9 L457.4 1703.5 L460.4 1702.0 L463.4 1700.6 L466.4 1699.1 L469.4 1697.6 L472.5 1696.1 L475.5 1694.6 L478.5 1693.1 L481.5 1691.5 L484.5 1689.9 L487.5 1688.4 L490.5 1686.8 L493.5 1685.2 L496.5 1683.6 L499.5 1681.9 L502.6 1680.3 L505.6 1678.6 L508.6 1676.9 L511.6 1675.3 L514.6 1673.6 L517.6 1671.9 L520.6 1670.1 L523.6 1668.4 L526.6 1666.7 L529.6 1664.9 L532.7 1663.2 L535.7 1661.4 L538.7 1659.6 L541.7 1657.8 L544.7 1655.9 L547.7 1654.1 L550.7 1652.2 L553.7 1650.3 L556.7 1648.4 L559.7 1646.5 L562.8 1644.5 L565.8 1642.6 L568.8 1640.6 L571.8 1638.5 L574.8 1636.4 L577.8 1634.3 L580.8 1632.2 L583.8 1630.1 L586.8 1627.9 L589.8 1625.7 L592.9 1623.5 L595.9 1621.3 L598.9 1619.0 L601.9 1616.7 L604.9 1614.4 L607.9 1612.0 L610.9 1609.6 L613.9 1607.3 L616.9 1604.9 L619.9 1602.4 L623.0 1600.0 L626.0 1597.6 L629.0 1595.1 L632.0 1592.6 L635.0 1590.1 L638.0 1587.6 L641.0 1585.0 L644.0 1582.5 L647.0 1579.9 L650.0 1577.4 L653.1 1574.8 L656.1 1572.2 L659.1 1569.6 L662.1 1567.0 L665.1 1564.4 L668.1 1561.8 L671.1 1559.2 L674.1 1556.5 L677.1 1553.9 L680.1 1551.2 L683.2 1548.5 L686.2 1545.9 L689.2 1543.2 L692.2 1540.6 L695.2 1538.0 L698.2 1535.5 L701.2 1533.0 L704.2 1530.6 L707.2 1528.1 L710.2 1525.8 L713.2 1523.4 L716.3 1521.0 L719.3 1518.7 L722.3 1516.3 L725.3 1513.9 L728.3 1511.6 L731.3 1509.2 L734.3 1506.7 L737.3 1504.2 L740.3 1501.7 L743.3 1499.0 L746.4 1496.2 L749.4 1493.6 L752.4 1491.2 L755.4 1489.1 L758.4 1487.1 L761.4 1485.3 L764.4 1483.8 L767.4 1482.4 L770.4 1481.2 L773.4 1480.1 L776.5 1479.1 L779.5 1478.1 L782.5 1477.2 L785.5 1476.3 L788.5 1475.4 L791.5 1474.6 L794.5 1473.7 L797.5 1472.8 L800.5 1471.9 L803.5 1470.9 L806.6 1469.9 L809.6 1468.9 L812.6 1467.9 L815.6 1467.0 L818.6 1466.0 L821.6 1465.0 L824.6 1464.0 L827.6 1463.1 L830.6 1462.1 L833.6 1461.2 L836.7 1460.4 L839.7 1459.5 L842.7 1458.7 L845.7 1457.9 L848.7 1457.1 L851.7 1456.3 L854.7 1455.6 L857.7 1454.8 L860.7 1454.1 L863.7 1453.4 L866.8 1452.7 L869.8 1452.1 L872.8 1451.4 L875.8 1450.7 L878.8 1450.0 L881.8 1449.3 L884.8 1448.8 L887.8 1448.4 L890.8 1448.1 L893.8 1447.7 L896.9 1447.5 L899.9 1447.2 L902.9 1447.0 L905.9 1446.9 L908.9 1446.9 L911.9 1447.1 L914.9 1447.4 L917.9 1447.9 L920.9 1448.4 L923.9 1449.0 L927.0 1449.6 L930.0 1450.3 L933.0 1451.1 L936.0 1451.9 L939.0 1452.9 L942.0 1453.9 L942.0 1958.3 L946.0 1958.7 L950.1 1959.0 L954.1 1959.4 L958.1 1959.8 L962.2 1960.2 L966.2 1960.6 L970.3 1960.9 L974.3 1961.3 L978.3 1961.7 L982.4 1962.1 L986.4 1962.5 L990.4 1962.9 L994.5 1963.3 L998.5 1963.7 L1002.5 1964.2 L1006.6 1964.6 L1010.6 1965.0 L1014.7 1965.4 L1018.7 1965.8 L1022.7 1966.3 L1026.8 1966.7 L1030.8 1967.1 L1034.8 1967.5 L1038.9 1968.0 L1042.9 1968.4 L1047.0 1968.9 L1051.0 1969.3 L1055.0 1969.8 L1059.1 1970.2 L1063.1 1970.7 L1067.1 1971.1 L1071.2 1971.6 L1075.2 1972.1 L1079.2 1972.5 L1083.3 1973.0 L1087.3 1973.5 L1091.4 1974.0 L1095.4 1974.5 L1099.4 1974.9 L1103.5 1975.4 L1107.5 1975.9 L1111.5 1976.4 L1115.6 1976.9 L1119.6 1977.4 L1123.7 1977.9 L1127.7 1978.4 L1131.7 1978.9 L1135.8 1979.5 L1139.8 1980.0 L1143.8 1980.5 L1147.9 1981.0 L1151.9 1981.6 L1155.9 1982.1 L1160.0 1982.6 L1164.0 1983.2 L1168.1 1983.7 L1172.1 1984.2 L1176.1 1984.8 L1180.2 1985.3 L1184.2 1985.9" stroke="#8000ff"/>
</g>
<path d="M557.0 2066.4 V1985.6" stroke="#808080" stroke-width="6.8" stroke-linecap="round" stroke-dasharray="0 11.47" fill="none"/>
<path d="M748.1 2066.4 V1985.6" stroke="#808080" stroke-width="6.8" stroke-linecap="round" stroke-dasharray="0 11.47" fill="none"/>
<path d="M873.4 2066.4 V1985.6" stroke="#808080" stroke-width="6.8" stroke-linecap="round" stroke-dasharray="0 11.47" fill="none"/>
<path d="M973.9 2066.4 V1985.6" stroke="#808080" stroke-width="6.8" stroke-linecap="round" stroke-dasharray="0 11.47" fill="none"/>
<path d="M1053.8 2066.4 V1985.6" stroke="#808080" stroke-width="6.8" stroke-linecap="round" stroke-dasharray="0 11.47" fill="none"/>
<path d="M1122.1 2066.4 V1985.6" stroke="#808080" stroke-width="6.8" stroke-linecap="round" stroke-dasharray="0 11.47" fill="none"/>
<path d="M1184.2 2066.4 V1985.6" stroke="#808080" stroke-width="6.8" stroke-linecap="round" stroke-dasharray="0 11.47" fill="none"/>
<text x="799.9" y="1298.7" font-family='"Liberation Serif", "DejaVu Serif", serif' font-weight="bold" font-size="41" fill="#000" xml:space="preserve">GM1-SU6:   npe<tspan font-weight="normal">μ</tspan>+hyperons</text>
<text x="448.7" y="1639.8" text-anchor="start" font-family='"Liberation Serif", "DejaVu Serif", serif' font-weight="bold" font-size="40" fill="#000" >B</text>
<text x="1053.0" y="1950.8" text-anchor="start" font-family='"Liberation Serif", "DejaVu Serif", serif' font-weight="bold" font-size="40" fill="#000" >A</text>
<text x="451.8" y="2028.5" font-family='"Liberation Serif", "DejaVu Serif", serif' font-weight="bold" font-style="italic" font-size="40" fill="#000">R<tspan font-size="26" dy="16.2">crit</tspan></text>
<path d="M476.0 1644.9 L490.7 1653.2" stroke="#c0c0c0" stroke-width="4.6" stroke-linecap="round" fill="none"/><path d="M508.9 1663.5 L487.5 1658.9 L493.9 1647.6Z" fill="#c0c0c0" stroke="#c0c0c0" stroke-width="3.2" stroke-linejoin="round"/>
<text x="720.8" y="2301.5" text-anchor="middle" font-family='"Liberation Serif", "DejaVu Serif", serif' font-size="67" fill="#000"><tspan font-size="74.2">(</tspan>c<tspan font-size="74.2">)</tspan></text>
<rect x="1951.2" y="1222.5" width="1147.50" height="843.80" fill="none" stroke="#000" stroke-width="6.6" stroke-linejoin="round"/>
<path d="M2008.58 2064.3 v-6.199999999999999 M2008.58 1224.5 v6.199999999999999 M2065.95 2064.3 v-14.600000000000001 M2065.95 1224.5 v14.600000000000001 M2123.32 2064.3 v-6.199999999999999 M2123.32 1224.5 v6.199999999999999 M2180.70 2064.3 v-14.600000000000001 M2180.70 1224.5 v14.600000000000001 M2238.07 2064.3 v-6.199999999999999 M2238.07 1224.5 v6.199999999999999 M2295.45 2064.3 v-14.600000000000001 M2295.45 1224.5 v14.600000000000001 M2352.82 2064.3 v-6.199999999999999 M2352.82 1224.5 v6.199999999999999 M2410.20 2064.3 v-14.600000000000001 M2410.20 1224.5 v14.600000000000001 M2467.57 2064.3 v-6.199999999999999 M2467.57 1224.5 v6.199999999999999 M2524.95 2064.3 v-14.600000000000001 M2524.95 1224.5 v14.600000000000001 M2582.32 2064.3 v-6.199999999999999 M2582.32 1224.5 v6.199999999999999 M2639.70 2064.3 v-14.600000000000001 M2639.70 1224.5 v14.600000000000001 M2697.07 2064.3 v-6.199999999999999 M2697.07 1224.5 v6.199999999999999 M2754.45 2064.3 v-14.600000000000001 M2754.45 1224.5 v14.600000000000001 M2811.82 2064.3 v-6.199999999999999 M2811.82 1224.5 v6.199999999999999 M2869.20 2064.3 v-14.600000000000001 M2869.20 1224.5 v14.600000000000001 M2926.57 2064.3 v-6.199999999999999 M2926.57 1224.5 v6.199999999999999 M2983.95 2064.3 v-14.600000000000001 M2983.95 1224.5 v14.600000000000001 M3041.32 2064.3 v-6.199999999999999 M3041.32 1224.5 v6.199999999999999 M1953.2 1925.67 h14.600000000000001 M3096.7 1925.67 h-14.600000000000001 M1953.2 1785.03 h14.600000000000001 M3096.7 1785.03 h-14.600000000000001 M1953.2 1644.40 h14.600000000000001 M3096.7 1644.40 h-14.600000000000001 M1953.2 1503.77 h14.600000000000001 M3096.7 1503.77 h-14.600000000000001 M1953.2 1363.13 h14.600000000000001 M3096.7 1363.13 h-14.600000000000001 M1953.2 2038.17 h6.199999999999999 M3096.7 2038.17 h-6.199999999999999 M1953.2 2010.05 h6.199999999999999 M3096.7 2010.05 h-6.199999999999999 M1953.2 1981.92 h6.199999999999999 M3096.7 1981.92 h-6.199999999999999 M1953.2 1953.79 h6.199999999999999 M3096.7 1953.79 h-6.199999999999999 M1953.2 1897.54 h6.199999999999999 M3096.7 1897.54 h-6.199999999999999 M1953.2 1869.41 h6.199999999999999 M3096.7 1869.41 h-6.199999999999999 M1953.2 1841.29 h6.199999999999999 M3096.7 1841.29 h-6.199999999999999 M1953.2 1813.16 h6.199999999999999 M3096.7 1813.16 h-6.199999999999999 M1953.2 1756.91 h6.199999999999999 M3096.7 1756.91 h-6.199999999999999 M1953.2 1728.78 h6.199999999999999 M3096.7 1728.78 h-6.199999999999999 M1953.2 1700.65 h6.199999999999999 M3096.7 1700.65 h-6.199999999999999 M1953.2 1672.53 h6.199999999999999 M3096.7 1672.53 h-6.199999999999999 M1953.2 1616.27 h6.199999999999999 M3096.7 1616.27 h-6.199999999999999 M1953.2 1588.15 h6.199999999999999 M3096.7 1588.15 h-6.199999999999999 M1953.2 1560.02 h6.199999999999999 M3096.7 1560.02 h-6.199999999999999 M1953.2 1531.89 h6.199999999999999 M3096.7 1531.89 h-6.199999999999999 M1953.2 1475.64 h6.199999999999999 M3096.7 1475.64 h-6.199999999999999 M1953.2 1447.51 h6.199999999999999 M3096.7 1447.51 h-6.199999999999999 M1953.2 1419.39 h6.199999999999999 M3096.7 1419.39 h-6.199999999999999 M1953.2 1391.26 h6.199999999999999 M3096.7 1391.26 h-6.199999999999999 M1953.2 1335.01 h6.199999999999999 M3096.7 1335.01 h-6.199999999999999 M1953.2 1306.88 h6.199999999999999 M3096.7 1306.88 h-6.199999999999999 M1953.2 1278.75 h6.199999999999999 M3096.7 1278.75 h-6.199999999999999 M1953.2 1250.63 h6.199999999999999 M3096.7 1250.63 h-6.199999999999999" fill="none" stroke="#000" stroke-width="6.8" stroke-linecap="round"/>
<g font-family='"Liberation Serif", "DejaVu Serif", serif' font-weight="bold" font-size="42.3" fill="#000">
<g text-anchor="middle">
<text x="1951.2" y="2117.5">0</text>
<text x="2065.9" y="2117.5">1</text>
<text x="2180.7" y="2117.5">2</text>
<text x="2295.4" y="2117.5">3</text>
<text x="2410.2" y="2117.5">4</text>
<text x="2524.9" y="2117.5">5</text>
<text x="2639.7" y="2117.5">6</text>
<text x="2754.4" y="2117.5">7</text>
<text x="2869.2" y="2117.5">8</text>
<text x="2983.9" y="2117.5">9</text>
<text x="3098.7" y="2117.5">10</text>
</g><g text-anchor="end">
<text x="1932.4" y="2077.9">8</text>
<text x="1932.4" y="1937.3">10</text>
<text x="1932.4" y="1796.6">12</text>
<text x="1932.4" y="1656.0">14</text>
<text x="1932.4" y="1515.4">16</text>
<text x="1932.4" y="1374.7">18</text>
<text x="1932.4" y="1234.1">20</text>
</g></g>
<text transform="translate(1840.2,1912.0) rotate(-90)" font-family='"Liberation Serif", "DejaVu Serif", serif' font-weight="bold" font-size="44" fill="#000" xml:space="preserve"><tspan font-style="italic">Q</tspan> (10<tspan dx="3" dy="-23.1">26</tspan><tspan dy="23.1"> T</tspan><tspan dx="1" dy="-23.1">6</tspan><tspan dx="-22" dy="39.2">9</tspan><tspan dx="2" dy="-16.1" font-size="45.6"> erg cm</tspan><tspan dx="0.5" dy="-23.1">-3</tspan><tspan dy="23.1" font-size="45.6">s</tspan><tspan dy="-23.1">-1</tspan><tspan dx="1.5" dy="23.1" font-size="45.6">)</tspan></text>
<text x="2523.8" y="2187.4" text-anchor="middle" font-family='"Liberation Serif", "DejaVu Serif", serif' font-weight="bold" font-size="41.5" fill="#000"><tspan font-style="italic">R</tspan>(km)</text>
<g clip-path="url(#cd)" fill="none" stroke-width="6.8" stroke-linecap="round" stroke-linejoin="miter">
<path d="M1951.2 1978.7 L1955.2 1978.7 L1959.2 1978.7 L1963.2 1978.7 L1967.2 1978.7 L1971.2 1978.7 L1975.2 1978.7 L1979.2 1978.7 L1983.2 1978.8 L1987.2 1978.8 L1991.2 1978.8 L1995.2 1978.8 L1999.2 1978.8 L2003.2 1978.8 L2007.2 1978.9 L2011.2 1978.9 L2015.3 1978.9 L2019.3 1978.9 L2023.3 1979.0 L2027.3 1979.0 L2031.3 1979.0 L2035.3 1979.1 L2039.3 1979.1 L2043.3 1979.1 L2047.3 1979.2 L2051.3 1979.2 L2055.3 1979.2 L2059.3 1979.3 L2063.3 1979.3 L2067.3 1979.4 L2071.3 1979.4 L2075.3 1979.5 L2079.3 1979.5 L2083.3 1979.6 L2087.3 1979.6 L2091.3 1979.7 L2095.3 1979.7 L2099.3 1979.8 L2103.3 1979.9 L2107.3 1979.9 L2111.3 1980.0 L2115.3 1980.1 L2119.3 1980.1 L2123.3 1980.2 L2127.3 1980.3 L2131.3 1980.3 L2135.3 1980.4 L2139.3 1980.5 L2143.4 1980.6 L2147.4 1980.6 L2151.4 1980.7 L2155.4 1980.8 L2159.4 1980.9 L2163.4 1981.0 L2167.4 1981.0 L2171.4 1981.1 L2175.4 1981.2 L2179.4 1981.3 L2183.4 1981.4 L2187.4 1981.5 L2191.4 1981.6 L2195.4 1981.7 L2199.4 1981.8 L2203.4 1981.9 L2207.4 1982.0 L2211.4 1982.1 L2215.4 1982.2 L2219.4 1982.3 L2223.4 1982.4 L2227.4 1982.5 L2231.4 1982.6 L2235.4 1982.8 L2239.4 1982.9 L2243.4 1983.0 L2247.4 1983.1 L2251.4 1983.2 L2255.4 1983.3 L2259.4 1983.5 L2263.4 1983.6 L2267.5 1983.7 L2271.5 1983.8 L2275.5 1984.0 L2279.5 1984.1 L2283.5 1984.2 L2287.5 1984.4 L2291.5 1984.5 L2295.5 1984.6 L2299.5 1984.8 L2303.5 1984.9 L2307.5 1985.1 L2311.5 1985.2 L2315.5 1985.4 L2319.5 1985.5 L2323.5 1985.6 L2327.5 1985.8" stroke="#000000"/>
<path d="M1951.2 1970.9 L1955.2 1970.9 L1959.2 1970.9 L1963.3 1970.9 L1967.3 1970.9 L1971.3 1970.9 L1975.3 1970.9 L1979.4 1970.9 L1983.4 1970.9 L1987.4 1971.0 L1991.4 1971.0 L1995.4 1971.0 L1999.5 1971.0 L2003.5 1971.0 L2007.5 1971.0 L2011.5 1971.1 L2015.6 1971.1 L2019.6 1971.1 L2023.6 1971.1 L2027.6 1971.2 L2031.7 1971.2 L2035.7 1971.2 L2039.7 1971.3 L2043.7 1971.3 L2047.7 1971.3 L2051.8 1971.4 L2055.8 1971.4 L2059.8 1971.4 L2063.8 1971.5 L2067.9 1971.5 L2071.9 1971.6 L2075.9 1971.6 L2079.9 1971.7 L2083.9 1971.7 L2088.0 1971.8 L2092.0 1971.8 L2096.0 1971.9 L2100.0 1971.9 L2104.1 1972.0 L2108.1 1972.0 L2112.1 1972.1 L2116.1 1972.2 L2120.2 1972.2 L2124.2 1972.3 L2128.2 1972.4 L2132.2 1972.4 L2136.2 1972.5 L2140.3 1972.6 L2144.3 1972.6 L2148.3 1972.7 L2152.3 1972.8 L2156.4 1972.8 L2160.4 1972.9 L2164.4 1973.0 L2168.4 1973.1 L2172.4 1973.2 L2176.5 1973.3 L2180.5 1973.3 L2184.5 1973.4 L2188.5 1973.5 L2192.6 1973.6 L2196.6 1973.7 L2200.6 1973.8 L2204.6 1973.9 L2208.7 1974.0 L2212.7 1974.1 L2216.7 1974.2 L2220.7 1974.3 L2224.7 1974.4 L2228.8 1974.5 L2232.8 1974.6 L2236.8 1974.7 L2240.8 1974.8 L2244.9 1974.9 L2248.9 1975.0 L2252.9 1975.1 L2256.9 1975.2 L2260.9 1975.3 L2265.0 1975.5 L2269.0 1975.6 L2273.0 1975.7 L2277.0 1975.8 L2281.1 1975.9 L2285.1 1976.1 L2289.1 1976.2 L2293.1 1976.3 L2297.2 1976.4 L2301.2 1976.6 L2305.2 1976.7 L2309.2 1976.8 L2313.2 1977.0 L2317.3 1977.1 L2321.3 1977.2 L2325.3 1977.4 L2329.3 1977.5 L2333.4 1977.7 L2337.4 1977.8 L2341.4 1978.0 L2345.4 1978.1 L2349.4 1978.2 L2353.5 1978.4 L2357.5 1978.5 L2361.5 1978.7 L2365.5 1978.9 L2369.6 1979.0 L2373.6 1979.2 L2377.6 1979.3 L2381.6 1979.5 L2385.7 1979.6 L2389.7 1979.8 L2393.7 1980.0 L2397.7 1980.1 L2401.7 1980.3 L2405.8 1980.5 L2409.8 1980.6 L2413.8 1980.8 L2417.8 1981.0 L2421.9 1981.2 L2425.9 1981.3 L2429.9 1981.5 L2433.9 1981.7 L2437.9 1981.9 L2442.0 1982.1 L2446.0 1982.2 L2450.0 1982.4 L2454.0 1982.6 L2458.1 1982.8 L2462.1 1983.0 L2466.1 1983.2 L2470.1 1983.4 L2474.2 1983.6 L2478.2 1983.8 L2482.2 1984.0 L2486.2 1984.2 L2490.2 1984.4 L2494.3 1984.6 L2498.3 1984.8 L2502.3 1985.0 L2506.3 1985.2 L2510.4 1985.4 L2514.4 1985.6 L2518.4 1985.8" stroke="#ff0000"/>
<path d="M1951.2 1963.3 L1955.2 1963.3 L1959.2 1963.3 L1963.2 1963.3 L1967.2 1963.3 L1971.2 1963.3 L1975.2 1963.3 L1979.2 1963.3 L1983.2 1963.3 L1987.2 1963.4 L1991.2 1963.4 L1995.2 1963.4 L1999.2 1963.4 L2003.3 1963.4 L2007.3 1963.4 L2011.3 1963.5 L2015.3 1963.5 L2019.3 1963.5 L2023.3 1963.5 L2027.3 1963.6 L2031.3 1963.6 L2035.3 1963.6 L2039.3 1963.7 L2043.3 1963.7 L2047.3 1963.7 L2051.3 1963.8 L2055.3 1963.8 L2059.3 1963.8 L2063.3 1963.9 L2067.3 1963.9 L2071.3 1964.0 L2075.3 1964.0 L2079.3 1964.1 L2083.3 1964.1 L2087.3 1964.2 L2091.3 1964.2 L2095.3 1964.3 L2099.3 1964.3 L2103.4 1964.4 L2107.4 1964.4 L2111.4 1964.5 L2115.4 1964.6 L2119.4 1964.6 L2123.4 1964.7 L2127.4 1964.8 L2131.4 1964.8 L2135.4 1964.9 L2139.4 1965.0 L2143.4 1965.0 L2147.4 1965.1 L2151.4 1965.2 L2155.4 1965.3 L2159.4 1965.3 L2163.4 1965.4 L2167.4 1965.5 L2171.4 1965.6 L2175.4 1965.7 L2179.4 1965.7 L2183.4 1965.8 L2187.4 1965.9 L2191.4 1966.0 L2195.4 1966.1 L2199.5 1966.2 L2203.5 1966.3 L2207.5 1966.4 L2211.5 1966.5 L2215.5 1966.6 L2219.5 1966.7 L2223.5 1966.8 L2227.5 1966.9 L2231.5 1967.0 L2235.5 1967.1 L2239.5 1967.2 L2243.5 1967.3 L2247.5 1967.4 L2251.5 1967.5 L2255.5 1967.6 L2259.5 1967.8 L2263.5 1967.9 L2267.5 1968.0 L2271.5 1968.1 L2275.5 1968.2 L2279.5 1968.4 L2283.5 1968.5 L2287.5 1968.6 L2291.5 1968.7 L2295.5 1968.9 L2299.6 1969.0 L2303.6 1969.1 L2307.6 1969.3 L2311.6 1969.4 L2315.6 1969.5 L2319.6 1969.7 L2323.6 1969.8 L2327.6 1969.9 L2331.6 1970.1 L2335.6 1970.2 L2339.6 1970.4 L2343.6 1970.5 L2347.6 1970.7 L2351.6 1970.8 L2355.6 1971.0 L2359.6 1971.1 L2363.6 1971.3 L2367.6 1971.4 L2371.6 1971.6 L2375.6 1971.7 L2379.6 1971.9 L2383.6 1972.1 L2387.6 1972.2 L2391.6 1972.4 L2395.6 1972.6 L2399.7 1972.7 L2403.7 1972.9 L2407.7 1973.1 L2411.7 1973.2 L2415.7 1973.4 L2419.7 1973.6 L2423.7 1973.8 L2427.7 1973.9 L2431.7 1974.1 L2435.7 1974.3 L2439.7 1974.5 L2443.7 1974.7 L2447.7 1974.9 L2451.7 1975.0 L2455.7 1975.2 L2459.7 1975.4 L2463.7 1975.6 L2467.7 1975.8 L2471.7 1976.0 L2475.7 1976.2 L2479.7 1976.4 L2483.7 1976.6 L2487.7 1976.8 L2491.7 1977.0 L2495.8 1977.2 L2499.8 1977.4 L2503.8 1977.6 L2507.8 1977.8 L2511.8 1978.0 L2515.8 1978.2 L2519.8 1978.5 L2523.8 1978.7 L2527.8 1978.9 L2531.8 1979.1 L2535.8 1979.3 L2539.8 1979.5 L2543.8 1979.8 L2547.8 1980.0 L2551.8 1980.2 L2555.8 1980.4 L2559.8 1980.7 L2563.8 1980.9 L2567.8 1981.1 L2571.8 1981.4 L2575.8 1981.6 L2579.8 1981.8 L2583.8 1982.1 L2587.8 1982.3 L2591.8 1982.5 L2595.9 1982.8 L2599.9 1983.0 L2603.9 1983.3 L2607.9 1983.5 L2611.9 1983.8 L2615.9 1984.0 L2619.9 1984.3 L2623.9 1984.5 L2627.9 1984.8 L2631.9 1985.0 L2635.9 1985.3 L2639.9 1985.5 L2643.9 1985.8" stroke="#0000ff"/>
<path d="M1951.2 1450.0 L1954.2 1450.0 L1957.2 1450.0 L1960.3 1450.0 L1963.3 1450.1 L1966.3 1450.1 L1969.3 1450.1 L1972.3 1450.1 L1975.4 1450.1 L1978.4 1450.2 L1981.4 1450.2 L1984.4 1450.2 L1987.5 1450.3 L1990.5 1450.3 L1993.5 1450.3 L1996.5 1450.3 L1999.5 1450.4 L2002.6 1450.4 L2005.6 1450.5 L2008.6 1450.5 L2011.6 1450.5 L2014.6 1450.6 L2017.7 1450.6 L2020.7 1450.6 L2023.7 1450.7 L2026.7 1450.7 L2029.7 1450.8 L2032.8 1450.8 L2035.8 1450.9 L2038.8 1450.9 L2041.8 1451.0 L2044.8 1451.0 L2047.9 1451.1 L2050.9 1451.1 L2053.9 1451.2 L2056.9 1451.2 L2060.0 1451.3 L2063.0 1451.4 L2066.0 1451.4 L2069.0 1451.5 L2072.0 1451.6 L2075.1 1451.6 L2078.1 1451.7 L2081.1 1451.8 L2084.1 1451.9 L2087.1 1451.9 L2090.2 1452.0 L2093.2 1452.1 L2096.2 1452.2 L2099.2 1452.3 L2102.2 1452.4 L2105.3 1452.4 L2108.3 1452.5 L2111.3 1452.6 L2114.3 1452.7 L2117.4 1452.8 L2120.4 1452.9 L2123.4 1453.0 L2126.4 1453.1 L2129.4 1453.2 L2132.5 1453.3 L2135.5 1453.4 L2138.5 1453.5 L2138.5 1957.5 L2142.5 1957.5 L2146.5 1957.6 L2150.5 1957.6 L2154.6 1957.7 L2158.6 1957.7 L2162.6 1957.8 L2166.6 1957.8 L2170.6 1957.9 L2174.6 1957.9 L2178.6 1958.0 L2182.6 1958.0 L2186.7 1958.1 L2190.7 1958.2 L2194.7 1958.2 L2198.7 1958.3 L2202.7 1958.4 L2206.7 1958.4 L2210.7 1958.5 L2214.7 1958.6 L2218.8 1958.6 L2222.8 1958.7 L2226.8 1958.8 L2230.8 1958.9 L2234.8 1958.9 L2238.8 1959.0 L2242.8 1959.1 L2246.8 1959.2 L2250.9 1959.3 L2254.9 1959.3 L2258.9 1959.4 L2262.9 1959.5 L2266.9 1959.6 L2270.9 1959.7 L2274.9 1959.8 L2278.9 1959.9 L2283.0 1960.0 L2287.0 1960.1 L2291.0 1960.2 L2295.0 1960.3 L2299.0 1960.4 L2303.0 1960.5 L2307.0 1960.6 L2311.0 1960.7 L2315.1 1960.9 L2319.1 1961.0 L2323.1 1961.1 L2327.1 1961.2 L2331.1 1961.3 L2335.1 1961.5 L2339.1 1961.6 L2343.1 1961.7 L2347.2 1961.8 L2351.2 1962.0 L2355.2 1962.1 L2359.2 1962.2 L2363.2 1962.4 L2367.2 1962.5 L2371.2 1962.6 L2375.2 1962.8 L2379.3 1962.9 L2383.3 1963.1 L2387.3 1963.2 L2391.3 1963.4 L2395.3 1963.5 L2399.3 1963.7 L2403.3 1963.8 L2407.3 1964.0 L2411.4 1964.2 L2415.4 1964.3 L2419.4 1964.5 L2423.4 1964.7 L2427.4 1964.8 L2431.4 1965.0 L2435.4 1965.2 L2439.4 1965.4 L2443.5 1965.5 L2447.5 1965.7 L2451.5 1965.9 L2455.5 1966.1 L2459.5 1966.3 L2463.5 1966.5 L2467.5 1966.7 L2471.5 1966.9 L2475.6 1967.0 L2479.6 1967.2 L2483.6 1967.4 L2487.6 1967.7 L2491.6 1967.9 L2495.6 1968.1 L2499.6 1968.3 L2503.6 1968.5 L2507.7 1968.7 L2511.7 1968.9 L2515.7 1969.1 L2519.7 1969.4 L2523.7 1969.6 L2527.7 1969.8 L2531.7 1970.0 L2535.7 1970.3 L2539.8 1970.5 L2543.8 1970.7 L2547.8 1971.0 L2551.8 1971.2 L2555.8 1971.5 L2559.8 1971.7 L2563.8 1972.0 L2567.8 1972.2 L2571.9 1972.5 L2575.9 1972.7 L2579.9 1973.0 L2583.9 1973.2 L2587.9 1973.5 L2591.9 1973.8 L2595.9 1974.0 L2599.9 1974.3 L2604.0 1974.6 L2608.0 1974.9 L2612.0 1975.1 L2616.0 1975.4 L2620.0 1975.7 L2624.0 1976.0 L2628.0 1976.3 L2632.0 1976.6 L2636.1 1976.9 L2640.1 1977.2 L2644.1 1977.5 L2648.1 1977.8 L2652.1 1978.1 L2656.1 1978.4 L2660.1 1978.7 L2664.1 1979.0 L2668.2 1979.3 L2672.2 1979.6 L2676.2 1979.9 L2680.2 1980.3 L2684.2 1980.6 L2688.2 1980.9 L2692.2 1981.3 L2696.2 1981.6 L2700.3 1981.9 L2704.3 1982.3 L2708.3 1982.6 L2712.3 1982.9 L2716.3 1983.3 L2720.3 1983.6 L2724.3 1984.0 L2728.3 1984.4 L2732.4 1984.7 L2736.4 1985.1 L2740.4 1985.4 L2744.4 1985.8" stroke="#ff00ff"/>
<path d="M1951.2 1468.9 L1954.2 1468.9 L1957.2 1468.8 L1960.2 1468.8 L1963.3 1468.7 L1966.3 1468.7 L1969.3 1468.6 L1972.3 1468.6 L1975.3 1468.5 L1978.3 1468.5 L1981.3 1468.4 L1984.4 1468.3 L1987.4 1468.3 L1990.4 1468.2 L1993.4 1468.1 L1996.4 1468.0 L1999.4 1467.9 L2002.4 1467.8 L2005.4 1467.7 L2008.5 1467.6 L2011.5 1467.5 L2014.5 1467.4 L2017.5 1467.3 L2020.5 1467.2 L2023.5 1467.1 L2026.5 1467.0 L2029.6 1466.9 L2032.6 1466.8 L2035.6 1466.6 L2038.6 1466.5 L2041.6 1466.4 L2044.6 1466.2 L2047.6 1466.1 L2050.7 1466.0 L2053.7 1465.8 L2056.7 1465.7 L2059.7 1465.5 L2062.7 1465.4 L2065.7 1465.2 L2068.7 1465.1 L2071.7 1464.9 L2074.8 1464.8 L2077.8 1464.6 L2080.8 1464.5 L2083.8 1464.3 L2086.8 1464.1 L2089.8 1464.0 L2092.8 1463.8 L2095.9 1463.6 L2098.9 1463.4 L2101.9 1463.3 L2104.9 1463.1 L2107.9 1462.9 L2110.9 1462.7 L2113.9 1462.5 L2117.0 1462.4 L2120.0 1462.2 L2123.0 1462.0 L2126.0 1461.8 L2129.0 1461.6 L2132.0 1461.4 L2135.0 1461.2 L2138.0 1461.0 L2141.1 1460.8 L2144.1 1460.6 L2147.1 1460.4 L2150.1 1460.2 L2153.1 1460.0 L2156.1 1459.8 L2159.1 1459.6 L2162.2 1459.4 L2165.2 1459.1 L2168.2 1458.9 L2171.2 1458.7 L2174.2 1458.5 L2177.2 1458.3 L2180.2 1458.1 L2183.2 1457.9 L2186.3 1457.6 L2189.3 1457.4 L2192.3 1457.2 L2195.3 1457.0 L2198.3 1456.8 L2201.3 1456.5 L2204.3 1456.3 L2207.4 1456.1 L2210.4 1455.9 L2213.4 1455.6 L2216.4 1455.4 L2219.4 1455.2 L2222.4 1455.0 L2225.4 1454.7 L2228.5 1454.5 L2231.5 1454.3 L2234.5 1454.1 L2237.5 1453.8 L2240.5 1453.6 L2243.5 1453.4 L2246.5 1453.1 L2249.6 1452.9 L2252.6 1452.7 L2255.6 1452.5 L2258.6 1452.2 L2261.6 1452.0 L2264.6 1451.8 L2267.6 1451.5 L2270.6 1451.3 L2273.7 1451.1 L2276.7 1450.8 L2279.7 1450.6 L2282.7 1450.3 L2285.7 1450.1 L2288.7 1449.9 L2291.7 1449.7 L2294.8 1449.5 L2297.8 1449.3 L2300.8 1449.1 L2303.8 1448.9 L2306.8 1448.7 L2309.8 1448.6 L2312.8 1448.4 L2315.9 1448.2 L2318.9 1448.0 L2321.9 1447.9 L2324.9 1447.7 L2327.9 1447.6 L2330.9 1447.5 L2333.9 1447.4 L2336.9 1447.3 L2340.0 1447.3 L2343.0 1447.3 L2346.0 1447.3 L2349.0 1447.4 L2352.0 1447.5 L2355.0 1447.6 L2358.0 1447.8 L2361.1 1448.0 L2364.1 1448.2 L2367.1 1448.5 L2370.1 1448.7 L2373.1 1449.0 L2376.1 1449.2 L2379.1 1449.5 L2382.2 1449.8 L2385.2 1450.0 L2388.2 1450.3 L2391.2 1450.6 L2394.2 1450.9 L2397.2 1451.3 L2400.2 1451.7 L2403.2 1452.1 L2406.3 1452.5 L2409.3 1452.9 L2412.3 1453.3 L2415.3 1453.8 L2415.3 1957.5 L2419.3 1957.7 L2423.4 1957.8 L2427.4 1958.0 L2431.4 1958.1 L2435.4 1958.3 L2439.5 1958.5 L2443.5 1958.7 L2447.5 1958.8 L2451.5 1959.0 L2455.6 1959.2 L2459.6 1959.4 L2463.6 1959.6 L2467.6 1959.7 L2471.7 1959.9 L2475.7 1960.1 L2479.7 1960.3 L2483.8 1960.5 L2487.8 1960.7 L2491.8 1960.9 L2495.8 1961.1 L2499.9 1961.3 L2503.9 1961.5 L2507.9 1961.7 L2511.9 1961.9 L2516.0 1962.1 L2520.0 1962.3 L2524.0 1962.6 L2528.0 1962.8 L2532.1 1963.0 L2536.1 1963.2 L2540.1 1963.4 L2544.1 1963.7 L2548.2 1963.9 L2552.2 1964.1 L2556.2 1964.4 L2560.3 1964.6 L2564.3 1964.8 L2568.3 1965.1 L2572.3 1965.3 L2576.4 1965.6 L2580.4 1965.8 L2584.4 1966.1 L2588.4 1966.3 L2592.5 1966.6 L2596.5 1966.8 L2600.5 1967.1 L2604.5 1967.4 L2608.6 1967.6 L2612.6 1967.9 L2616.6 1968.2 L2620.7 1968.4 L2624.7 1968.7 L2628.7 1969.0 L2632.7 1969.3 L2636.8 1969.6 L2640.8 1969.8 L2644.8 1970.1 L2648.8 1970.4 L2652.9 1970.7 L2656.9 1971.0 L2660.9 1971.3 L2664.9 1971.6 L2669.0 1971.9 L2673.0 1972.2 L2677.0 1972.5 L2681.0 1972.8 L2685.1 1973.1 L2689.1 1973.5 L2693.1 1973.8 L2697.2 1974.1 L2701.2 1974.4 L2705.2 1974.8 L2709.2 1975.1 L2713.3 1975.4 L2717.3 1975.7 L2721.3 1976.1 L2725.3 1976.4 L2729.4 1976.8 L2733.4 1977.1 L2737.4 1977.5 L2741.4 1977.8 L2745.5 1978.2 L2749.5 1978.5 L2753.5 1978.9 L2757.6 1979.2 L2761.6 1979.6 L2765.6 1980.0 L2769.6 1980.3 L2773.7 1980.7 L2777.7 1981.1 L2781.7 1981.5 L2785.7 1981.8 L2789.8 1982.2 L2793.8 1982.6 L2797.8 1983.0 L2801.8 1983.4 L2805.9 1983.8 L2809.9 1984.2 L2813.9 1984.6 L2817.9 1985.0 L2822.0 1985.4 L2826.0 1985.8" stroke="#008000"/>
<path d="M1951.2 1579.6 L1954.2 1579.6 L1957.2 1579.6 L1960.2 1579.6 L1963.2 1579.6 L1966.2 1579.6 L1969.2 1579.6 L1972.2 1579.6 L1975.3 1579.6 L1978.3 1579.6 L1981.3 1579.6 L1984.3 1579.4 L1987.3 1579.3 L1990.3 1579.1 L1993.3 1578.9 L1996.3 1578.6 L1999.3 1578.3 L2002.3 1578.1 L2005.3 1577.8 L2008.3 1577.5 L2011.3 1577.2 L2014.3 1576.9 L2017.3 1576.5 L2020.3 1576.1 L2023.4 1575.7 L2026.4 1575.3 L2029.4 1574.9 L2032.4 1574.4 L2035.4 1573.9 L2038.4 1573.4 L2041.4 1572.9 L2044.4 1572.4 L2047.4 1571.8 L2050.4 1571.3 L2053.4 1570.7 L2056.4 1570.1 L2059.4 1569.5 L2062.4 1568.8 L2065.4 1568.2 L2068.4 1567.5 L2071.5 1566.8 L2074.5 1566.1 L2077.5 1565.4 L2080.5 1564.7 L2083.5 1563.9 L2086.5 1563.2 L2089.5 1562.4 L2092.5 1561.6 L2095.5 1560.8 L2098.5 1559.9 L2101.5 1559.1 L2104.5 1558.2 L2107.5 1557.4 L2110.5 1556.5 L2113.5 1555.6 L2116.5 1554.7 L2119.6 1553.7 L2122.6 1552.8 L2125.6 1551.8 L2128.6 1550.9 L2131.6 1549.9 L2134.6 1548.9 L2137.6 1547.9 L2140.6 1546.9 L2143.6 1545.9 L2146.6 1544.8 L2149.6 1543.7 L2152.6 1542.7 L2155.6 1541.6 L2158.6 1540.5 L2161.6 1539.4 L2164.6 1538.3 L2167.7 1537.2 L2170.7 1536.1 L2173.7 1534.9 L2176.7 1533.7 L2179.7 1532.6 L2182.7 1531.4 L2185.7 1530.2 L2188.7 1529.0 L2191.7 1527.8 L2194.7 1526.6 L2197.7 1525.4 L2200.7 1524.2 L2203.7 1522.9 L2206.7 1521.7 L2209.7 1520.4 L2212.7 1519.2 L2215.8 1517.9 L2218.8 1516.6 L2221.8 1515.3 L2224.8 1514.0 L2227.8 1512.7 L2230.8 1511.4 L2233.8 1510.1 L2236.8 1508.8 L2239.8 1507.4 L2242.8 1506.0 L2245.8 1504.6 L2248.8 1503.1 L2251.8 1501.7 L2254.8 1500.3 L2257.8 1499.0 L2260.8 1497.7 L2263.9 1496.6 L2266.9 1495.5 L2269.9 1494.5 L2272.9 1493.5 L2275.9 1492.6 L2278.9 1491.7 L2281.9 1490.8 L2284.9 1490.0 L2287.9 1489.1 L2290.9 1488.3 L2293.9 1487.5 L2296.9 1486.8 L2299.9 1486.0 L2302.9 1485.3 L2305.9 1484.5 L2308.9 1483.8 L2312.0 1483.1 L2315.0 1482.4 L2318.0 1481.8 L2321.0 1481.1 L2324.0 1480.5 L2327.0 1479.8 L2330.0 1479.2 L2333.0 1478.6 L2336.0 1477.9 L2339.0 1477.3 L2342.0 1476.7 L2345.0 1476.1 L2348.0 1475.5 L2351.0 1474.9 L2354.0 1474.3 L2357.0 1473.7 L2360.1 1473.2 L2363.1 1472.6 L2366.1 1472.0 L2369.1 1471.5 L2372.1 1470.9 L2375.1 1470.3 L2378.1 1469.8 L2381.1 1469.2 L2384.1 1468.7 L2387.1 1468.2 L2390.1 1467.6 L2393.1 1467.1 L2396.1 1466.5 L2399.1 1466.0 L2402.1 1465.5 L2405.1 1464.9 L2408.2 1464.4 L2411.2 1463.9 L2414.2 1463.3 L2417.2 1462.8 L2420.2 1462.3 L2423.2 1461.8 L2426.2 1461.2 L2429.2 1460.7 L2432.2 1460.2 L2435.2 1459.7 L2438.2 1459.2 L2441.2 1458.7 L2444.2 1458.2 L2447.2 1457.7 L2450.2 1457.2 L2453.2 1456.7 L2456.3 1456.2 L2459.3 1455.7 L2462.3 1455.2 L2465.3 1454.7 L2468.3 1454.3 L2471.3 1453.8 L2474.3 1453.4 L2477.3 1452.9 L2480.3 1452.4 L2483.3 1451.9 L2486.3 1451.4 L2489.3 1450.9 L2492.3 1450.5 L2495.3 1450.1 L2498.3 1449.7 L2501.3 1449.4 L2504.4 1449.2 L2507.4 1449.0 L2510.4 1448.8 L2513.4 1448.6 L2516.4 1448.4 L2519.4 1448.3 L2522.4 1448.2 L2525.4 1448.2 L2528.4 1448.2 L2531.4 1448.3 L2534.4 1448.4 L2537.4 1448.6 L2540.4 1448.7 L2543.4 1448.9 L2546.4 1449.1 L2549.4 1449.5 L2552.5 1450.1 L2555.5 1450.7 L2558.5 1451.2 L2561.5 1451.7 L2564.5 1452.3 L2567.5 1452.8 L2570.5 1453.4 L2573.5 1454.0 L2573.5 1957.5 L2577.5 1957.8 L2581.5 1958.0 L2585.5 1958.3 L2589.5 1958.5 L2593.5 1958.8 L2597.5 1959.0 L2601.5 1959.3 L2605.5 1959.6 L2609.5 1959.8 L2613.5 1960.1 L2617.5 1960.4 L2621.5 1960.7 L2625.5 1961.0 L2629.5 1961.2 L2633.5 1961.5 L2637.5 1961.8 L2641.5 1962.1 L2645.5 1962.4 L2649.5 1962.7 L2653.5 1963.0 L2657.5 1963.3 L2661.5 1963.6 L2665.5 1963.9 L2669.5 1964.2 L2673.5 1964.5 L2677.5 1964.8 L2681.5 1965.1 L2685.5 1965.5 L2689.5 1965.8 L2693.5 1966.1 L2697.5 1966.4 L2701.5 1966.8 L2705.5 1967.1 L2709.5 1967.4 L2713.5 1967.8 L2717.5 1968.1 L2721.5 1968.4 L2725.5 1968.8 L2729.5 1969.1 L2733.5 1969.5 L2737.5 1969.8 L2741.5 1970.2 L2745.5 1970.6 L2749.5 1970.9 L2753.5 1971.3 L2757.5 1971.7 L2761.5 1972.0 L2765.5 1972.4 L2769.5 1972.8 L2773.5 1973.1 L2777.5 1973.5 L2781.5 1973.9 L2785.5 1974.3 L2789.5 1974.7 L2793.5 1975.1 L2797.5 1975.5 L2801.5 1975.9 L2805.5 1976.3 L2809.5 1976.7 L2813.5 1977.1 L2817.5 1977.5 L2821.5 1977.9 L2825.5 1978.3 L2829.5 1978.7 L2833.5 1979.2 L2837.5 1979.6 L2841.5 1980.0 L2845.5 1980.4 L2849.5 1980.9 L2853.5 1981.3 L2857.5 1981.7 L2861.5 1982.2 L2865.5 1982.6 L2869.5 1983.1 L2873.5 1983.5 L2877.5 1984.0 L2881.5 1984.4 L2885.5 1984.9 L2889.5 1985.3 L2893.5 1985.8" stroke="#000080"/>
<path d="M1951.2 1925.5 L1954.2 1925.5 L1957.2 1925.5 L1960.2 1925.4 L1963.2 1925.3 L1966.2 1925.2 L1969.2 1925.1 L1972.3 1925.0 L1975.3 1924.9 L1978.3 1924.8 L1981.3 1924.7 L1984.3 1924.5 L1987.3 1924.3 L1990.3 1924.0 L1993.3 1923.8 L1996.3 1923.5 L1999.3 1923.2 L2002.3 1922.9 L2005.3 1922.6 L2008.3 1922.3 L2011.3 1921.9 L2014.4 1921.5 L2017.4 1921.1 L2020.4 1920.7 L2023.4 1920.3 L2026.4 1919.8 L2029.4 1919.4 L2032.4 1918.9 L2035.4 1918.4 L2038.4 1917.9 L2041.4 1917.3 L2044.4 1916.7 L2047.4 1916.1 L2050.4 1915.5 L2053.4 1914.9 L2056.5 1914.3 L2059.5 1913.6 L2062.5 1912.9 L2065.5 1912.2 L2068.5 1911.5 L2071.5 1910.7 L2074.5 1910.0 L2077.5 1909.2 L2080.5 1908.4 L2083.5 1907.6 L2086.5 1906.7 L2089.5 1905.8 L2092.5 1905.0 L2095.6 1904.0 L2098.6 1903.1 L2101.6 1902.2 L2104.6 1901.2 L2107.6 1900.2 L2110.6 1899.2 L2113.6 1898.2 L2116.6 1897.1 L2119.6 1896.0 L2122.6 1894.9 L2125.6 1893.8 L2128.6 1892.7 L2131.6 1891.5 L2134.6 1890.3 L2137.7 1889.1 L2140.7 1887.9 L2143.7 1886.7 L2146.7 1885.4 L2149.7 1884.1 L2152.7 1882.8 L2155.7 1881.5 L2158.7 1880.1 L2161.7 1878.7 L2164.7 1877.3 L2167.7 1875.9 L2170.7 1874.5 L2173.7 1873.0 L2176.8 1871.5 L2179.8 1870.0 L2182.8 1868.5 L2185.8 1866.9 L2188.8 1865.4 L2191.8 1863.8 L2194.8 1862.1 L2197.8 1860.5 L2200.8 1858.8 L2203.8 1857.1 L2206.8 1855.4 L2209.8 1853.7 L2212.8 1851.9 L2215.8 1850.2 L2218.9 1848.4 L2221.9 1846.5 L2224.9 1844.7 L2227.9 1842.8 L2230.9 1840.9 L2233.9 1839.0 L2236.9 1837.0 L2239.9 1835.1 L2242.9 1833.1 L2245.9 1831.1 L2248.9 1829.0 L2251.9 1827.0 L2254.9 1824.9 L2257.9 1822.8 L2261.0 1820.6 L2264.0 1818.5 L2267.0 1816.3 L2270.0 1814.1 L2273.0 1811.9 L2276.0 1809.6 L2279.0 1807.3 L2282.0 1805.0 L2285.0 1802.7 L2288.0 1800.4 L2291.0 1798.0 L2294.0 1795.6 L2297.0 1793.2 L2300.1 1790.8 L2303.1 1788.3 L2306.1 1785.8 L2309.1 1783.3 L2312.1 1780.8 L2315.1 1778.2 L2318.1 1775.6 L2321.1 1773.0 L2324.1 1770.4 L2327.1 1767.8 L2330.1 1765.1 L2333.1 1762.4 L2336.1 1759.7 L2339.1 1757.0 L2342.2 1754.2 L2345.2 1751.5 L2348.2 1748.7 L2351.2 1745.9 L2354.2 1743.0 L2357.2 1740.2 L2360.2 1737.3 L2363.2 1734.4 L2366.2 1731.5 L2369.2 1728.5 L2372.2 1725.6 L2375.2 1722.6 L2378.2 1719.6 L2381.2 1716.5 L2384.3 1713.5 L2387.3 1710.4 L2390.3 1707.4 L2393.3 1704.2 L2396.3 1701.1 L2399.3 1698.0 L2402.3 1694.8 L2405.3 1691.6 L2408.3 1688.4 L2411.3 1685.2 L2414.3 1682.0 L2417.3 1678.7 L2420.3 1675.4 L2423.4 1672.1 L2426.4 1668.8 L2429.4 1665.5 L2432.4 1662.1 L2435.4 1658.7 L2438.4 1655.3 L2441.4 1651.9 L2444.4 1648.5 L2447.4 1645.1 L2450.4 1641.6 L2453.4 1638.1 L2456.4 1634.6 L2459.4 1631.1 L2462.4 1627.6 L2465.5 1624.0 L2468.5 1620.4 L2471.5 1616.8 L2474.5 1613.2 L2477.5 1609.6 L2480.5 1606.0 L2483.5 1602.3 L2486.5 1598.6 L2489.5 1594.9 L2492.5 1591.2 L2495.5 1587.5 L2498.5 1583.7 L2501.5 1580.0 L2504.5 1576.2 L2507.6 1572.5 L2510.6 1568.7 L2513.6 1564.9 L2516.6 1561.1 L2519.6 1557.2 L2522.6 1553.3 L2525.6 1549.3 L2528.6 1545.2 L2531.6 1540.9 L2534.6 1536.7 L2537.6 1532.5 L2540.6 1528.5 L2543.6 1524.6 L2546.7 1520.7 L2549.7 1516.8 L2552.7 1513.1 L2555.7 1509.5 L2558.7 1506.0 L2561.7 1502.8 L2564.7 1499.9 L2567.7 1497.1 L2570.7 1494.5 L2573.7 1492.3 L2576.7 1490.4 L2579.7 1488.8 L2582.7 1487.3 L2585.7 1485.7 L2588.8 1484.1 L2591.8 1482.6 L2594.8 1481.1 L2597.8 1479.6 L2600.8 1478.1 L2603.8 1476.6 L2606.8 1475.2 L2609.8 1473.8 L2612.8 1472.4 L2615.8 1471.0 L2618.8 1469.6 L2621.8 1468.3 L2624.8 1467.0 L2627.9 1465.7 L2630.9 1464.4 L2633.9 1463.1 L2636.9 1461.8 L2639.9 1460.5 L2642.9 1459.3 L2645.9 1458.2 L2648.9 1457.2 L2651.9 1456.3 L2654.9 1455.4 L2657.9 1454.6 L2660.9 1453.9 L2663.9 1453.2 L2666.9 1452.5 L2670.0 1451.9 L2673.0 1451.3 L2676.0 1450.7 L2679.0 1450.1 L2682.0 1449.6 L2685.0 1449.2 L2688.0 1448.8 L2691.0 1448.5 L2694.0 1448.1 L2697.0 1447.8 L2700.0 1447.6 L2703.0 1447.6 L2706.0 1447.9 L2709.0 1448.3 L2712.1 1448.8 L2715.1 1449.4 L2718.1 1450.1 L2721.1 1450.9 L2724.1 1451.9 L2727.1 1453.0 L2730.1 1454.3 L2730.1 1957.5 L2734.2 1957.9 L2738.2 1958.3 L2742.2 1958.7 L2746.3 1959.2 L2750.3 1959.6 L2754.4 1960.0 L2758.4 1960.5 L2762.5 1960.9 L2766.5 1961.3 L2770.6 1961.8 L2774.7 1962.2 L2778.7 1962.7 L2782.8 1963.1 L2786.8 1963.6 L2790.8 1964.0 L2794.9 1964.5 L2798.9 1965.0 L2803.0 1965.4 L2807.1 1965.9 L2811.1 1966.4 L2815.2 1966.9 L2819.2 1967.3 L2823.2 1967.8 L2827.3 1968.3 L2831.3 1968.8 L2835.4 1969.3 L2839.4 1969.8 L2843.5 1970.3 L2847.6 1970.8 L2851.6 1971.3 L2855.7 1971.8 L2859.7 1972.3 L2863.8 1972.9 L2867.8 1973.4 L2871.8 1973.9 L2875.9 1974.4 L2879.9 1975.0 L2884.0 1975.5 L2888.1 1976.1 L2892.1 1976.6 L2896.2 1977.2 L2900.2 1977.7 L2904.2 1978.3 L2908.3 1978.8 L2912.3 1979.4 L2916.4 1979.9 L2920.5 1980.5 L2924.5 1981.1 L2928.6 1981.7 L2932.6 1982.2 L2936.7 1982.8 L2940.7 1983.4 L2944.8 1984.0 L2948.8 1984.6 L2952.8 1985.2 L2956.9 1985.8" stroke="#8000ff"/>
</g>
<path d="M2327.5 2066.4 V1985.6" stroke="#808080" stroke-width="6.8" stroke-linecap="round" stroke-dasharray="0 11.47" fill="none"/>
<path d="M2518.4 2066.4 V1985.6" stroke="#808080" stroke-width="6.8" stroke-linecap="round" stroke-dasharray="0 11.47" fill="none"/>
<path d="M2643.9 2066.4 V1985.6" stroke="#808080" stroke-width="6.8" stroke-linecap="round" stroke-dasharray="0 11.47" fill="none"/>
<path d="M2744.4 2066.4 V1985.6" stroke="#808080" stroke-width="6.8" stroke-linecap="round" stroke-dasharray="0 11.47" fill="none"/>
<path d="M2826.0 2066.4 V1985.6" stroke="#808080" stroke-width="6.8" stroke-linecap="round" stroke-dasharray="0 11.47" fill="none"/>
<path d="M2893.5 2066.4 V1985.6" stroke="#808080" stroke-width="6.8" stroke-linecap="round" stroke-dasharray="0 11.47" fill="none"/>
<path d="M2956.9 2066.4 V1985.6" stroke="#808080" stroke-width="6.8" stroke-linecap="round" stroke-dasharray="0 11.47" fill="none"/>
<text x="2426.2" y="1312.9" font-family='"Liberation Serif", "DejaVu Serif", serif' font-weight="bold" font-size="41" fill="#000" xml:space="preserve">GM1-SU6-no <tspan font-weight="normal">σ</tspan>*, <tspan font-weight="normal">ϕ</tspan><tspan dx="-3.3">:</tspan>   <tspan dx="-1.2">npe</tspan><tspan font-weight="normal">μ</tspan>+hyperons</text>
<text x="2244.4" y="1731.6" text-anchor="start" font-family='"Liberation Serif", "DejaVu Serif", serif' font-weight="bold" font-size="40" fill="#000" >B</text>
<text x="2839.4" y="1954.3" text-anchor="start" font-family='"Liberation Serif", "DejaVu Serif", serif' font-weight="bold" font-size="40" fill="#000" >A</text>
<text x="2225.9" y="2030.8" font-family='"Liberation Serif", "DejaVu Serif", serif' font-weight="bold" font-style="italic" font-size="40" fill="#000">R<tspan font-size="26" dy="16.2">crit</tspan></text>
<path d="M2270.8 1737.0 L2305.2 1755.0" stroke="#c0c0c0" stroke-width="4.6" stroke-linecap="round" fill="none"/><path d="M2321.6 1763.6 L2302.5 1760.1 L2307.8 1749.9Z" fill="#c0c0c0" stroke="#c0c0c0" stroke-width="3.2" stroke-linejoin="round"/>
<text x="2491.0" y="2301.5" text-anchor="middle" font-family='"Liberation Serif", "DejaVu Serif", serif' font-size="67" fill="#000"><tspan font-size="74.2">(</tspan>d<tspan font-size="74.2">)</tspan></text>
</svg>
</body></html>
